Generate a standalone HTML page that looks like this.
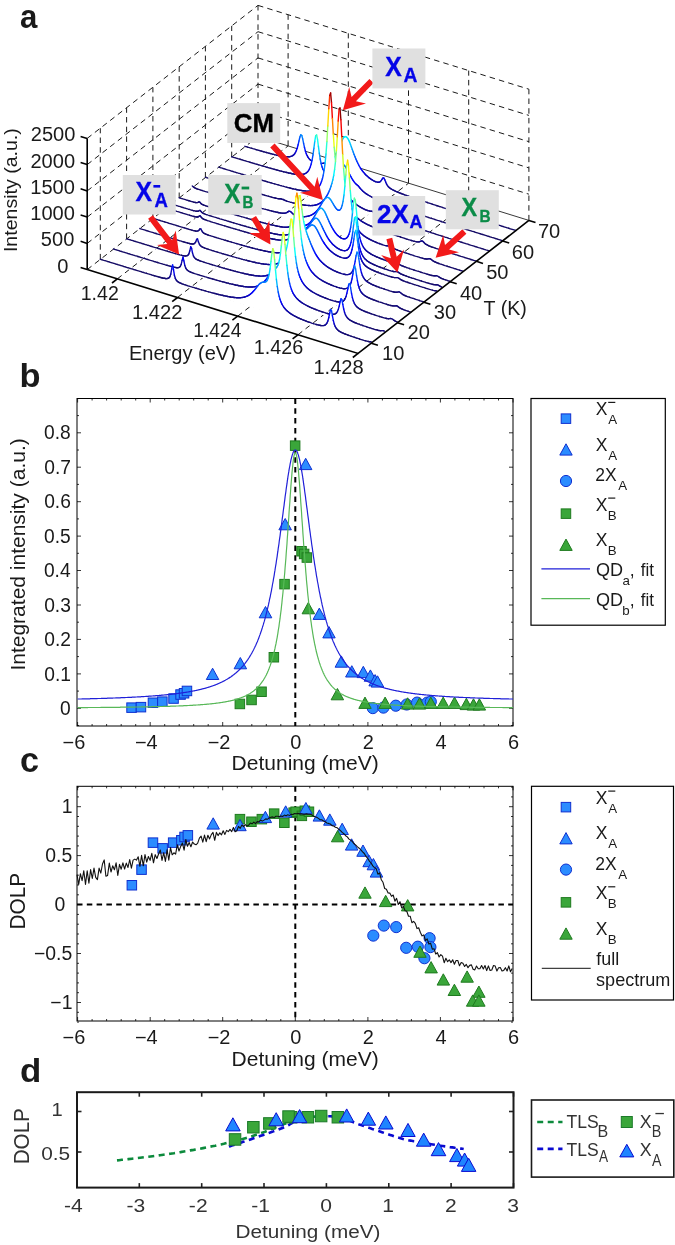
<!DOCTYPE html>
<html><head><meta charset="utf-8"><title>Figure</title>
<style>html,body{margin:0;padding:0;background:#fff;width:675px;height:1245px;overflow:hidden;font-family:"Liberation Sans",sans-serif;}svg{display:block;will-change:transform;}</style>
</head><body><svg width="675" height="1245" viewBox="0 0 675 1245" style="font-family:'Liberation Sans',sans-serif"><g stroke="#1a1a1a" stroke-width="1.0" stroke-dasharray="5.5,4.2" fill="none"><line x1="100.3" y1="259.4" x2="100.3" y2="128.2"/><line x1="126.6" y1="238.9" x2="126.6" y2="107.7"/><line x1="152.9" y1="218.5" x2="152.9" y2="87.3"/><line x1="179.2" y1="198" x2="179.2" y2="66.8"/><line x1="205.4" y1="177.5" x2="205.4" y2="46.3"/><line x1="231.7" y1="157.1" x2="231.7" y2="25.9"/><line x1="258" y1="136.6" x2="258" y2="5.4"/><line x1="87.2" y1="269.6" x2="258" y2="136.6"/><line x1="87.2" y1="243.4" x2="258" y2="110.4"/><line x1="87.2" y1="217.1" x2="258" y2="84.1"/><line x1="87.2" y1="190.9" x2="258" y2="57.9"/><line x1="87.2" y1="164.6" x2="258" y2="31.7"/><line x1="87.2" y1="138.4" x2="258" y2="5.4"/><line x1="288.1" y1="145.9" x2="288.1" y2="14.7"/><line x1="348.3" y1="164.5" x2="348.3" y2="33.3"/><line x1="408.5" y1="183.2" x2="408.5" y2="52"/><line x1="468.7" y1="201.8" x2="468.7" y2="70.6"/><line x1="528.9" y1="220.4" x2="528.9" y2="89.2"/><line x1="258" y1="110.4" x2="528.9" y2="194.2"/><line x1="258" y1="84.1" x2="528.9" y2="167.9"/><line x1="258" y1="57.9" x2="528.9" y2="141.7"/><line x1="258" y1="31.7" x2="528.9" y2="115.4"/><line x1="258" y1="5.4" x2="528.9" y2="89.2"/><line x1="117.3" y1="278.9" x2="288.1" y2="145.9"/><line x1="177.5" y1="297.5" x2="348.3" y2="164.5"/><line x1="237.7" y1="316.2" x2="408.5" y2="183.2"/><line x1="297.9" y1="334.8" x2="468.7" y2="201.8"/><line x1="100.3" y1="259.4" x2="371.2" y2="343.2"/><line x1="126.6" y1="238.9" x2="397.5" y2="322.7"/><line x1="152.9" y1="218.5" x2="423.8" y2="302.2"/><line x1="179.2" y1="198" x2="450.1" y2="281.8"/><line x1="205.4" y1="177.5" x2="476.3" y2="261.3"/><line x1="231.7" y1="157.1" x2="502.6" y2="240.9"/></g><line x1="258" y1="136.6" x2="528.9" y2="220.4" stroke="#222" stroke-width="0.9"/><g fill="none" stroke-width="1.4" stroke-linejoin="round" stroke-linecap="round"><polygon points="244.9,146.3 245.8,146.6 246.7,146.8 247.6,147.1 248.5,147.4 249.4,147.6 250.3,147.9 251.2,148.1 252.1,148.4 253,148.7 253.9,148.9 254.8,149.2 255.7,149.5 256.6,149.7 257.5,150 258.4,150.2 259.3,150.5 260.2,150.8 261.1,151 262,151.3 262.9,151.5 263.8,151.8 264.7,152 265.6,152.3 266.5,152.5 267.4,152.8 268.3,153 269.2,153.3 270.1,153.5 271,153.7 272,154 272.9,154.2 273.8,154.4 274.7,154.7 275.6,154.9 276.5,155.1 277.4,155.3 278.3,155.5 279.2,155.7 280.1,155.9 281,156.1 281.9,156.2 282.8,156.4 283.7,156.5 284.6,156.6 285.5,156.7 286.4,156.8 287.3,156.8 288.2,156.8 289.1,156.8 290,156.7 290.9,156.4 291.8,156.1 292.7,155.6 293.6,154.9 294.5,154 295.4,152.6 296.3,150.7 297.2,148.2 298.1,144.8 299,140.9 299.9,137 300.8,134.8 301.8,135.5 302.7,138.9 303.6,143.3 304.5,147.5 305.4,151 306.3,153.7 307.2,155.7 308.1,157.3 309,158.6 309.9,159.6 310.8,160.3 311.7,161 312.6,161.5 313.5,162 314.4,162.3 315.3,162.6 316.2,162.9 317.1,163.1 318,163.2 318.9,163.3 319.8,163.4 320.7,163.4 321.6,163.4 322.5,163.4 323.4,163.2 324.3,163.1 325.2,162.9 326.1,162.6 327,162.3 327.9,161.9 328.8,161.4 329.7,160.9 330.6,160.2 331.6,159.4 332.5,158.5 333.4,157.5 334.3,156.4 335.2,155.1 336.1,153.6 337,152 337.9,150.2 338.8,148.3 339.7,146.2 340.6,144 341.5,141.8 342.4,139.7 343.3,138 344.2,137 345.1,136.6 346,136.7 346.9,137.4 347.8,138.5 348.7,140.1 349.6,142.1 350.5,144.4 351.4,146.9 352.3,149.4 353.2,151.9 354.1,154.4 355,156.8 355.9,159 356.8,161.1 357.7,163 358.6,164.8 359.5,166.5 360.4,168 361.3,169.4 362.3,170.7 363.2,171.9 364.1,172.9 365,174 365.9,174.9 366.8,175.8 367.7,176.6 368.6,177.4 369.5,178.1 370.4,178.7 371.3,179.4 372.2,179.9 373.1,180.5 374,181 374.9,181.4 375.8,181.8 376.7,182 377.6,182.2 378.5,182.3 379.4,182.1 380.3,181.6 381.2,180.6 382.1,179.2 383,177.9 383.9,178.1 384.8,179.8 385.7,182.1 386.6,184.1 387.5,185.6 388.4,186.7 389.3,187.6 390.2,188.3 391.1,188.9 392.1,189.5 393,190 393.9,190.4 394.8,190.8 395.7,191.3 396.6,191.7 397.5,192 398.4,192.4 399.3,192.8 400.2,193.1 401.1,193.5 402,193.8 402.9,194.2 403.8,194.5 404.7,194.8 405.6,195.2 406.5,195.5 407.4,195.8 408.3,196.1 409.2,196.4 410.1,196.8 411,197.1 411.9,197.4 412.8,197.7 413.7,198 414.6,198.3 415.5,198.6 416.4,198.9 417.3,199.2 418.2,199.5 419.1,199.8 420,200.1 420.9,200.4 421.9,200.7 422.8,201 423.7,201.3 424.6,201.6 425.5,201.9 426.4,202.2 427.3,202.5 428.2,202.8 429.1,203.1 430,203.4 430.9,203.7 431.8,204 432.7,204.3 433.6,204.6 434.5,204.9 435.4,205.2 436.3,205.5 437.2,205.8 438.1,206 439,206.3 439.9,206.6 440.8,206.9 441.7,207.2 442.6,207.5 443.5,207.8 444.4,208.1 445.3,208.4 446.2,208.7 447.1,208.9 448,209.2 448.9,209.5 449.8,209.8 450.7,210.1 451.6,210.4 452.6,210.7 453.5,210.9 454.4,211.2 455.3,211.5 456.2,211.8 457.1,212.1 458,212.4 458.9,212.7 459.8,212.9 460.7,213.2 461.6,213.5 462.5,213.8 463.4,214.1 464.3,214.4 465.2,214.7 466.1,214.9 467,215.2 467.9,215.5 468.8,215.8 469.7,216.1 470.6,216.4 471.5,216.6 472.4,216.9 473.3,217.2 474.2,217.5 475.1,217.8 476,218.1 476.9,218.3 477.8,218.6 478.7,218.9 479.6,219.2 480.5,219.5 481.4,219.8 482.4,220 483.3,220.3 484.2,220.6 485.1,220.9 486,221.2 486.9,221.5 487.8,221.7 488.7,222 489.6,222.3 490.5,222.6 491.4,222.9 492.3,223.2 493.2,223.4 494.1,223.7 495,224 495.9,224.3 496.8,224.6 497.7,224.8 498.6,225.1 499.5,225.4 500.4,225.7 501.3,226 502.2,226.3 503.1,226.5 504,226.8 504.9,227.1 505.8,227.4 506.7,227.7 507.6,227.9 508.5,228.2 509.4,228.5 510.3,228.8 511.2,229.1 512.1,229.3 513.1,229.6 514,229.9 514.9,230.2 515.8,230.5 515.8,231.8 244.9,148" fill="#fff" stroke="none"/><polyline points="244.9,146.3 245.8,146.6 246.7,146.8 247.6,147.1" stroke="#160c6c"/><polyline points="247.6,147.1 248.5,147.4 249.4,147.6 250.3,147.9 251.2,148.1" stroke="#150c6c"/><polyline points="251.2,148.1 252.1,148.4 253,148.7 253.9,148.9 254.8,149.2 255.7,149.5 256.6,149.7" stroke="#150c6d"/><polyline points="256.6,149.7 257.5,150 258.4,150.2 259.3,150.5 260.2,150.8 261.1,151" stroke="#150c6e"/><polyline points="261.1,151 262,151.3 262.9,151.5 263.8,151.8" stroke="#150b6f"/><polyline points="263.8,151.8 264.7,152 265.6,152.3 266.5,152.5" stroke="#150b70"/><polyline points="266.5,152.5 267.4,152.8 268.3,153 269.2,153.3" stroke="#150b71"/><polyline points="269.2,153.3 270.1,153.5 271,153.7" stroke="#150b72"/><polyline points="271,153.7 272,154 272.9,154.2" stroke="#140b73"/><polyline points="272.9,154.2 273.8,154.4 274.7,154.7" stroke="#140b74"/><polyline points="274.7,154.7 275.6,154.9 276.5,155.1" stroke="#140b75"/><polyline points="276.5,155.1 277.4,155.3" stroke="#140b76"/><polyline points="277.4,155.3 278.3,155.5" stroke="#140b77"/><polyline points="278.3,155.5 279.2,155.7 280.1,155.9" stroke="#140b78"/><polyline points="280.1,155.9 281,156.1" stroke="#130b79"/><polyline points="281,156.1 281.9,156.2" stroke="#130a7b"/><polyline points="281.9,156.2 282.8,156.4" stroke="#130a7c"/><polyline points="282.8,156.4 283.7,156.5" stroke="#130a7d"/><polyline points="283.7,156.5 284.6,156.6" stroke="#130a7f"/><polyline points="284.6,156.6 285.5,156.7" stroke="#120a80"/><polyline points="285.5,156.7 286.4,156.8" stroke="#120a82"/><polyline points="286.4,156.8 287.3,156.8" stroke="#120a85"/><polyline points="287.3,156.8 288.2,156.8" stroke="#110987"/><polyline points="288.2,156.8 289.1,156.8" stroke="#11098a"/><polyline points="289.1,156.8 290,156.7" stroke="#10098e"/><polyline points="290,156.7 290.9,156.4" stroke="#100893"/><polyline points="290.9,156.4 291.8,156.1" stroke="#0f0898"/><polyline points="291.8,156.1 292.7,155.6" stroke="#0e079f"/><polyline points="292.7,155.6 293.6,154.9" stroke="#0d07a7"/><polyline points="293.6,154.9 294.5,154" stroke="#0b06b1"/><polyline points="294.5,154 295.4,152.6" stroke="#0905bf"/><polyline points="295.4,152.6 296.3,150.7" stroke="#0603d1"/><polyline points="296.3,150.7 297.2,148.2" stroke="#0301e8"/><polyline points="297.2,148.2 298.1,144.8" stroke="#0006ff"/><polyline points="298.1,144.8 299,140.9" stroke="#0027ff"/><polyline points="299,140.9 299.9,137" stroke="#004eff"/><polyline points="299.9,137 300.8,134.8" stroke="#0073ff"/><polyline points="300.8,134.8 301.8,135.5" stroke="#0089ff"/><polyline points="301.8,135.5 302.7,138.9" stroke="#0085ff"/><polyline points="302.7,138.9 303.6,143.3" stroke="#006aff"/><polyline points="303.6,143.3 304.5,147.5" stroke="#0044ff"/><polyline points="304.5,147.5 305.4,151" stroke="#0021ff"/><polyline points="305.4,151 306.3,153.7" stroke="#0004ff"/><polyline points="306.3,153.7 307.2,155.7" stroke="#0301ea"/><polyline points="307.2,155.7 308.1,157.3" stroke="#0603d6"/><polyline points="308.1,157.3 309,158.6" stroke="#0804c8"/><polyline points="309,158.6 309.9,159.6" stroke="#0905bd"/><polyline points="309.9,159.6 310.8,160.3" stroke="#0a06b6"/><polyline points="310.8,160.3 311.7,161" stroke="#0b06b0"/><polyline points="311.7,161 312.6,161.5" stroke="#0c06ac"/><polyline points="312.6,161.5 313.5,162" stroke="#0c07aa"/><polyline points="313.5,162 314.4,162.3" stroke="#0d07a8"/><polyline points="314.4,162.3 315.3,162.6 316.2,162.9 317.1,163.1" stroke="#0d07a7"/><polyline points="317.1,163.1 318,163.2" stroke="#0c07a8"/><polyline points="318,163.2 318.9,163.3" stroke="#0c07a9"/><polyline points="318.9,163.3 319.8,163.4" stroke="#0c06ab"/><polyline points="319.8,163.4 320.7,163.4" stroke="#0c06ad"/><polyline points="320.7,163.4 321.6,163.4" stroke="#0b06b0"/><polyline points="321.6,163.4 322.5,163.4" stroke="#0b06b3"/><polyline points="322.5,163.4 323.4,163.2" stroke="#0a05b7"/><polyline points="323.4,163.2 324.3,163.1" stroke="#0a05bb"/><polyline points="324.3,163.1 325.2,162.9" stroke="#0905c0"/><polyline points="325.2,162.9 326.1,162.6" stroke="#0804c5"/><polyline points="326.1,162.6 327,162.3" stroke="#0704cb"/><polyline points="327,162.3 327.9,161.9" stroke="#0603d2"/><polyline points="327.9,161.9 328.8,161.4" stroke="#0503d9"/><polyline points="328.8,161.4 329.7,160.9" stroke="#0402e1"/><polyline points="329.7,160.9 330.6,160.2" stroke="#0301ea"/><polyline points="330.6,160.2 331.6,159.4" stroke="#0100f5"/><polyline points="331.6,159.4 332.5,158.5" stroke="#0001ff"/><polyline points="332.5,158.5 333.4,157.5" stroke="#000bff"/><polyline points="333.4,157.5 334.3,156.4" stroke="#0017ff"/><polyline points="334.3,156.4 335.2,155.1" stroke="#0024ff"/><polyline points="335.2,155.1 336.1,153.6" stroke="#0032ff"/><polyline points="336.1,153.6 337,152" stroke="#0042ff"/><polyline points="337,152 337.9,150.2" stroke="#0053ff"/><polyline points="337.9,150.2 338.8,148.3" stroke="#0066ff"/><polyline points="338.8,148.3 339.7,146.2" stroke="#007aff"/><polyline points="339.7,146.2 340.6,144" stroke="#008fff"/><polyline points="340.6,144 341.5,141.8" stroke="#00a5ff"/><polyline points="341.5,141.8 342.4,139.7" stroke="#00bcff"/><polyline points="342.4,139.7 343.3,138" stroke="#00d1ff"/><polyline points="343.3,138 344.2,137" stroke="#00e3ff"/><polyline points="344.2,137 345.1,136.6" stroke="#00efff"/><polyline points="345.1,136.6 346,136.7" stroke="#00f5ff"/><polyline points="346,136.7 346.9,137.4" stroke="#00f6ff"/><polyline points="346.9,137.4 347.8,138.5" stroke="#00f3ff"/><polyline points="347.8,138.5 348.7,140.1" stroke="#00ebff"/><polyline points="348.7,140.1 349.6,142.1" stroke="#00dfff"/><polyline points="349.6,142.1 350.5,144.4" stroke="#00d0ff"/><polyline points="350.5,144.4 351.4,146.9" stroke="#00beff"/><polyline points="351.4,146.9 352.3,149.4" stroke="#00aaff"/><polyline points="352.3,149.4 353.2,151.9" stroke="#0095ff"/><polyline points="353.2,151.9 354.1,154.4" stroke="#0081ff"/><polyline points="354.1,154.4 355,156.8" stroke="#006dff"/><polyline points="355,156.8 355.9,159" stroke="#005aff"/><polyline points="355.9,159 356.8,161.1" stroke="#0049ff"/><polyline points="356.8,161.1 357.7,163" stroke="#0038ff"/><polyline points="357.7,163 358.6,164.8" stroke="#0029ff"/><polyline points="358.6,164.8 359.5,166.5" stroke="#001cff"/><polyline points="359.5,166.5 360.4,168" stroke="#000fff"/><polyline points="360.4,168 361.3,169.4" stroke="#0004ff"/><polyline points="361.3,169.4 362.3,170.7" stroke="#0000f8"/><polyline points="362.3,170.7 363.2,171.9" stroke="#0201ed"/><polyline points="363.2,171.9 364.1,172.9" stroke="#0402e3"/><polyline points="364.1,172.9 365,174" stroke="#0503da"/><polyline points="365,174 365.9,174.9" stroke="#0603d2"/><polyline points="365.9,174.9 366.8,175.8" stroke="#0704cb"/><polyline points="366.8,175.8 367.7,176.6" stroke="#0804c5"/><polyline points="367.7,176.6 368.6,177.4" stroke="#0905bf"/><polyline points="368.6,177.4 369.5,178.1" stroke="#0a05b9"/><polyline points="369.5,178.1 370.4,178.7" stroke="#0b06b5"/><polyline points="370.4,178.7 371.3,179.4" stroke="#0b06b1"/><polyline points="371.3,179.4 372.2,179.9" stroke="#0c06ad"/><polyline points="372.2,179.9 373.1,180.5" stroke="#0c07aa"/><polyline points="373.1,180.5 374,181" stroke="#0d07a7"/><polyline points="374,181 374.9,181.4" stroke="#0d07a5"/><polyline points="374.9,181.4 375.8,181.8" stroke="#0d07a3"/><polyline points="375.8,181.8 376.7,182 377.6,182.2" stroke="#0d07a2"/><polyline points="377.6,182.2 378.5,182.3" stroke="#0d07a3"/><polyline points="378.5,182.3 379.4,182.1" stroke="#0d07a6"/><polyline points="379.4,182.1 380.3,181.6" stroke="#0c06ab"/><polyline points="380.3,181.6 381.2,180.6" stroke="#0b06b3"/><polyline points="381.2,180.6 382.1,179.2" stroke="#0905c1"/><polyline points="382.1,179.2 383,177.9" stroke="#0603d3"/><polyline points="383,177.9 383.9,178.1" stroke="#0402e4"/><polyline points="383.9,178.1 384.8,179.8" stroke="#0302e6"/><polyline points="384.8,179.8 385.7,182.1" stroke="#0603d5"/><polyline points="385.7,182.1 386.6,184.1" stroke="#0905c0"/><polyline points="386.6,184.1 387.5,185.6" stroke="#0c06ad"/><polyline points="387.5,185.6 388.4,186.7" stroke="#0e07a0"/><polyline points="388.4,186.7 389.3,187.6" stroke="#0f0897"/><polyline points="389.3,187.6 390.2,188.3" stroke="#100991"/><polyline points="390.2,188.3 391.1,188.9" stroke="#11098c"/><polyline points="391.1,188.9 392.1,189.5" stroke="#110988"/><polyline points="392.1,189.5 393,190" stroke="#120a85"/><polyline points="393,190 393.9,190.4" stroke="#120a83"/><polyline points="393.9,190.4 394.8,190.8" stroke="#120a81"/><polyline points="394.8,190.8 395.7,191.3" stroke="#130a7f"/><polyline points="395.7,191.3 396.6,191.7" stroke="#130a7e"/><polyline points="396.6,191.7 397.5,192" stroke="#130a7c"/><polyline points="397.5,192 398.4,192.4" stroke="#130a7b"/><polyline points="398.4,192.4 399.3,192.8" stroke="#130b7a"/><polyline points="399.3,192.8 400.2,193.1" stroke="#130b79"/><polyline points="400.2,193.1 401.1,193.5" stroke="#140b79"/><polyline points="401.1,193.5 402,193.8" stroke="#140b78"/><polyline points="402,193.8 402.9,194.2" stroke="#140b77"/><polyline points="402.9,194.2 403.8,194.5 404.7,194.8" stroke="#140b76"/><polyline points="404.7,194.8 405.6,195.2 406.5,195.5" stroke="#140b75"/><polyline points="406.5,195.5 407.4,195.8 408.3,196.1" stroke="#140b74"/><polyline points="408.3,196.1 409.2,196.4 410.1,196.8" stroke="#140b73"/><polyline points="410.1,196.8 411,197.1 411.9,197.4 412.8,197.7" stroke="#150b72"/><polyline points="412.8,197.7 413.7,198 414.6,198.3 415.5,198.6" stroke="#150b71"/><polyline points="415.5,198.6 416.4,198.9 417.3,199.2 418.2,199.5 419.1,199.8" stroke="#150b70"/><polyline points="419.1,199.8 420,200.1 420.9,200.4 421.9,200.7 422.8,201" stroke="#150b6f"/><polyline points="422.8,201 423.7,201.3 424.6,201.6 425.5,201.9 426.4,202.2 427.3,202.5" stroke="#150c6e"/><polyline points="427.3,202.5 428.2,202.8 429.1,203.1 430,203.4 430.9,203.7 431.8,204 432.7,204.3" stroke="#150c6d"/><polyline points="432.7,204.3 433.6,204.6 434.5,204.9 435.4,205.2 436.3,205.5 437.2,205.8" stroke="#150c6c"/><polyline points="437.2,205.8 438.1,206 439,206.3 439.9,206.6" stroke="#160c6c"/><polyline points="439.9,206.6 440.8,206.9 441.7,207.2 442.6,207.5 443.5,207.8 444.4,208.1 445.3,208.4 446.2,208.7 447.1,208.9 448,209.2 448.9,209.5" stroke="#160c6b"/><polyline points="448.9,209.5 449.8,209.8 450.7,210.1 451.6,210.4 452.6,210.7 453.5,210.9 454.4,211.2 455.3,211.5 456.2,211.8 457.1,212.1 458,212.4 458.9,212.7 459.8,212.9 460.7,213.2" stroke="#160c6a"/><polyline points="460.7,213.2 461.6,213.5 462.5,213.8 463.4,214.1 464.3,214.4 465.2,214.7 466.1,214.9 467,215.2 467.9,215.5 468.8,215.8 469.7,216.1 470.6,216.4 471.5,216.6 472.4,216.9 473.3,217.2 474.2,217.5 475.1,217.8 476,218.1 476.9,218.3 477.8,218.6 478.7,218.9" stroke="#160c69"/><polyline points="478.7,218.9 479.6,219.2 480.5,219.5 481.4,219.8 482.4,220 483.3,220.3 484.2,220.6 485.1,220.9 486,221.2 486.9,221.5 487.8,221.7 488.7,222 489.6,222.3 490.5,222.6 491.4,222.9 492.3,223.2 493.2,223.4 494.1,223.7 495,224 495.9,224.3 496.8,224.6 497.7,224.8 498.6,225.1 499.5,225.4 500.4,225.7 501.3,226 502.2,226.3 503.1,226.5 504,226.8 504.9,227.1 505.8,227.4 506.7,227.7 507.6,227.9 508.5,228.2" stroke="#160c68"/><polyline points="508.5,228.2 509.4,228.5 510.3,228.8 511.2,229.1 512.1,229.3 513.1,229.6 514,229.9 514.9,230.2 515.8,230.5" stroke="#160c67"/><polygon points="231.7,156.8 232.6,157 233.5,157.3 234.4,157.6 235.3,157.8 236.2,158.1 237.1,158.4 238,158.7 238.9,158.9 239.9,159.2 240.8,159.5 241.7,159.8 242.6,160 243.5,160.3 244.4,160.6 245.3,160.8 246.2,161.1 247.1,161.4 248,161.6 248.9,161.9 249.8,162.2 250.7,162.5 251.6,162.7 252.5,163 253.4,163.3 254.3,163.5 255.2,163.8 256.1,164.1 257,164.3 257.9,164.6 258.8,164.9 259.7,165.1 260.6,165.4 261.5,165.7 262.4,165.9 263.3,166.2 264.2,166.4 265.1,166.7 266,167 266.9,167.2 267.8,167.5 268.7,167.7 269.6,168 270.6,168.3 271.5,168.5 272.4,168.8 273.3,169 274.2,169.3 275.1,169.5 276,169.8 276.9,170 277.8,170.2 278.7,170.5 279.6,170.7 280.5,171 281.4,171.2 282.3,171.4 283.2,171.7 284.1,171.9 285,172.1 285.9,172.3 286.8,172.5 287.7,172.7 288.6,173 289.5,173.1 290.4,173.3 291.3,173.5 292.2,173.7 293.1,173.9 294,174 294.9,174.2 295.8,174.3 296.7,174.4 297.6,174.5 298.5,174.5 299.4,174.6 300.4,174.6 301.3,174.5 302.2,174.4 303.1,174.3 304,174.1 304.9,173.7 305.8,173.3 306.7,172.6 307.6,171.8 308.5,170.6 309.4,169.1 310.3,166.9 311.2,164 312.1,160.1 313,154.8 313.9,148.2 314.8,141.1 315.7,135.7 316.6,134.9 317.5,139.1 318.4,146.1 319.3,153.1 320.2,159 321.1,163.5 322,166.8 322.9,169.2 323.8,170.9 324.7,172.2 325.6,173.1 326.5,173.7 327.4,174 328.3,174.1 329.2,174.1 330.2,173.9 331.1,173.6 332,173.1 332.9,172.4 333.8,171.7 334.7,170.8 335.6,169.9 336.5,168.8 337.4,167.8 338.3,166.7 339.2,165.8 340.1,165 341,164.4 341.9,164.2 342.8,164.3 343.7,164.8 344.6,165.7 345.5,166.8 346.4,168.3 347.3,169.9 348.2,171.6 349.1,173.3 350,175.1 350.9,176.7 351.8,178.3 352.7,179.8 353.6,181.1 354.5,182.4 355.4,183.4 356.3,184.3 357.2,185.1 358.1,185.8 359,186.8 359.9,188 360.9,189.1 361.8,190.1 362.7,191 363.6,191.8 364.5,192.5 365.4,193.2 366.3,193.8 367.2,194.4 368.1,195 369,195.5 369.9,196 370.8,196.5 371.7,197 372.6,197.4 373.5,197.8 374.4,198.3 375.3,198.7 376.2,199.1 377.1,199.5 378,199.9 378.9,200.2 379.8,200.6 380.7,201 381.6,201.3 382.5,201.7 383.4,202 384.3,202.3 385.2,202.6 386.1,202.9 387,203.2 387.9,203.5 388.8,203.8 389.7,204 390.7,204.2 391.6,204.4 392.5,204.5 393.4,204.5 394.3,204.4 395.2,204 396.1,203.4 397,202.4 397.9,201.3 398.8,200.9 399.7,201.9 400.6,203.6 401.5,205.3 402.4,206.5 403.3,207.5 404.2,208.2 405.1,208.8 406,209.4 406.9,209.8 407.8,210.2 408.7,210.6 409.6,211 410.5,211.3 411.4,211.7 412.3,212 413.2,212.3 414.1,212.7 415,213 415.9,213.3 416.8,213.6 417.7,213.9 418.6,214.2 419.5,214.5 420.5,214.8 421.4,215.1 422.3,215.4 423.2,215.7 424.1,216 425,216.3 425.9,216.6 426.8,216.9 427.7,217.2 428.6,217.5 429.5,217.8 430.4,218.1 431.3,218.3 432.2,218.6 433.1,218.9 434,219.2 434.9,219.5 435.8,219.8 436.7,220.1 437.6,220.4 438.5,220.6 439.4,220.9 440.3,221.2 441.2,221.5 442.1,221.8 443,222.1 443.9,222.4 444.8,222.7 445.7,222.9 446.6,223.2 447.5,223.5 448.4,223.8 449.3,224.1 450.2,224.4 451.2,224.6 452.1,224.9 453,225.2 453.9,225.5 454.8,225.8 455.7,226.1 456.6,226.4 457.5,226.6 458.4,226.9 459.3,227.2 460.2,227.5 461.1,227.8 462,228.1 462.9,228.3 463.8,228.6 464.7,228.9 465.6,229.2 466.5,229.5 467.4,229.8 468.3,230 469.2,230.3 470.1,230.6 471,230.9 471.9,231.2 472.8,231.4 473.7,231.7 474.6,232 475.5,232.3 476.4,232.6 477.3,232.9 478.2,233.1 479.1,233.4 480,233.7 481,234 481.9,234.3 482.8,234.5 483.7,234.8 484.6,235.1 485.5,235.4 486.4,235.7 487.3,236 488.2,236.2 489.1,236.5 490,236.8 490.9,237.1 491.8,237.4 492.7,237.6 493.6,237.9 494.5,238.2 495.4,238.5 496.3,238.8 497.2,239 498.1,239.3 499,239.6 499.9,239.9 500.8,240.2 501.7,240.5 502.6,240.7 502.6,242.1 231.7,158.3" fill="#fff" stroke="none"/><polyline points="231.7,156.8 232.6,157 233.5,157.3 234.4,157.6 235.3,157.8 236.2,158.1 237.1,158.4 238,158.7 238.9,158.9 239.9,159.2" stroke="#160c69"/><polyline points="239.9,159.2 240.8,159.5 241.7,159.8 242.6,160 243.5,160.3 244.4,160.6 245.3,160.8 246.2,161.1 247.1,161.4 248,161.6 248.9,161.9 249.8,162.2" stroke="#160c6a"/><polyline points="249.8,162.2 250.7,162.5 251.6,162.7 252.5,163 253.4,163.3 254.3,163.5 255.2,163.8 256.1,164.1 257,164.3" stroke="#160c6b"/><polyline points="257,164.3 257.9,164.6 258.8,164.9" stroke="#160c6c"/><polyline points="258.8,164.9 259.7,165.1 260.6,165.4 261.5,165.7 262.4,165.9" stroke="#150c6c"/><polyline points="262.4,165.9 263.3,166.2 264.2,166.4 265.1,166.7 266,167 266.9,167.2" stroke="#150c6d"/><polyline points="266.9,167.2 267.8,167.5 268.7,167.7 269.6,168 270.6,168.3" stroke="#150c6e"/><polyline points="270.6,168.3 271.5,168.5 272.4,168.8 273.3,169 274.2,169.3" stroke="#150b6f"/><polyline points="274.2,169.3 275.1,169.5 276,169.8 276.9,170" stroke="#150b70"/><polyline points="276.9,170 277.8,170.2 278.7,170.5 279.6,170.7" stroke="#150b71"/><polyline points="279.6,170.7 280.5,171 281.4,171.2" stroke="#150b72"/><polyline points="281.4,171.2 282.3,171.4 283.2,171.7" stroke="#140b73"/><polyline points="283.2,171.7 284.1,171.9" stroke="#140b74"/><polyline points="284.1,171.9 285,172.1 285.9,172.3" stroke="#140b75"/><polyline points="285.9,172.3 286.8,172.5" stroke="#140b76"/><polyline points="286.8,172.5 287.7,172.7 288.6,173" stroke="#140b77"/><polyline points="288.6,173 289.5,173.1" stroke="#140b78"/><polyline points="289.5,173.1 290.4,173.3" stroke="#140b79"/><polyline points="290.4,173.3 291.3,173.5" stroke="#130b7a"/><polyline points="291.3,173.5 292.2,173.7" stroke="#130a7b"/><polyline points="292.2,173.7 293.1,173.9" stroke="#130a7c"/><polyline points="293.1,173.9 294,174" stroke="#130a7d"/><polyline points="294,174 294.9,174.2" stroke="#130a7f"/><polyline points="294.9,174.2 295.8,174.3" stroke="#120a80"/><polyline points="295.8,174.3 296.7,174.4" stroke="#120a82"/><polyline points="296.7,174.4 297.6,174.5" stroke="#120a84"/><polyline points="297.6,174.5 298.5,174.5" stroke="#120a86"/><polyline points="298.5,174.5 299.4,174.6" stroke="#110988"/><polyline points="299.4,174.6 300.4,174.6" stroke="#11098b"/><polyline points="300.4,174.6 301.3,174.5" stroke="#10098e"/><polyline points="301.3,174.5 302.2,174.4" stroke="#100991"/><polyline points="302.2,174.4 303.1,174.3" stroke="#0f0895"/><polyline points="303.1,174.3 304,174.1" stroke="#0f089a"/><polyline points="304,174.1 304.9,173.7" stroke="#0e07a0"/><polyline points="304.9,173.7 305.8,173.3" stroke="#0d07a6"/><polyline points="305.8,173.3 306.7,172.6" stroke="#0c06ae"/><polyline points="306.7,172.6 307.6,171.8" stroke="#0a05b8"/><polyline points="307.6,171.8 308.5,170.6" stroke="#0804c4"/><polyline points="308.5,170.6 309.4,169.1" stroke="#0603d4"/><polyline points="309.4,169.1 310.3,166.9" stroke="#0301e8"/><polyline points="310.3,166.9 311.2,164" stroke="#0003ff"/><polyline points="311.2,164 312.1,160.1" stroke="#001fff"/><polyline points="312.1,160.1 313,154.8" stroke="#0046ff"/><polyline points="313,154.8 313.9,148.2" stroke="#0078ff"/><polyline points="313.9,148.2 314.8,141.1" stroke="#00b6ff"/><polyline points="314.8,141.1 315.7,135.7" stroke="#00f9ff"/><polyline points="315.7,135.7 316.6,134.9" stroke="#2dffd1"/><polyline points="316.6,134.9 317.5,139.1" stroke="#37ffc7"/><polyline points="317.5,139.1 318.4,146.1" stroke="#13ffeb"/><polyline points="318.4,146.1 319.3,153.1" stroke="#00d6ff"/><polyline points="319.3,153.1 320.2,159" stroke="#0098ff"/><polyline points="320.2,159 321.1,163.5" stroke="#0066ff"/><polyline points="321.1,163.5 322,166.8" stroke="#0040ff"/><polyline points="322,166.8 322.9,169.2" stroke="#0025ff"/><polyline points="322.9,169.2 323.8,170.9" stroke="#0012ff"/><polyline points="323.8,170.9 324.7,172.2" stroke="#0004ff"/><polyline points="324.7,172.2 325.6,173.1" stroke="#0000fa"/><polyline points="325.6,173.1 326.5,173.7" stroke="#0100f3"/><polyline points="326.5,173.7 327.4,174" stroke="#0201f0"/><polyline points="327.4,174 328.3,174.1" stroke="#0201ef"/><polyline points="328.3,174.1 329.2,174.1" stroke="#0201f1"/><polyline points="329.2,174.1 330.2,173.9" stroke="#0100f4"/><polyline points="330.2,173.9 331.1,173.6" stroke="#0000f9"/><polyline points="331.1,173.6 332,173.1" stroke="#0001ff"/><polyline points="332,173.1 332.9,172.4" stroke="#0008ff"/><polyline points="332.9,172.4 333.8,171.7" stroke="#0010ff"/><polyline points="333.8,171.7 334.7,170.8" stroke="#0019ff"/><polyline points="334.7,170.8 335.6,169.9" stroke="#0024ff"/><polyline points="335.6,169.9 336.5,168.8" stroke="#002fff"/><polyline points="336.5,168.8 337.4,167.8" stroke="#003bff"/><polyline points="337.4,167.8 338.3,166.7" stroke="#0047ff"/><polyline points="338.3,166.7 339.2,165.8" stroke="#0053ff"/><polyline points="339.2,165.8 340.1,165" stroke="#005eff"/><polyline points="340.1,165 341,164.4" stroke="#0068ff"/><polyline points="341,164.4 341.9,164.2" stroke="#006fff"/><polyline points="341.9,164.2 342.8,164.3" stroke="#0074ff"/><polyline points="342.8,164.3 343.7,164.8" stroke="#0075ff"/><polyline points="343.7,164.8 344.6,165.7" stroke="#0073ff"/><polyline points="344.6,165.7 345.5,166.8" stroke="#006eff"/><polyline points="345.5,166.8 346.4,168.3" stroke="#0066ff"/><polyline points="346.4,168.3 347.3,169.9" stroke="#005bff"/><polyline points="347.3,169.9 348.2,171.6" stroke="#004fff"/><polyline points="348.2,171.6 349.1,173.3" stroke="#0043ff"/><polyline points="349.1,173.3 350,175.1" stroke="#0035ff"/><polyline points="350,175.1 350.9,176.7" stroke="#0028ff"/><polyline points="350.9,176.7 351.8,178.3" stroke="#001cff"/><polyline points="351.8,178.3 352.7,179.8" stroke="#0010ff"/><polyline points="352.7,179.8 353.6,181.1" stroke="#0005ff"/><polyline points="353.6,181.1 354.5,182.4" stroke="#0000f9"/><polyline points="354.5,182.4 355.4,183.4" stroke="#0201ef"/><polyline points="355.4,183.4 356.3,184.3" stroke="#0301e7"/><polyline points="356.3,184.3 357.2,185.1" stroke="#0402e0"/><polyline points="357.2,185.1 358.1,185.8" stroke="#0502db"/><polyline points="358.1,185.8 359,186.8" stroke="#0603d6"/><polyline points="359,186.8 359.9,188" stroke="#0704ce"/><polyline points="359.9,188 360.9,189.1" stroke="#0804c4"/><polyline points="360.9,189.1 361.8,190.1" stroke="#0a05bb"/><polyline points="361.8,190.1 362.7,191" stroke="#0b06b3"/><polyline points="362.7,191 363.6,191.8" stroke="#0c06ad"/><polyline points="363.6,191.8 364.5,192.5" stroke="#0d07a7"/><polyline points="364.5,192.5 365.4,193.2" stroke="#0d07a2"/><polyline points="365.4,193.2 366.3,193.8" stroke="#0e089e"/><polyline points="366.3,193.8 367.2,194.4" stroke="#0f089a"/><polyline points="367.2,194.4 368.1,195" stroke="#0f0897"/><polyline points="368.1,195 369,195.5" stroke="#0f0894"/><polyline points="369,195.5 369.9,196" stroke="#100991"/><polyline points="369.9,196 370.8,196.5" stroke="#10098f"/><polyline points="370.8,196.5 371.7,197" stroke="#11098d"/><polyline points="371.7,197 372.6,197.4" stroke="#11098a"/><polyline points="372.6,197.4 373.5,197.8" stroke="#110989"/><polyline points="373.5,197.8 374.4,198.3" stroke="#110987"/><polyline points="374.4,198.3 375.3,198.7" stroke="#120a85"/><polyline points="375.3,198.7 376.2,199.1" stroke="#120a84"/><polyline points="376.2,199.1 377.1,199.5" stroke="#120a83"/><polyline points="377.1,199.5 378,199.9" stroke="#120a81"/><polyline points="378,199.9 378.9,200.2" stroke="#120a80"/><polyline points="378.9,200.2 379.8,200.6" stroke="#130a7f"/><polyline points="379.8,200.6 380.7,201" stroke="#130a7e"/><polyline points="380.7,201 381.6,201.3 382.5,201.7" stroke="#130a7d"/><polyline points="382.5,201.7 383.4,202" stroke="#130a7c"/><polyline points="383.4,202 384.3,202.3 385.2,202.6" stroke="#130a7b"/><polyline points="385.2,202.6 386.1,202.9 387,203.2 387.9,203.5 388.8,203.8 389.7,204" stroke="#130b7a"/><polyline points="389.7,204 390.7,204.2 391.6,204.4" stroke="#130a7b"/><polyline points="391.6,204.4 392.5,204.5" stroke="#130a7d"/><polyline points="392.5,204.5 393.4,204.5" stroke="#130a7e"/><polyline points="393.4,204.5 394.3,204.4" stroke="#120a81"/><polyline points="394.3,204.4 395.2,204" stroke="#120a86"/><polyline points="395.2,204 396.1,203.4" stroke="#11098c"/><polyline points="396.1,203.4 397,202.4" stroke="#0f0896"/><polyline points="397,202.4 397.9,201.3" stroke="#0d07a4"/><polyline points="397.9,201.3 398.8,200.9" stroke="#0b06b3"/><polyline points="398.8,200.9 399.7,201.9" stroke="#0a05ba"/><polyline points="399.7,201.9 400.6,203.6" stroke="#0b06b3"/><polyline points="400.6,203.6 401.5,205.3" stroke="#0d07a3"/><polyline points="401.5,205.3 402.4,206.5" stroke="#0f0894"/><polyline points="402.4,206.5 403.3,207.5" stroke="#11098a"/><polyline points="403.3,207.5 404.2,208.2" stroke="#120a82"/><polyline points="404.2,208.2 405.1,208.8" stroke="#130a7d"/><polyline points="405.1,208.8 406,209.4" stroke="#130b7a"/><polyline points="406,209.4 406.9,209.8" stroke="#140b77"/><polyline points="406.9,209.8 407.8,210.2" stroke="#140b75"/><polyline points="407.8,210.2 408.7,210.6" stroke="#140b74"/><polyline points="408.7,210.6 409.6,211" stroke="#140b73"/><polyline points="409.6,211 410.5,211.3" stroke="#150b72"/><polyline points="410.5,211.3 411.4,211.7" stroke="#150b71"/><polyline points="411.4,211.7 412.3,212" stroke="#150b70"/><polyline points="412.3,212 413.2,212.3 414.1,212.7 415,213" stroke="#150b6f"/><polyline points="415,213 415.9,213.3 416.8,213.6" stroke="#150c6e"/><polyline points="416.8,213.6 417.7,213.9 418.6,214.2 419.5,214.5 420.5,214.8" stroke="#150c6d"/><polyline points="420.5,214.8 421.4,215.1 422.3,215.4 423.2,215.7" stroke="#150c6c"/><polyline points="423.2,215.7 424.1,216 425,216.3" stroke="#160c6c"/><polyline points="425,216.3 425.9,216.6 426.8,216.9 427.7,217.2 428.6,217.5 429.5,217.8 430.4,218.1 431.3,218.3" stroke="#160c6b"/><polyline points="431.3,218.3 432.2,218.6 433.1,218.9 434,219.2 434.9,219.5 435.8,219.8 436.7,220.1 437.6,220.4 438.5,220.6 439.4,220.9 440.3,221.2 441.2,221.5" stroke="#160c6a"/><polyline points="441.2,221.5 442.1,221.8 443,222.1 443.9,222.4 444.8,222.7 445.7,222.9 446.6,223.2 447.5,223.5 448.4,223.8 449.3,224.1 450.2,224.4 451.2,224.6 452.1,224.9 453,225.2 453.9,225.5 454.8,225.8 455.7,226.1" stroke="#160c69"/><polyline points="455.7,226.1 456.6,226.4 457.5,226.6 458.4,226.9 459.3,227.2 460.2,227.5 461.1,227.8 462,228.1 462.9,228.3 463.8,228.6 464.7,228.9 465.6,229.2 466.5,229.5 467.4,229.8 468.3,230 469.2,230.3 470.1,230.6 471,230.9 471.9,231.2 472.8,231.4 473.7,231.7 474.6,232 475.5,232.3 476.4,232.6 477.3,232.9 478.2,233.1 479.1,233.4 480,233.7" stroke="#160c68"/><polyline points="480,233.7 481,234 481.9,234.3 482.8,234.5 483.7,234.8 484.6,235.1 485.5,235.4 486.4,235.7 487.3,236 488.2,236.2 489.1,236.5 490,236.8 490.9,237.1 491.8,237.4 492.7,237.6 493.6,237.9 494.5,238.2 495.4,238.5 496.3,238.8 497.2,239 498.1,239.3 499,239.6 499.9,239.9 500.8,240.2 501.7,240.5 502.6,240.7" stroke="#160c67"/><polygon points="218.6,167.1 219.5,167.4 220.4,167.7 221.3,167.9 222.2,168.2 223.1,168.5 224,168.8 224.9,169 225.8,169.3 226.7,169.6 227.6,169.9 228.5,170.1 229.4,170.4 230.3,170.7 231.2,171 232.1,171.2 233,171.5 233.9,171.8 234.8,172.1 235.7,172.3 236.6,172.6 237.5,172.9 238.5,173.2 239.4,173.4 240.3,173.7 241.2,174 242.1,174.2 243,174.5 243.9,174.8 244.8,175.1 245.7,175.3 246.6,175.6 247.5,175.9 248.4,176.2 249.3,176.4 250.2,176.7 251.1,177 252,177.2 252.9,177.5 253.8,177.8 254.7,178.1 255.6,178.3 256.5,178.6 257.4,178.9 258.3,179.1 259.2,179.4 260.1,179.7 261,179.9 261.9,180.2 262.8,180.5 263.7,180.7 264.6,181 265.5,181.3 266.4,181.5 267.3,181.8 268.2,182.1 269.2,182.3 270.1,182.6 271,182.8 271.9,183.1 272.8,183.4 273.7,183.6 274.6,183.9 275.5,184.1 276.4,184.4 277.3,184.6 278.2,184.9 279.1,185.1 280,185.4 280.9,185.6 281.8,185.9 282.7,186.1 283.6,186.4 284.5,186.6 285.4,186.9 286.3,187.1 287.2,187.3 288.1,187.6 289,187.8 289.9,188 290.8,188.3 291.7,188.5 292.6,188.7 293.5,188.9 294.4,189.1 295.3,189.3 296.2,189.5 297.1,189.7 298,189.9 299,190.1 299.9,190.2 300.8,190.4 301.7,190.5 302.6,190.7 303.5,190.8 304.4,190.9 305.3,191 306.2,191.1 307.1,191.1 308,191.2 308.9,191.2 309.8,191.1 310.7,191.1 311.6,190.9 312.5,190.8 313.4,190.5 314.3,190.2 315.2,189.8 316.1,189.3 317,188.7 317.9,187.9 318.8,186.8 319.7,185.5 320.6,183.8 321.5,181.6 322.4,178.8 323.3,175 324.2,169.9 325.1,163.1 326,153.9 326.9,141.6 327.8,126 328.8,108.8 329.7,95.5 330.6,92.9 331.5,102.6 332.4,118.5 333.3,134.3 334.2,147.1 335.1,156.8 336,163.9 336.9,169.1 337.8,173.2 338.7,176.4 339.6,179.1 340.5,181.5 341.4,183.7 342.3,185.7 343.2,187.6 344.1,189.4 345,191.1 345.9,192.6 346.8,194.1 347.7,195.5 348.6,196.8 349.5,198 350.4,199 351.3,200.1 352.2,201 353.1,201.9 354,202.7 354.9,203.4 355.8,204.1 356.7,204.8 357.6,205.4 358.6,206 359.5,206.6 360.4,207.1 361.3,207.7 362.2,208.1 363.1,208.6 364,209 364.9,209.5 365.8,209.9 366.7,210.2 367.6,210.5 368.5,210.8 369.4,211 370.3,211.1 371.2,211.2 372.1,211.3 373,211.7 373.9,212.4 374.8,213.1 375.7,213.7 376.6,214.2 377.5,214.6 378.4,215 379.3,215.4 380.2,215.8 381.1,216.2 382,216.5 382.9,216.8 383.8,217.2 384.7,217.5 385.6,217.8 386.5,218.1 387.4,218.5 388.3,218.8 389.3,219.1 390.2,219.4 391.1,219.7 392,220 392.9,220.3 393.8,220.6 394.7,220.9 395.6,221.2 396.5,221.5 397.4,221.8 398.3,222 399.2,222.3 400.1,222.6 401,222.9 401.9,223.1 402.8,223.4 403.7,223.6 404.6,223.8 405.5,224 406.4,224.1 407.3,224.2 408.2,224.2 409.1,224 410,223.7 410.9,223.1 411.8,222.4 412.7,222.2 413.6,222.9 414.5,224.2 415.4,225.4 416.3,226.4 417.2,227.1 418.1,227.7 419.1,228.2 420,228.6 420.9,229 421.8,229.4 422.7,229.7 423.6,230.1 424.5,230.4 425.4,230.7 426.3,231 427.2,231.3 428.1,231.6 429,231.9 429.9,232.2 430.8,232.5 431.7,232.8 432.6,233.1 433.5,233.4 434.4,233.7 435.3,234 436.2,234.3 437.1,234.6 438,234.9 438.9,235.2 439.8,235.4 440.7,235.7 441.6,236 442.5,236.3 443.4,236.6 444.3,236.9 445.2,237.2 446.1,237.4 447,237.7 447.9,238 448.8,238.3 449.8,238.6 450.7,238.9 451.6,239.1 452.5,239.4 453.4,239.7 454.3,240 455.2,240.3 456.1,240.6 457,240.8 457.9,241.1 458.8,241.4 459.7,241.7 460.6,242 461.5,242.3 462.4,242.5 463.3,242.8 464.2,243.1 465.1,243.4 466,243.7 466.9,243.9 467.8,244.2 468.7,244.5 469.6,244.8 470.5,245.1 471.4,245.4 472.3,245.6 473.2,245.9 474.1,246.2 475,246.5 475.9,246.8 476.8,247 477.7,247.3 478.6,247.6 479.6,247.9 480.5,248.2 481.4,248.5 482.3,248.7 483.2,249 484.1,249.3 485,249.6 485.9,249.9 486.8,250.1 487.7,250.4 488.6,250.7 489.5,251 489.5,252.3 218.6,168.5" fill="#fff" stroke="none"/><polyline points="218.6,167.1 219.5,167.4 220.4,167.7 221.3,167.9 222.2,168.2 223.1,168.5 224,168.8 224.9,169 225.8,169.3 226.7,169.6 227.6,169.9 228.5,170.1 229.4,170.4 230.3,170.7 231.2,171 232.1,171.2 233,171.5 233.9,171.8 234.8,172.1 235.7,172.3 236.6,172.6" stroke="#160c68"/><polyline points="236.6,172.6 237.5,172.9 238.5,173.2 239.4,173.4 240.3,173.7 241.2,174 242.1,174.2 243,174.5 243.9,174.8 244.8,175.1 245.7,175.3 246.6,175.6 247.5,175.9 248.4,176.2 249.3,176.4" stroke="#160c69"/><polyline points="249.3,176.4 250.2,176.7 251.1,177 252,177.2 252.9,177.5 253.8,177.8 254.7,178.1 255.6,178.3 256.5,178.6 257.4,178.9 258.3,179.1" stroke="#160c6a"/><polyline points="258.3,179.1 259.2,179.4 260.1,179.7 261,179.9 261.9,180.2 262.8,180.5 263.7,180.7 264.6,181 265.5,181.3" stroke="#160c6b"/><polyline points="265.5,181.3 266.4,181.5 267.3,181.8" stroke="#160c6c"/><polyline points="267.3,181.8 268.2,182.1 269.2,182.3 270.1,182.6 271,182.8" stroke="#150c6c"/><polyline points="271,182.8 271.9,183.1 272.8,183.4 273.7,183.6 274.6,183.9" stroke="#150c6d"/><polyline points="274.6,183.9 275.5,184.1 276.4,184.4 277.3,184.6 278.2,184.9" stroke="#150c6e"/><polyline points="278.2,184.9 279.1,185.1 280,185.4 280.9,185.6" stroke="#150b6f"/><polyline points="280.9,185.6 281.8,185.9 282.7,186.1 283.6,186.4" stroke="#150b70"/><polyline points="283.6,186.4 284.5,186.6 285.4,186.9 286.3,187.1" stroke="#150b71"/><polyline points="286.3,187.1 287.2,187.3 288.1,187.6" stroke="#150b72"/><polyline points="288.1,187.6 289,187.8 289.9,188" stroke="#140b73"/><polyline points="289.9,188 290.8,188.3" stroke="#140b74"/><polyline points="290.8,188.3 291.7,188.5 292.6,188.7" stroke="#140b75"/><polyline points="292.6,188.7 293.5,188.9" stroke="#140b76"/><polyline points="293.5,188.9 294.4,189.1 295.3,189.3" stroke="#140b77"/><polyline points="295.3,189.3 296.2,189.5" stroke="#140b78"/><polyline points="296.2,189.5 297.1,189.7" stroke="#130b79"/><polyline points="297.1,189.7 298,189.9" stroke="#130b7a"/><polyline points="298,189.9 299,190.1" stroke="#130a7b"/><polyline points="299,190.1 299.9,190.2" stroke="#130a7c"/><polyline points="299.9,190.2 300.8,190.4" stroke="#130a7e"/><polyline points="300.8,190.4 301.7,190.5" stroke="#130a7f"/><polyline points="301.7,190.5 302.6,190.7" stroke="#120a80"/><polyline points="302.6,190.7 303.5,190.8" stroke="#120a82"/><polyline points="303.5,190.8 304.4,190.9" stroke="#120a83"/><polyline points="304.4,190.9 305.3,191" stroke="#120a85"/><polyline points="305.3,191 306.2,191.1" stroke="#110987"/><polyline points="306.2,191.1 307.1,191.1" stroke="#11098a"/><polyline points="307.1,191.1 308,191.2" stroke="#11098c"/><polyline points="308,191.2 308.9,191.2" stroke="#10098f"/><polyline points="308.9,191.2 309.8,191.1" stroke="#100992"/><polyline points="309.8,191.1 310.7,191.1" stroke="#0f0895"/><polyline points="310.7,191.1 311.6,190.9" stroke="#0f0899"/><polyline points="311.6,190.9 312.5,190.8" stroke="#0e089d"/><polyline points="312.5,190.8 313.4,190.5" stroke="#0d07a2"/><polyline points="313.4,190.5 314.3,190.2" stroke="#0d07a8"/><polyline points="314.3,190.2 315.2,189.8" stroke="#0c06ae"/><polyline points="315.2,189.8 316.1,189.3" stroke="#0a06b5"/><polyline points="316.1,189.3 317,188.7" stroke="#0905be"/><polyline points="317,188.7 317.9,187.9" stroke="#0804c8"/><polyline points="317.9,187.9 318.8,186.8" stroke="#0603d4"/><polyline points="318.8,186.8 319.7,185.5" stroke="#0402e2"/><polyline points="319.7,185.5 320.6,183.8" stroke="#0100f4"/><polyline points="320.6,183.8 321.5,181.6" stroke="#0008ff"/><polyline points="321.5,181.6 322.4,178.8" stroke="#001fff"/><polyline points="322.4,178.8 323.3,175" stroke="#003bff"/><polyline points="323.3,175 324.2,169.9" stroke="#005fff"/><polyline points="324.2,169.9 325.1,163.1" stroke="#0090ff"/><polyline points="325.1,163.1 326,153.9" stroke="#00d0ff"/><polyline points="326,153.9 326.9,141.6" stroke="#27ffd7"/><polyline points="326.9,141.6 327.8,126" stroke="#99ff65"/><polyline points="327.8,126 328.8,108.8" stroke="#ffd500"/><polyline points="328.8,108.8 329.7,95.5" stroke="#ff3700"/><polyline points="329.7,95.5 330.6,92.9" stroke="#bb0000"/><polyline points="330.6,92.9 331.5,102.6" stroke="#a20000"/><polyline points="331.5,102.6 332.4,118.5" stroke="#f60000"/><polyline points="332.4,118.5 333.3,134.3" stroke="#ff8500"/><polyline points="333.3,134.3 334.2,147.1" stroke="#ecff12"/><polyline points="334.2,147.1 335.1,156.8" stroke="#7bff83"/><polyline points="335.1,156.8 336,163.9" stroke="#26ffd8"/><polyline points="336,163.9 336.9,169.1" stroke="#00e7ff"/><polyline points="336.9,169.1 337.8,173.2" stroke="#00baff"/><polyline points="337.8,173.2 338.7,176.4" stroke="#0098ff"/><polyline points="338.7,176.4 339.6,179.1" stroke="#007dff"/><polyline points="339.6,179.1 340.5,181.5" stroke="#0067ff"/><polyline points="340.5,181.5 341.4,183.7" stroke="#0054ff"/><polyline points="341.4,183.7 342.3,185.7" stroke="#0043ff"/><polyline points="342.3,185.7 343.2,187.6" stroke="#0034ff"/><polyline points="343.2,187.6 344.1,189.4" stroke="#0025ff"/><polyline points="344.1,189.4 345,191.1" stroke="#0017ff"/><polyline points="345,191.1 345.9,192.6" stroke="#000bff"/><polyline points="345.9,192.6 346.8,194.1" stroke="#0000fe"/><polyline points="346.8,194.1 347.7,195.5" stroke="#0201f1"/><polyline points="347.7,195.5 348.6,196.8" stroke="#0302e5"/><polyline points="348.6,196.8 349.5,198" stroke="#0503da"/><polyline points="349.5,198 350.4,199" stroke="#0603d0"/><polyline points="350.4,199 351.3,200.1" stroke="#0804c8"/><polyline points="351.3,200.1 352.2,201" stroke="#0905c0"/><polyline points="352.2,201 353.1,201.9" stroke="#0a05b8"/><polyline points="353.1,201.9 354,202.7" stroke="#0b06b2"/><polyline points="354,202.7 354.9,203.4" stroke="#0c06ac"/><polyline points="354.9,203.4 355.8,204.1" stroke="#0d07a7"/><polyline points="355.8,204.1 356.7,204.8" stroke="#0d07a2"/><polyline points="356.7,204.8 357.6,205.4" stroke="#0e089e"/><polyline points="357.6,205.4 358.6,206" stroke="#0f089a"/><polyline points="358.6,206 359.5,206.6" stroke="#0f0897"/><polyline points="359.5,206.6 360.4,207.1" stroke="#100894"/><polyline points="360.4,207.1 361.3,207.7" stroke="#100991"/><polyline points="361.3,207.7 362.2,208.1" stroke="#10098f"/><polyline points="362.2,208.1 363.1,208.6" stroke="#11098c"/><polyline points="363.1,208.6 364,209" stroke="#11098a"/><polyline points="364,209 364.9,209.5" stroke="#110989"/><polyline points="364.9,209.5 365.8,209.9" stroke="#110987"/><polyline points="365.8,209.9 366.7,210.2" stroke="#120a86"/><polyline points="366.7,210.2 367.6,210.5" stroke="#120a85"/><polyline points="367.6,210.5 368.5,210.8 369.4,211" stroke="#120a84"/><polyline points="369.4,211 370.3,211.1" stroke="#120a85"/><polyline points="370.3,211.1 371.2,211.2" stroke="#110987"/><polyline points="371.2,211.2 372.1,211.3" stroke="#11098a"/><polyline points="372.1,211.3 373,211.7" stroke="#11098b"/><polyline points="373,211.7 373.9,212.4" stroke="#11098a"/><polyline points="373.9,212.4 374.8,213.1" stroke="#120a86"/><polyline points="374.8,213.1 375.7,213.7" stroke="#120a81"/><polyline points="375.7,213.7 376.6,214.2" stroke="#130a7e"/><polyline points="376.6,214.2 377.5,214.6" stroke="#130a7b"/><polyline points="377.5,214.6 378.4,215" stroke="#130b79"/><polyline points="378.4,215 379.3,215.4" stroke="#140b78"/><polyline points="379.3,215.4 380.2,215.8" stroke="#140b77"/><polyline points="380.2,215.8 381.1,216.2" stroke="#140b76"/><polyline points="381.1,216.2 382,216.5" stroke="#140b75"/><polyline points="382,216.5 382.9,216.8 383.8,217.2" stroke="#140b74"/><polyline points="383.8,217.2 384.7,217.5" stroke="#140b73"/><polyline points="384.7,217.5 385.6,217.8 386.5,218.1 387.4,218.5" stroke="#150b72"/><polyline points="387.4,218.5 388.3,218.8 389.3,219.1" stroke="#150b71"/><polyline points="389.3,219.1 390.2,219.4 391.1,219.7 392,220 392.9,220.3" stroke="#150b70"/><polyline points="392.9,220.3 393.8,220.6 394.7,220.9 395.6,221.2 396.5,221.5 397.4,221.8 398.3,222 399.2,222.3 400.1,222.6 401,222.9 401.9,223.1 402.8,223.4" stroke="#150b6f"/><polyline points="402.8,223.4 403.7,223.6 404.6,223.8" stroke="#150b70"/><polyline points="404.6,223.8 405.5,224" stroke="#150b71"/><polyline points="405.5,224 406.4,224.1" stroke="#150b72"/><polyline points="406.4,224.1 407.3,224.2" stroke="#140b73"/><polyline points="407.3,224.2 408.2,224.2" stroke="#140b75"/><polyline points="408.2,224.2 409.1,224" stroke="#140b79"/><polyline points="409.1,224 410,223.7" stroke="#130a7d"/><polyline points="410,223.7 410.9,223.1" stroke="#120a84"/><polyline points="410.9,223.1 411.8,222.4" stroke="#10098e"/><polyline points="411.8,222.4 412.7,222.2" stroke="#0f0899"/><polyline points="412.7,222.2 413.6,222.9" stroke="#0e089e"/><polyline points="413.6,222.9 414.5,224.2" stroke="#0f0898"/><polyline points="414.5,224.2 415.4,225.4" stroke="#10098e"/><polyline points="415.4,225.4 416.3,226.4" stroke="#120a84"/><polyline points="416.3,226.4 417.2,227.1" stroke="#130a7c"/><polyline points="417.2,227.1 418.1,227.7" stroke="#140b77"/><polyline points="418.1,227.7 419.1,228.2" stroke="#140b74"/><polyline points="419.1,228.2 420,228.6" stroke="#150b72"/><polyline points="420,228.6 420.9,229" stroke="#150b70"/><polyline points="420.9,229 421.8,229.4" stroke="#150b6f"/><polyline points="421.8,229.4 422.7,229.7" stroke="#150c6e"/><polyline points="422.7,229.7 423.6,230.1" stroke="#150c6d"/><polyline points="423.6,230.1 424.5,230.4" stroke="#150c6c"/><polyline points="424.5,230.4 425.4,230.7" stroke="#160c6c"/><polyline points="425.4,230.7 426.3,231 427.2,231.3 428.1,231.6" stroke="#160c6b"/><polyline points="428.1,231.6 429,231.9 429.9,232.2 430.8,232.5 431.7,232.8 432.6,233.1 433.5,233.4" stroke="#160c6a"/><polyline points="433.5,233.4 434.4,233.7 435.3,234 436.2,234.3 437.1,234.6 438,234.9 438.9,235.2 439.8,235.4 440.7,235.7 441.6,236 442.5,236.3" stroke="#160c69"/><polyline points="442.5,236.3 443.4,236.6 444.3,236.9 445.2,237.2 446.1,237.4 447,237.7 447.9,238 448.8,238.3 449.8,238.6 450.7,238.9 451.6,239.1 452.5,239.4 453.4,239.7 454.3,240 455.2,240.3 456.1,240.6 457,240.8 457.9,241.1 458.8,241.4 459.7,241.7 460.6,242 461.5,242.3" stroke="#160c68"/><polyline points="461.5,242.3 462.4,242.5 463.3,242.8 464.2,243.1 465.1,243.4 466,243.7 466.9,243.9 467.8,244.2 468.7,244.5 469.6,244.8 470.5,245.1 471.4,245.4 472.3,245.6 473.2,245.9 474.1,246.2 475,246.5 475.9,246.8 476.8,247 477.7,247.3 478.6,247.6 479.6,247.9 480.5,248.2 481.4,248.5 482.3,248.7 483.2,249 484.1,249.3 485,249.6 485.9,249.9 486.8,250.1 487.7,250.4 488.6,250.7 489.5,251" stroke="#160c67"/><polygon points="205.4,177.3 206.3,177.6 207.3,177.9 208.2,178.2 209.1,178.4 210,178.7 210.9,179 211.8,179.3 212.7,179.6 213.6,179.8 214.5,180.1 215.4,180.4 216.3,180.7 217.2,180.9 218.1,181.2 219,181.5 219.9,181.8 220.8,182 221.7,182.3 222.6,182.6 223.5,182.9 224.4,183.1 225.3,183.4 226.2,183.7 227.1,184 228,184.2 228.9,184.5 229.8,184.8 230.7,185.1 231.6,185.3 232.5,185.6 233.4,185.9 234.3,186.2 235.2,186.4 236.1,186.7 237.1,187 238,187.3 238.9,187.5 239.8,187.8 240.7,188.1 241.6,188.3 242.5,188.6 243.4,188.9 244.3,189.2 245.2,189.4 246.1,189.7 247,190 247.9,190.2 248.8,190.5 249.7,190.8 250.6,191.1 251.5,191.3 252.4,191.6 253.3,191.9 254.2,192.1 255.1,192.4 256,192.7 256.9,192.9 257.8,193.2 258.7,193.5 259.6,193.7 260.5,194 261.4,194.3 262.3,194.5 263.2,194.8 264.1,195 265,195.3 265.9,195.6 266.9,195.8 267.8,196.1 268.7,196.3 269.6,196.6 270.5,196.8 271.4,197.1 272.3,197.3 273.2,197.6 274.1,197.8 275,198 275.9,198.2 276.8,198.4 277.7,198.6 278.6,198.7 279.5,198.8 280.4,198.8 281.3,199 282.2,199.2 283.1,199.5 284,199.9 284.9,200.4 285.8,200.7 286.7,201.1 287.6,201.4 288.5,201.6 289.4,201.9 290.3,202.2 291.2,202.4 292.1,202.6 293,202.9 293.9,203.1 294.8,203.3 295.7,203.5 296.6,203.7 297.6,203.9 298.5,204.1 299.4,204.3 300.3,204.4 301.2,204.6 302.1,204.8 303,204.9 303.9,205 304.8,205.2 305.7,205.3 306.6,205.4 307.5,205.4 308.4,205.5 309.3,205.5 310.2,205.6 311.1,205.6 312,205.5 312.9,205.5 313.8,205.4 314.7,205.2 315.6,205 316.5,204.8 317.4,204.5 318.3,204.1 319.2,203.7 320.1,203.2 321,202.6 321.9,201.9 322.8,201.1 323.7,200.2 324.6,199.1 325.5,197.8 326.4,196.4 327.4,194.9 328.3,193.1 329.2,191.1 330.1,188.9 331,186.3 331.9,183.4 332.8,179.8 333.7,175.3 334.6,169.4 335.5,161.5 336.4,150.7 337.3,136.7 338.2,121 339.1,109 340,108 340.9,119.7 341.8,137.4 342.7,154.6 343.6,168.6 344.5,179.3 345.4,187.3 346.3,193.3 347.2,198 348.1,201.7 349,204.7 349.9,207.1 350.8,209.2 351.7,211 352.6,212.5 353.5,213.8 354.4,215 355.3,216 356.2,217 357.2,217.8 358.1,218.6 359,219.3 359.9,220 360.8,220.7 361.7,221.3 362.6,221.9 363.5,222.4 364.4,222.9 365.3,223.4 366.2,223.9 367.1,224.3 368,224.8 368.9,225.2 369.8,225.6 370.7,226 371.6,226.4 372.5,226.8 373.4,227.1 374.3,227.5 375.2,227.8 376.1,228.1 377,228.4 377.9,228.6 378.8,228.8 379.7,228.8 380.6,228.8 381.5,228.9 382.4,229.3 383.3,230 384.2,230.6 385.1,231.2 386,231.7 386.9,232.1 387.9,232.5 388.8,232.9 389.7,233.2 390.6,233.6 391.5,233.9 392.4,234.3 393.3,234.6 394.2,234.9 395.1,235.2 396,235.5 396.9,235.8 397.8,236.1 398.7,236.4 399.6,236.7 400.5,237 401.4,237.3 402.3,237.6 403.2,237.9 404.1,238.2 405,238.5 405.9,238.8 406.8,239.1 407.7,239.4 408.6,239.7 409.5,239.9 410.4,240.2 411.3,240.5 412.2,240.7 413.1,241 414,241.2 414.9,241.4 415.8,241.6 416.7,241.8 417.7,241.9 418.6,241.9 419.5,241.7 420.4,241.4 421.3,241 422.2,241 423.1,241.6 424,242.5 424.9,243.4 425.8,244.2 426.7,244.7 427.6,245.2 428.5,245.7 429.4,246.1 430.3,246.4 431.2,246.8 432.1,247.1 433,247.4 433.9,247.7 434.8,248 435.7,248.3 436.6,248.6 437.5,248.9 438.4,249.2 439.3,249.5 440.2,249.8 441.1,250.1 442,250.4 442.9,250.7 443.8,251 444.7,251.2 445.6,251.5 446.5,251.8 447.5,252.1 448.4,252.4 449.3,252.7 450.2,253 451.1,253.2 452,253.5 452.9,253.8 453.8,254.1 454.7,254.4 455.6,254.7 456.5,254.9 457.4,255.2 458.3,255.5 459.2,255.8 460.1,256.1 461,256.4 461.9,256.6 462.8,256.9 463.7,257.2 464.6,257.5 465.5,257.8 466.4,258.1 467.3,258.3 468.2,258.6 469.1,258.9 470,259.2 470.9,259.5 471.8,259.8 472.7,260 473.6,260.3 474.5,260.6 475.4,260.9 476.3,261.2 476.3,262.5 205.4,178.7" fill="#fff" stroke="none"/><polyline points="205.4,177.3 206.3,177.6 207.3,177.9 208.2,178.2 209.1,178.4 210,178.7 210.9,179 211.8,179.3 212.7,179.6 213.6,179.8 214.5,180.1 215.4,180.4 216.3,180.7 217.2,180.9 218.1,181.2 219,181.5 219.9,181.8 220.8,182 221.7,182.3 222.6,182.6 223.5,182.9 224.4,183.1 225.3,183.4 226.2,183.7 227.1,184 228,184.2" stroke="#160c68"/><polyline points="228,184.2 228.9,184.5 229.8,184.8 230.7,185.1 231.6,185.3 232.5,185.6 233.4,185.9 234.3,186.2 235.2,186.4 236.1,186.7 237.1,187 238,187.3 238.9,187.5 239.8,187.8 240.7,188.1 241.6,188.3 242.5,188.6" stroke="#160c69"/><polyline points="242.5,188.6 243.4,188.9 244.3,189.2 245.2,189.4 246.1,189.7 247,190 247.9,190.2 248.8,190.5 249.7,190.8 250.6,191.1 251.5,191.3 252.4,191.6" stroke="#160c6a"/><polyline points="252.4,191.6 253.3,191.9 254.2,192.1 255.1,192.4 256,192.7 256.9,192.9 257.8,193.2 258.7,193.5 259.6,193.7" stroke="#160c6b"/><polyline points="259.6,193.7 260.5,194 261.4,194.3" stroke="#160c6c"/><polyline points="261.4,194.3 262.3,194.5 263.2,194.8 264.1,195 265,195.3" stroke="#150c6c"/><polyline points="265,195.3 265.9,195.6 266.9,195.8 267.8,196.1 268.7,196.3" stroke="#150c6d"/><polyline points="268.7,196.3 269.6,196.6 270.5,196.8 271.4,197.1" stroke="#150c6e"/><polyline points="271.4,197.1 272.3,197.3 273.2,197.6" stroke="#150b6f"/><polyline points="273.2,197.6 274.1,197.8 275,198" stroke="#150b70"/><polyline points="275,198 275.9,198.2" stroke="#150b71"/><polyline points="275.9,198.2 276.8,198.4 277.7,198.6" stroke="#150b72"/><polyline points="277.7,198.6 278.6,198.7" stroke="#140b74"/><polyline points="278.6,198.7 279.5,198.8" stroke="#140b75"/><polyline points="279.5,198.8 280.4,198.8" stroke="#140b77"/><polyline points="280.4,198.8 281.3,199" stroke="#130b7a"/><polyline points="281.3,199 282.2,199.2 283.1,199.5" stroke="#130a7c"/><polyline points="283.1,199.5 284,199.9" stroke="#130a7b"/><polyline points="284,199.9 284.9,200.4" stroke="#130b7a"/><polyline points="284.9,200.4 285.8,200.7" stroke="#140b79"/><polyline points="285.8,200.7 286.7,201.1" stroke="#140b78"/><polyline points="286.7,201.1 287.6,201.4 288.5,201.6 289.4,201.9 290.3,202.2 291.2,202.4" stroke="#140b77"/><polyline points="291.2,202.4 292.1,202.6 293,202.9" stroke="#140b78"/><polyline points="293,202.9 293.9,203.1" stroke="#140b79"/><polyline points="293.9,203.1 294.8,203.3" stroke="#130b79"/><polyline points="294.8,203.3 295.7,203.5" stroke="#130b7a"/><polyline points="295.7,203.5 296.6,203.7" stroke="#130a7b"/><polyline points="296.6,203.7 297.6,203.9 298.5,204.1" stroke="#130a7c"/><polyline points="298.5,204.1 299.4,204.3" stroke="#130a7d"/><polyline points="299.4,204.3 300.3,204.4" stroke="#130a7f"/><polyline points="300.3,204.4 301.2,204.6" stroke="#130a80"/><polyline points="301.2,204.6 302.1,204.8" stroke="#120a81"/><polyline points="302.1,204.8 303,204.9" stroke="#120a82"/><polyline points="303,204.9 303.9,205" stroke="#120a84"/><polyline points="303.9,205 304.8,205.2" stroke="#120a85"/><polyline points="304.8,205.2 305.7,205.3" stroke="#110987"/><polyline points="305.7,205.3 306.6,205.4" stroke="#110989"/><polyline points="306.6,205.4 307.5,205.4" stroke="#11098b"/><polyline points="307.5,205.4 308.4,205.5" stroke="#11098d"/><polyline points="308.4,205.5 309.3,205.5" stroke="#10098f"/><polyline points="309.3,205.5 310.2,205.6" stroke="#100992"/><polyline points="310.2,205.6 311.1,205.6" stroke="#0f0895"/><polyline points="311.1,205.6 312,205.5" stroke="#0f0898"/><polyline points="312,205.5 312.9,205.5" stroke="#0e089b"/><polyline points="312.9,205.5 313.8,205.4" stroke="#0e079f"/><polyline points="313.8,205.4 314.7,205.2" stroke="#0d07a3"/><polyline points="314.7,205.2 315.6,205" stroke="#0c07a8"/><polyline points="315.6,205 316.5,204.8" stroke="#0c06ad"/><polyline points="316.5,204.8 317.4,204.5" stroke="#0b06b2"/><polyline points="317.4,204.5 318.3,204.1" stroke="#0a05b9"/><polyline points="318.3,204.1 319.2,203.7" stroke="#0905c0"/><polyline points="319.2,203.7 320.1,203.2" stroke="#0804c7"/><polyline points="320.1,203.2 321,202.6" stroke="#0703d0"/><polyline points="321,202.6 321.9,201.9" stroke="#0503d9"/><polyline points="321.9,201.9 322.8,201.1" stroke="#0302e4"/><polyline points="322.8,201.1 323.7,200.2" stroke="#0201f0"/><polyline points="323.7,200.2 324.6,199.1" stroke="#0000fd"/><polyline points="324.6,199.1 325.5,197.8" stroke="#000bff"/><polyline points="325.5,197.8 326.4,196.4" stroke="#0018ff"/><polyline points="326.4,196.4 327.4,194.9" stroke="#0027ff"/><polyline points="327.4,194.9 328.3,193.1" stroke="#0038ff"/><polyline points="328.3,193.1 329.2,191.1" stroke="#004bff"/><polyline points="329.2,191.1 330.1,188.9" stroke="#005fff"/><polyline points="330.1,188.9 331,186.3" stroke="#0076ff"/><polyline points="331,186.3 331.9,183.4" stroke="#0090ff"/><polyline points="331.9,183.4 332.8,179.8" stroke="#00adff"/><polyline points="332.8,179.8 333.7,175.3" stroke="#00d0ff"/><polyline points="333.7,175.3 334.6,169.4" stroke="#00fbff"/><polyline points="334.6,169.4 335.5,161.5" stroke="#33ffcb"/><polyline points="335.5,161.5 336.4,150.7" stroke="#7eff80"/><polyline points="336.4,150.7 337.3,136.7" stroke="#e2ff1c"/><polyline points="337.3,136.7 338.2,121" stroke="#ff9a00"/><polyline points="338.2,121 339.1,109" stroke="#ff0a00"/><polyline points="339.1,109 340,108" stroke="#9a0000"/><polyline points="340,108 340.9,119.7" stroke="#8e0000"/><polyline points="340.9,119.7 341.8,137.4" stroke="#f50000"/><polyline points="341.8,137.4 342.7,154.6" stroke="#ff9400"/><polyline points="342.7,154.6 343.6,168.6" stroke="#d0ff2e"/><polyline points="343.6,168.6 344.5,179.3" stroke="#54ffaa"/><polyline points="344.5,179.3 345.4,187.3" stroke="#00f5ff"/><polyline points="345.4,187.3 346.3,193.3" stroke="#00afff"/><polyline points="346.3,193.3 347.2,198" stroke="#007bff"/><polyline points="347.2,198 348.1,201.7" stroke="#0053ff"/><polyline points="348.1,201.7 349,204.7" stroke="#0034ff"/><polyline points="349,204.7 349.9,207.1" stroke="#001cff"/><polyline points="349.9,207.1 350.8,209.2" stroke="#0008ff"/><polyline points="350.8,209.2 351.7,211" stroke="#0100f6"/><polyline points="351.7,211 352.6,212.5" stroke="#0302e6"/><polyline points="352.6,212.5 353.5,213.8" stroke="#0503d8"/><polyline points="353.5,213.8 354.4,215" stroke="#0704cd"/><polyline points="354.4,215 355.3,216" stroke="#0804c3"/><polyline points="355.3,216 356.2,217" stroke="#0a05bb"/><polyline points="356.2,217 357.2,217.8" stroke="#0b06b4"/><polyline points="357.2,217.8 358.1,218.6" stroke="#0c06ae"/><polyline points="358.1,218.6 359,219.3" stroke="#0c07a8"/><polyline points="359,219.3 359.9,220" stroke="#0d07a3"/><polyline points="359.9,220 360.8,220.7" stroke="#0e079f"/><polyline points="360.8,220.7 361.7,221.3" stroke="#0e089b"/><polyline points="361.7,221.3 362.6,221.9" stroke="#0f0897"/><polyline points="362.6,221.9 363.5,222.4" stroke="#0f0894"/><polyline points="363.5,222.4 364.4,222.9" stroke="#100991"/><polyline points="364.4,222.9 365.3,223.4" stroke="#10098f"/><polyline points="365.3,223.4 366.2,223.9" stroke="#11098c"/><polyline points="366.2,223.9 367.1,224.3" stroke="#11098a"/><polyline points="367.1,224.3 368,224.8" stroke="#110988"/><polyline points="368,224.8 368.9,225.2" stroke="#120a86"/><polyline points="368.9,225.2 369.8,225.6" stroke="#120a85"/><polyline points="369.8,225.6 370.7,226" stroke="#120a83"/><polyline points="370.7,226 371.6,226.4" stroke="#120a82"/><polyline points="371.6,226.4 372.5,226.8" stroke="#120a81"/><polyline points="372.5,226.8 373.4,227.1" stroke="#130a80"/><polyline points="373.4,227.1 374.3,227.5" stroke="#130a7f"/><polyline points="374.3,227.5 375.2,227.8 376.1,228.1" stroke="#130a7e"/><polyline points="376.1,228.1 377,228.4 377.9,228.6" stroke="#130a7d"/><polyline points="377.9,228.6 378.8,228.8" stroke="#130a7e"/><polyline points="378.8,228.8 379.7,228.8" stroke="#130a7f"/><polyline points="379.7,228.8 380.6,228.8" stroke="#120a82"/><polyline points="380.6,228.8 381.5,228.9" stroke="#120a85"/><polyline points="381.5,228.9 382.4,229.3" stroke="#110987"/><polyline points="382.4,229.3 383.3,230" stroke="#120a85"/><polyline points="383.3,230 384.2,230.6" stroke="#120a82"/><polyline points="384.2,230.6 385.1,231.2" stroke="#130a7e"/><polyline points="385.1,231.2 386,231.7" stroke="#130b7a"/><polyline points="386,231.7 386.9,232.1" stroke="#140b78"/><polyline points="386.9,232.1 387.9,232.5" stroke="#140b76"/><polyline points="387.9,232.5 388.8,232.9" stroke="#140b75"/><polyline points="388.8,232.9 389.7,233.2" stroke="#140b74"/><polyline points="389.7,233.2 390.6,233.6 391.5,233.9" stroke="#140b73"/><polyline points="391.5,233.9 392.4,234.3" stroke="#150b72"/><polyline points="392.4,234.3 393.3,234.6 394.2,234.9 395.1,235.2" stroke="#150b71"/><polyline points="395.1,235.2 396,235.5 396.9,235.8 397.8,236.1" stroke="#150b70"/><polyline points="397.8,236.1 398.7,236.4 399.6,236.7 400.5,237" stroke="#150b6f"/><polyline points="400.5,237 401.4,237.3 402.3,237.6 403.2,237.9 404.1,238.2 405,238.5 405.9,238.8 406.8,239.1" stroke="#150c6e"/><polyline points="406.8,239.1 407.7,239.4 408.6,239.7 409.5,239.9 410.4,240.2 411.3,240.5" stroke="#150c6d"/><polyline points="411.3,240.5 412.2,240.7 413.1,241 414,241.2" stroke="#150c6e"/><polyline points="414,241.2 414.9,241.4 415.8,241.6" stroke="#150b6f"/><polyline points="415.8,241.6 416.7,241.8" stroke="#150b70"/><polyline points="416.7,241.8 417.7,241.9" stroke="#150b72"/><polyline points="417.7,241.9 418.6,241.9" stroke="#140b74"/><polyline points="418.6,241.9 419.5,241.7" stroke="#140b77"/><polyline points="419.5,241.7 420.4,241.4" stroke="#130a7c"/><polyline points="420.4,241.4 421.3,241" stroke="#120a82"/><polyline points="421.3,241 422.2,241" stroke="#110989"/><polyline points="422.2,241 423.1,241.6" stroke="#11098c"/><polyline points="423.1,241.6 424,242.5" stroke="#110989"/><polyline points="424,242.5 424.9,243.4" stroke="#120a82"/><polyline points="424.9,243.4 425.8,244.2" stroke="#130a7b"/><polyline points="425.8,244.2 426.7,244.7" stroke="#140b76"/><polyline points="426.7,244.7 427.6,245.2" stroke="#140b73"/><polyline points="427.6,245.2 428.5,245.7" stroke="#150b70"/><polyline points="428.5,245.7 429.4,246.1" stroke="#150b6f"/><polyline points="429.4,246.1 430.3,246.4" stroke="#150c6e"/><polyline points="430.3,246.4 431.2,246.8" stroke="#150c6d"/><polyline points="431.2,246.8 432.1,247.1" stroke="#150c6c"/><polyline points="432.1,247.1 433,247.4" stroke="#160c6c"/><polyline points="433,247.4 433.9,247.7 434.8,248 435.7,248.3" stroke="#160c6b"/><polyline points="435.7,248.3 436.6,248.6 437.5,248.9 438.4,249.2 439.3,249.5 440.2,249.8" stroke="#160c6a"/><polyline points="440.2,249.8 441.1,250.1 442,250.4 442.9,250.7 443.8,251 444.7,251.2 445.6,251.5 446.5,251.8 447.5,252.1 448.4,252.4 449.3,252.7 450.2,253" stroke="#160c69"/><polyline points="450.2,253 451.1,253.2 452,253.5 452.9,253.8 453.8,254.1 454.7,254.4 455.6,254.7 456.5,254.9 457.4,255.2 458.3,255.5 459.2,255.8 460.1,256.1 461,256.4 461.9,256.6 462.8,256.9 463.7,257.2 464.6,257.5 465.5,257.8 466.4,258.1 467.3,258.3 468.2,258.6 469.1,258.9 470,259.2 470.9,259.5" stroke="#160c68"/><polyline points="470.9,259.5 471.8,259.8 472.7,260 473.6,260.3 474.5,260.6 475.4,260.9 476.3,261.2" stroke="#160c67"/><polygon points="192.3,186 193.2,186.7 194.1,187.4 195,188 195.9,188.4 196.8,188.8 197.7,189.1 198.6,189.4 199.5,189.7 200.4,190 201.3,190.3 202.2,190.5 203.1,190.8 204,191.1 204.9,191.4 205.9,191.7 206.8,191.9 207.7,192.2 208.6,192.5 209.5,192.8 210.4,193 211.3,193.3 212.2,193.6 213.1,193.9 214,194.1 214.9,194.4 215.8,194.7 216.7,195 217.6,195.2 218.5,195.5 219.4,195.8 220.3,196.1 221.2,196.3 222.1,196.6 223,196.9 223.9,197.2 224.8,197.4 225.7,197.7 226.6,198 227.5,198.3 228.4,198.5 229.3,198.8 230.2,199.1 231.1,199.3 232,199.6 232.9,199.9 233.8,200.2 234.7,200.4 235.7,200.7 236.6,201 237.5,201.2 238.4,201.5 239.3,201.8 240.2,202 241.1,202.3 242,202.6 242.9,202.9 243.8,203.1 244.7,203.4 245.6,203.7 246.5,203.9 247.4,204.2 248.3,204.5 249.2,204.7 250.1,205 251,205.2 251.9,205.5 252.8,205.8 253.7,206 254.6,206.3 255.5,206.6 256.4,206.8 257.3,207.1 258.2,207.3 259.1,207.6 260,207.8 260.9,208.1 261.8,208.4 262.7,208.6 263.6,208.9 264.5,209.1 265.5,209.4 266.4,209.6 267.3,209.8 268.2,210.1 269.1,210.3 270,210.6 270.9,210.8 271.8,211 272.7,211.3 273.6,211.5 274.5,211.7 275.4,211.9 276.3,212.1 277.2,212.3 278.1,212.5 279,212.7 279.9,212.9 280.8,213 281.7,213.1 282.6,213.2 283.5,213.2 284.4,213.2 285.3,213.1 286.2,212.8 287.1,212.4 288,211.9 288.9,211.4 289.8,211.3 290.7,211.7 291.6,212.6 292.5,213.5 293.4,214.2 294.3,214.8 295.2,215.3 296.2,215.6 297.1,215.9 298,216.2 298.9,216.3 299.8,216.5 300.7,216.6 301.6,216.7 302.5,216.7 303.4,216.7 304.3,216.7 305.2,216.6 306.1,216.5 307,216.4 307.9,216.2 308.8,216 309.7,215.7 310.6,215.4 311.5,215 312.4,214.5 313.3,213.9 314.2,213.3 315.1,212.5 316,211.7 316.9,210.7 317.8,209.6 318.7,208.4 319.6,207.1 320.5,205.7 321.4,204.2 322.3,202.7 323.2,201.3 324.1,200 325,198.8 326,198 326.9,197.5 327.8,197.4 328.7,197.7 329.6,198.5 330.5,199.5 331.4,200.9 332.3,202.4 333.2,203.9 334.1,205.5 335,206.9 335.9,208.2 336.8,209.2 337.7,209.9 338.6,210.3 339.5,210.2 340.4,209.5 341.3,208 342.2,205.3 343.1,201.2 344,194.9 344.9,186 345.8,175 346.7,164.5 347.6,160.3 348.5,166 349.4,178 350.3,190.6 351.2,201 352.1,208.9 353,214.8 353.9,219.1 354.8,222.4 355.8,225 356.7,227.1 357.6,228.8 358.5,230.2 359.4,231.5 360.3,232.5 361.2,233.5 362.1,234.3 363,235.1 363.9,235.8 364.8,236.4 365.7,237 366.6,237.6 367.5,238.1 368.4,238.6 369.3,239.1 370.2,239.6 371.1,240 372,240.5 372.9,240.9 373.8,241.3 374.7,241.7 375.6,242.1 376.5,242.5 377.4,242.8 378.3,243.2 379.2,243.5 380.1,243.9 381,244.2 381.9,244.5 382.8,244.8 383.7,245.1 384.6,245.4 385.6,245.6 386.5,245.7 387.4,245.8 388.3,245.8 389.2,245.9 390.1,246.1 391,246.7 391.9,247.3 392.8,247.9 393.7,248.4 394.6,248.9 395.5,249.3 396.4,249.6 397.3,250 398.2,250.3 399.1,250.7 400,251 400.9,251.3 401.8,251.6 402.7,251.9 403.6,252.2 404.5,252.5 405.4,252.8 406.3,253.1 407.2,253.4 408.1,253.7 409,254 409.9,254.3 410.8,254.6 411.7,254.9 412.6,255.2 413.5,255.5 414.4,255.8 415.3,256.1 416.3,256.4 417.2,256.6 418.1,256.9 419,257.2 419.9,257.5 420.8,257.7 421.7,258 422.6,258.2 423.5,258.5 424.4,258.7 425.3,258.8 426.2,259 427.1,259 428,258.9 428.9,258.7 429.8,258.7 430.7,259.1 431.6,259.8 432.5,260.5 433.4,261.1 434.3,261.6 435.2,262 436.1,262.4 437,262.8 437.9,263.1 438.8,263.5 439.7,263.8 440.6,264.1 441.5,264.4 442.4,264.7 443.3,265 444.2,265.3 445.1,265.6 446.1,265.9 447,266.2 447.9,266.5 448.8,266.7 449.7,267 450.6,267.3 451.5,267.6 452.4,267.9 453.3,268.2 454.2,268.5 455.1,268.7 456,269 456.9,269.3 457.8,269.6 458.7,269.9 459.6,270.2 460.5,270.5 461.4,270.7 462.3,271 463.2,271.3 463.2,272.8 192.3,189" fill="#fff" stroke="none"/><polyline points="192.3,186 193.2,186.7" stroke="#140b79"/><polyline points="193.2,186.7 194.1,187.4" stroke="#140b74"/><polyline points="194.1,187.4 195,188" stroke="#150b6f"/><polyline points="195,188 195.9,188.4" stroke="#150c6c"/><polyline points="195.9,188.4 196.8,188.8" stroke="#160c6b"/><polyline points="196.8,188.8 197.7,189.1" stroke="#160c6a"/><polyline points="197.7,189.1 198.6,189.4 199.5,189.7 200.4,190 201.3,190.3 202.2,190.5 203.1,190.8 204,191.1 204.9,191.4 205.9,191.7 206.8,191.9 207.7,192.2 208.6,192.5 209.5,192.8 210.4,193 211.3,193.3 212.2,193.6 213.1,193.9 214,194.1 214.9,194.4 215.8,194.7 216.7,195 217.6,195.2 218.5,195.5 219.4,195.8 220.3,196.1 221.2,196.3 222.1,196.6 223,196.9 223.9,197.2" stroke="#160c69"/><polyline points="223.9,197.2 224.8,197.4 225.7,197.7 226.6,198 227.5,198.3 228.4,198.5 229.3,198.8 230.2,199.1 231.1,199.3 232,199.6 232.9,199.9 233.8,200.2 234.7,200.4 235.7,200.7" stroke="#160c6a"/><polyline points="235.7,200.7 236.6,201 237.5,201.2 238.4,201.5 239.3,201.8 240.2,202 241.1,202.3 242,202.6 242.9,202.9 243.8,203.1" stroke="#160c6b"/><polyline points="243.8,203.1 244.7,203.4 245.6,203.7" stroke="#160c6c"/><polyline points="245.6,203.7 246.5,203.9 247.4,204.2 248.3,204.5 249.2,204.7 250.1,205" stroke="#150c6c"/><polyline points="250.1,205 251,205.2 251.9,205.5 252.8,205.8 253.7,206 254.6,206.3" stroke="#150c6d"/><polyline points="254.6,206.3 255.5,206.6 256.4,206.8 257.3,207.1 258.2,207.3 259.1,207.6" stroke="#150c6e"/><polyline points="259.1,207.6 260,207.8 260.9,208.1 261.8,208.4 262.7,208.6" stroke="#150b6f"/><polyline points="262.7,208.6 263.6,208.9 264.5,209.1 265.5,209.4" stroke="#150b70"/><polyline points="265.5,209.4 266.4,209.6 267.3,209.8 268.2,210.1" stroke="#150b71"/><polyline points="268.2,210.1 269.1,210.3 270,210.6" stroke="#150b72"/><polyline points="270,210.6 270.9,210.8 271.8,211" stroke="#140b73"/><polyline points="271.8,211 272.7,211.3 273.6,211.5" stroke="#140b74"/><polyline points="273.6,211.5 274.5,211.7 275.4,211.9" stroke="#140b75"/><polyline points="275.4,211.9 276.3,212.1" stroke="#140b76"/><polyline points="276.3,212.1 277.2,212.3" stroke="#140b77"/><polyline points="277.2,212.3 278.1,212.5" stroke="#140b78"/><polyline points="278.1,212.5 279,212.7" stroke="#140b79"/><polyline points="279,212.7 279.9,212.9" stroke="#130b7a"/><polyline points="279.9,212.9 280.8,213" stroke="#130a7b"/><polyline points="280.8,213 281.7,213.1" stroke="#130a7d"/><polyline points="281.7,213.1 282.6,213.2" stroke="#130a7e"/><polyline points="282.6,213.2 283.5,213.2" stroke="#120a80"/><polyline points="283.5,213.2 284.4,213.2" stroke="#120a83"/><polyline points="284.4,213.2 285.3,213.1" stroke="#120a86"/><polyline points="285.3,213.1 286.2,212.8" stroke="#11098b"/><polyline points="286.2,212.8 287.1,212.4" stroke="#100991"/><polyline points="287.1,212.4 288,211.9" stroke="#0f0898"/><polyline points="288,211.9 288.9,211.4" stroke="#0e07a1"/><polyline points="288.9,211.4 289.8,211.3" stroke="#0c07aa"/><polyline points="289.8,211.3 290.7,211.7" stroke="#0c06ae"/><polyline points="290.7,211.7 291.6,212.6" stroke="#0c06ac"/><polyline points="291.6,212.6 292.5,213.5" stroke="#0d07a6"/><polyline points="292.5,213.5 293.4,214.2" stroke="#0e079f"/><polyline points="293.4,214.2 294.3,214.8" stroke="#0f089a"/><polyline points="294.3,214.8 295.2,215.3" stroke="#0f0896"/><polyline points="295.2,215.3 296.2,215.6" stroke="#0f0894"/><polyline points="296.2,215.6 297.1,215.9 298,216.2" stroke="#100893"/><polyline points="298,216.2 298.9,216.3" stroke="#0f0894"/><polyline points="298.9,216.3 299.8,216.5" stroke="#0f0895"/><polyline points="299.8,216.5 300.7,216.6" stroke="#0f0897"/><polyline points="300.7,216.6 301.6,216.7" stroke="#0f0898"/><polyline points="301.6,216.7 302.5,216.7" stroke="#0e089b"/><polyline points="302.5,216.7 303.4,216.7" stroke="#0e089d"/><polyline points="303.4,216.7 304.3,216.7" stroke="#0e07a0"/><polyline points="304.3,216.7 305.2,216.6" stroke="#0d07a3"/><polyline points="305.2,216.6 306.1,216.5" stroke="#0d07a7"/><polyline points="306.1,216.5 307,216.4" stroke="#0c06ab"/><polyline points="307,216.4 307.9,216.2" stroke="#0b06b0"/><polyline points="307.9,216.2 308.8,216" stroke="#0b06b4"/><polyline points="308.8,216 309.7,215.7" stroke="#0a05ba"/><polyline points="309.7,215.7 310.6,215.4" stroke="#0905c0"/><polyline points="310.6,215.4 311.5,215" stroke="#0804c7"/><polyline points="311.5,215 312.4,214.5" stroke="#0704ce"/><polyline points="312.4,214.5 313.3,213.9" stroke="#0503d7"/><polyline points="313.3,213.9 314.2,213.3" stroke="#0402e0"/><polyline points="314.2,213.3 315.1,212.5" stroke="#0301ea"/><polyline points="315.1,212.5 316,211.7" stroke="#0100f5"/><polyline points="316,211.7 316.9,210.7" stroke="#0002ff"/><polyline points="316.9,210.7 317.8,209.6" stroke="#000dff"/><polyline points="317.8,209.6 318.7,208.4" stroke="#001aff"/><polyline points="318.7,208.4 319.6,207.1" stroke="#0027ff"/><polyline points="319.6,207.1 320.5,205.7" stroke="#0035ff"/><polyline points="320.5,205.7 321.4,204.2" stroke="#0044ff"/><polyline points="321.4,204.2 322.3,202.7" stroke="#0054ff"/><polyline points="322.3,202.7 323.2,201.3" stroke="#0064ff"/><polyline points="323.2,201.3 324.1,200" stroke="#0074ff"/><polyline points="324.1,200 325,198.8" stroke="#0082ff"/><polyline points="325,198.8 326,198" stroke="#008fff"/><polyline points="326,198 326.9,197.5" stroke="#0099ff"/><polyline points="326.9,197.5 327.8,197.4" stroke="#00a0ff"/><polyline points="327.8,197.4 328.7,197.7" stroke="#00a4ff"/><polyline points="328.7,197.7 329.6,198.5" stroke="#00a3ff"/><polyline points="329.6,198.5 330.5,199.5" stroke="#009fff"/><polyline points="330.5,199.5 331.4,200.9" stroke="#0098ff"/><polyline points="331.4,200.9 332.3,202.4" stroke="#008eff"/><polyline points="332.3,202.4 333.2,203.9" stroke="#0083ff"/><polyline points="333.2,203.9 334.1,205.5" stroke="#0078ff"/><polyline points="334.1,205.5 335,206.9" stroke="#006cff"/><polyline points="335,206.9 335.9,208.2" stroke="#0062ff"/><polyline points="335.9,208.2 336.8,209.2" stroke="#0059ff"/><polyline points="336.8,209.2 337.7,209.9" stroke="#0052ff"/><polyline points="337.7,209.9 338.6,210.3" stroke="#004eff"/><polyline points="338.6,210.3 339.5,210.2" stroke="#004dff"/><polyline points="339.5,210.2 340.4,209.5" stroke="#0051ff"/><polyline points="340.4,209.5 341.3,208" stroke="#005aff"/><polyline points="341.3,208 342.2,205.3" stroke="#006aff"/><polyline points="342.2,205.3 343.1,201.2" stroke="#0084ff"/><polyline points="343.1,201.2 344,194.9" stroke="#00adff"/><polyline points="344,194.9 344.9,186" stroke="#00e8ff"/><polyline points="344.9,186 345.8,175" stroke="#3bffc3"/><polyline points="345.8,175 346.7,164.5" stroke="#a2ff5c"/><polyline points="346.7,164.5 347.6,160.3" stroke="#fffa00"/><polyline points="347.6,160.3 348.5,166" stroke="#ffd200"/><polyline points="348.5,166 349.4,178" stroke="#fbff03"/><polyline points="349.4,178 350.3,190.6" stroke="#91ff6d"/><polyline points="350.3,190.6 351.2,201" stroke="#21ffdd"/><polyline points="351.2,201 352.1,208.9" stroke="#00c5ff"/><polyline points="352.1,208.9 353,214.8" stroke="#0080ff"/><polyline points="353,214.8 353.9,219.1" stroke="#004dff"/><polyline points="353.9,219.1 354.8,222.4" stroke="#0029ff"/><polyline points="354.8,222.4 355.8,225" stroke="#000dff"/><polyline points="355.8,225 356.7,227.1" stroke="#0100f6"/><polyline points="356.7,227.1 357.6,228.8" stroke="#0402e2"/><polyline points="357.6,228.8 358.5,230.2" stroke="#0603d3"/><polyline points="358.5,230.2 359.4,231.5" stroke="#0804c6"/><polyline points="359.4,231.5 360.3,232.5" stroke="#0905bc"/><polyline points="360.3,232.5 361.2,233.5" stroke="#0b06b3"/><polyline points="361.2,233.5 362.1,234.3" stroke="#0c06ac"/><polyline points="362.1,234.3 363,235.1" stroke="#0d07a6"/><polyline points="363,235.1 363.9,235.8" stroke="#0e07a1"/><polyline points="363.9,235.8 364.8,236.4" stroke="#0e089c"/><polyline points="364.8,236.4 365.7,237" stroke="#0f0898"/><polyline points="365.7,237 366.6,237.6" stroke="#0f0895"/><polyline points="366.6,237.6 367.5,238.1" stroke="#100992"/><polyline points="367.5,238.1 368.4,238.6" stroke="#10098f"/><polyline points="368.4,238.6 369.3,239.1" stroke="#11098d"/><polyline points="369.3,239.1 370.2,239.6" stroke="#11098a"/><polyline points="370.2,239.6 371.1,240" stroke="#110988"/><polyline points="371.1,240 372,240.5" stroke="#120a86"/><polyline points="372,240.5 372.9,240.9" stroke="#120a85"/><polyline points="372.9,240.9 373.8,241.3" stroke="#120a83"/><polyline points="373.8,241.3 374.7,241.7" stroke="#120a82"/><polyline points="374.7,241.7 375.6,242.1" stroke="#120a81"/><polyline points="375.6,242.1 376.5,242.5" stroke="#130a7f"/><polyline points="376.5,242.5 377.4,242.8" stroke="#130a7e"/><polyline points="377.4,242.8 378.3,243.2 379.2,243.5" stroke="#130a7d"/><polyline points="379.2,243.5 380.1,243.9" stroke="#130a7c"/><polyline points="380.1,243.9 381,244.2 381.9,244.5" stroke="#130a7b"/><polyline points="381.9,244.5 382.8,244.8 383.7,245.1 384.6,245.4 385.6,245.6" stroke="#130b7a"/><polyline points="385.6,245.6 386.5,245.7" stroke="#130a7b"/><polyline points="386.5,245.7 387.4,245.8" stroke="#130a7c"/><polyline points="387.4,245.8 388.3,245.8" stroke="#130a7e"/><polyline points="388.3,245.8 389.2,245.9" stroke="#120a81"/><polyline points="389.2,245.9 390.1,246.1 391,246.7" stroke="#120a84"/><polyline points="391,246.7 391.9,247.3" stroke="#120a81"/><polyline points="391.9,247.3 392.8,247.9" stroke="#130a7d"/><polyline points="392.8,247.9 393.7,248.4" stroke="#130b7a"/><polyline points="393.7,248.4 394.6,248.9" stroke="#140b77"/><polyline points="394.6,248.9 395.5,249.3" stroke="#140b75"/><polyline points="395.5,249.3 396.4,249.6" stroke="#140b74"/><polyline points="396.4,249.6 397.3,250" stroke="#140b73"/><polyline points="397.3,250 398.2,250.3 399.1,250.7" stroke="#150b72"/><polyline points="399.1,250.7 400,251 400.9,251.3" stroke="#150b71"/><polyline points="400.9,251.3 401.8,251.6 402.7,251.9" stroke="#150b70"/><polyline points="402.7,251.9 403.6,252.2 404.5,252.5 405.4,252.8 406.3,253.1" stroke="#150b6f"/><polyline points="406.3,253.1 407.2,253.4 408.1,253.7 409,254 409.9,254.3 410.8,254.6" stroke="#150c6e"/><polyline points="410.8,254.6 411.7,254.9 412.6,255.2 413.5,255.5 414.4,255.8 415.3,256.1 416.3,256.4 417.2,256.6 418.1,256.9 419,257.2 419.9,257.5 420.8,257.7 421.7,258 422.6,258.2" stroke="#150c6d"/><polyline points="422.6,258.2 423.5,258.5 424.4,258.7" stroke="#150c6e"/><polyline points="424.4,258.7 425.3,258.8" stroke="#150b6f"/><polyline points="425.3,258.8 426.2,259" stroke="#150b70"/><polyline points="426.2,259 427.1,259" stroke="#150b72"/><polyline points="427.1,259 428,258.9" stroke="#140b75"/><polyline points="428,258.9 428.9,258.7" stroke="#140b79"/><polyline points="428.9,258.7 429.8,258.7" stroke="#130a7d"/><polyline points="429.8,258.7 430.7,259.1" stroke="#120a81"/><polyline points="430.7,259.1 431.6,259.8" stroke="#120a80"/><polyline points="431.6,259.8 432.5,260.5" stroke="#130a7b"/><polyline points="432.5,260.5 433.4,261.1" stroke="#140b77"/><polyline points="433.4,261.1 434.3,261.6" stroke="#140b73"/><polyline points="434.3,261.6 435.2,262" stroke="#150b70"/><polyline points="435.2,262 436.1,262.4" stroke="#150b6f"/><polyline points="436.1,262.4 437,262.8" stroke="#150c6e"/><polyline points="437,262.8 437.9,263.1" stroke="#150c6d"/><polyline points="437.9,263.1 438.8,263.5" stroke="#150c6c"/><polyline points="438.8,263.5 439.7,263.8 440.6,264.1 441.5,264.4" stroke="#160c6b"/><polyline points="441.5,264.4 442.4,264.7 443.3,265 444.2,265.3 445.1,265.6 446.1,265.9 447,266.2" stroke="#160c6a"/><polyline points="447,266.2 447.9,266.5 448.8,266.7 449.7,267 450.6,267.3 451.5,267.6 452.4,267.9 453.3,268.2 454.2,268.5 455.1,268.7 456,269 456.9,269.3 457.8,269.6 458.7,269.9 459.6,270.2" stroke="#160c69"/><polyline points="459.6,270.2 460.5,270.5 461.4,270.7 462.3,271 463.2,271.3" stroke="#160c68"/><polygon points="179.2,197.8 180.1,198 181,198.3 181.9,198.6 182.8,198.9 183.7,199.1 184.6,199.4 185.5,199.7 186.4,200 187.3,200.2 188.2,200.5 189.1,200.8 190,201 190.9,201.3 191.8,201.6 192.7,201.8 193.6,202.1 194.5,202.3 195.4,202.5 196.3,202.6 197.2,202.6 198.1,202.3 199,201.8 199.9,202.3 200.8,203.4 201.7,204.1 202.6,204.6 203.6,205 204.5,205.3 205.4,205.7 206.3,206 207.2,206.3 208.1,206.5 209,206.8 209.9,207.1 210.8,207.4 211.7,207.7 212.6,207.9 213.5,208.2 214.4,208.5 215.3,208.8 216.2,209.1 217.1,209.3 218,209.6 218.9,209.9 219.8,210.1 220.7,210.4 221.6,210.7 222.5,211 223.4,211.2 224.3,211.5 225.2,211.8 226.1,212.1 227,212.3 227.9,212.6 228.8,212.9 229.7,213.1 230.6,213.4 231.5,213.7 232.4,213.9 233.3,214.2 234.3,214.5 235.2,214.7 236.1,215 237,215.3 237.9,215.6 238.8,215.8 239.7,216.1 240.6,216.4 241.5,216.6 242.4,216.9 243.3,217.1 244.2,217.4 245.1,217.7 246,217.9 246.9,218.2 247.8,218.5 248.7,218.7 249.6,219 250.5,219.2 251.4,219.5 252.3,219.8 253.2,220 254.1,220.3 255,220.5 255.9,220.8 256.8,221 257.7,221.3 258.6,221.5 259.5,221.8 260.4,222 261.3,222.3 262.2,222.5 263.1,222.7 264.1,223 265,223.2 265.9,223.5 266.8,223.7 267.7,223.9 268.6,224.2 269.5,224.4 270.4,224.6 271.3,224.8 272.2,225 273.1,225.2 274,225.4 274.9,225.6 275.8,225.8 276.7,226 277.6,226.2 278.5,226.4 279.4,226.5 280.3,226.7 281.2,226.8 282.1,227 283,227.1 283.9,227.1 284.8,227.2 285.7,227.2 286.6,227.2 287.5,227.2 288.4,227 289.3,226.8 290.2,226.4 291.1,225.9 292,225.2 292.9,224.1 293.9,222.5 294.8,220.6 295.7,218.5 296.6,217.2 297.5,217.4 298.4,219 299.3,221 300.2,222.8 301.1,224 302,224.8 302.9,225.3 303.8,225.5 304.7,225.5 305.6,225.3 306.5,225 307.4,224.6 308.3,224 309.2,223.2 310.1,222.4 311,221.4 311.9,220.2 312.8,219 313.7,217.6 314.6,216.1 315.5,214.6 316.4,213 317.3,211.6 318.2,210.3 319.1,209.2 320,208.5 320.9,208.2 321.8,208.4 322.7,209.1 323.6,210.2 324.6,211.7 325.5,213.4 326.4,215.4 327.3,217.4 328.2,219.5 329.1,221.6 330,223.5 330.9,225.4 331.8,227.1 332.7,228.7 333.6,230.2 334.5,231.5 335.4,232.8 336.3,233.9 337.2,234.9 338.1,235.8 339,236.5 339.9,237.2 340.8,237.8 341.7,238.3 342.6,238.6 343.5,238.8 344.4,238.9 345.3,238.7 346.2,238.3 347.1,237.5 348,236.3 348.9,234.4 349.8,231.5 350.7,227.2 351.6,221 352.5,212.8 353.4,203.9 354.4,198.2 355.3,200 356.2,208.2 357.1,218 358,226.5 358.9,232.8 359.8,237.5 360.7,240.9 361.6,243.5 362.5,245.5 363.4,247.1 364.3,248.4 365.2,249.5 366.1,250.4 367,251.3 367.9,252 368.8,252.6 369.7,253.2 370.6,253.8 371.5,254.3 372.4,254.8 373.3,255.3 374.2,255.7 375.1,256.2 376,256.6 376.9,257 377.8,257.3 378.7,257.7 379.6,258.1 380.5,258.5 381.4,258.8 382.3,259.2 383.2,259.5 384.2,259.8 385.1,260.2 386,260.5 386.9,260.8 387.8,261.1 388.7,261.4 389.6,261.7 390.5,261.9 391.4,262.2 392.3,262.4 393.2,262.6 394.1,262.7 395,262.7 395.9,262.6 396.8,262.8 397.7,263.3 398.6,263.9 399.5,264.5 400.4,265 401.3,265.5 402.2,265.9 403.1,266.2 404,266.6 404.9,266.9 405.8,267.2 406.7,267.6 407.6,267.9 408.5,268.2 409.4,268.5 410.3,268.8 411.2,269.1 412.1,269.4 413,269.7 413.9,270 414.9,270.3 415.8,270.6 416.7,270.9 417.6,271.1 418.5,271.4 419.4,271.7 420.3,272 421.2,272.3 422.1,272.6 423,272.9 423.9,273.1 424.8,273.4 425.7,273.7 426.6,274 427.5,274.3 428.4,274.5 429.3,274.8 430.2,275 431.1,275.3 432,275.5 432.9,275.6 433.8,275.7 434.7,275.8 435.6,275.7 436.5,275.7 437.4,276 438.3,276.5 439.2,277.1 440.1,277.7 441,278.2 441.9,278.6 442.8,278.9 443.7,279.3 444.7,279.6 445.6,279.9 446.5,280.2 447.4,280.5 448.3,280.8 449.2,281.1 450.1,281.4 450.1,283 179.2,199.2" fill="#fff" stroke="none"/><polyline points="179.2,197.8 180.1,198 181,198.3 181.9,198.6 182.8,198.9 183.7,199.1 184.6,199.4 185.5,199.7 186.4,200 187.3,200.2 188.2,200.5 189.1,200.8" stroke="#160c68"/><polyline points="189.1,200.8 190,201 190.9,201.3 191.8,201.6 192.7,201.8 193.6,202.1" stroke="#160c69"/><polyline points="193.6,202.1 194.5,202.3 195.4,202.5" stroke="#160c6a"/><polyline points="195.4,202.5 196.3,202.6" stroke="#160c6b"/><polyline points="196.3,202.6 197.2,202.6" stroke="#150c6d"/><polyline points="197.2,202.6 198.1,202.3" stroke="#150b70"/><polyline points="198.1,202.3 199,201.8" stroke="#140b76"/><polyline points="199,201.8 199.9,202.3" stroke="#130a7e"/><polyline points="199.9,202.3 200.8,203.4" stroke="#130a7c"/><polyline points="200.8,203.4 201.7,204.1" stroke="#140b74"/><polyline points="201.7,204.1 202.6,204.6" stroke="#150b6f"/><polyline points="202.6,204.6 203.6,205" stroke="#150c6d"/><polyline points="203.6,205 204.5,205.3 205.4,205.7" stroke="#160c6b"/><polyline points="205.4,205.7 206.3,206 207.2,206.3 208.1,206.5 209,206.8 209.9,207.1 210.8,207.4 211.7,207.7 212.6,207.9 213.5,208.2 214.4,208.5 215.3,208.8 216.2,209.1 217.1,209.3 218,209.6 218.9,209.9 219.8,210.1 220.7,210.4 221.6,210.7 222.5,211 223.4,211.2 224.3,211.5 225.2,211.8 226.1,212.1" stroke="#160c6a"/><polyline points="226.1,212.1 227,212.3 227.9,212.6 228.8,212.9 229.7,213.1 230.6,213.4 231.5,213.7 232.4,213.9 233.3,214.2 234.3,214.5 235.2,214.7" stroke="#160c6b"/><polyline points="235.2,214.7 236.1,215 237,215.3 237.9,215.6" stroke="#160c6c"/><polyline points="237.9,215.6 238.8,215.8 239.7,216.1 240.6,216.4 241.5,216.6" stroke="#150c6c"/><polyline points="241.5,216.6 242.4,216.9 243.3,217.1 244.2,217.4 245.1,217.7 246,217.9 246.9,218.2" stroke="#150c6d"/><polyline points="246.9,218.2 247.8,218.5 248.7,218.7 249.6,219 250.5,219.2 251.4,219.5" stroke="#150c6e"/><polyline points="251.4,219.5 252.3,219.8 253.2,220 254.1,220.3 255,220.5" stroke="#150b6f"/><polyline points="255,220.5 255.9,220.8 256.8,221 257.7,221.3" stroke="#150b70"/><polyline points="257.7,221.3 258.6,221.5 259.5,221.8 260.4,222" stroke="#150b71"/><polyline points="260.4,222 261.3,222.3 262.2,222.5 263.1,222.7" stroke="#150b72"/><polyline points="263.1,222.7 264.1,223 265,223.2" stroke="#140b73"/><polyline points="265,223.2 265.9,223.5 266.8,223.7" stroke="#140b74"/><polyline points="266.8,223.7 267.7,223.9 268.6,224.2" stroke="#140b75"/><polyline points="268.6,224.2 269.5,224.4 270.4,224.6" stroke="#140b76"/><polyline points="270.4,224.6 271.3,224.8" stroke="#140b77"/><polyline points="271.3,224.8 272.2,225 273.1,225.2" stroke="#140b78"/><polyline points="273.1,225.2 274,225.4" stroke="#140b79"/><polyline points="274,225.4 274.9,225.6" stroke="#130b7a"/><polyline points="274.9,225.6 275.8,225.8" stroke="#130a7b"/><polyline points="275.8,225.8 276.7,226" stroke="#130a7c"/><polyline points="276.7,226 277.6,226.2" stroke="#130a7d"/><polyline points="277.6,226.2 278.5,226.4" stroke="#130a7e"/><polyline points="278.5,226.4 279.4,226.5" stroke="#130a7f"/><polyline points="279.4,226.5 280.3,226.7" stroke="#120a80"/><polyline points="280.3,226.7 281.2,226.8" stroke="#120a82"/><polyline points="281.2,226.8 282.1,227" stroke="#120a83"/><polyline points="282.1,227 283,227.1" stroke="#120a85"/><polyline points="283,227.1 283.9,227.1" stroke="#110987"/><polyline points="283.9,227.1 284.8,227.2" stroke="#110989"/><polyline points="284.8,227.2 285.7,227.2" stroke="#11098b"/><polyline points="285.7,227.2 286.6,227.2" stroke="#10098e"/><polyline points="286.6,227.2 287.5,227.2" stroke="#100991"/><polyline points="287.5,227.2 288.4,227" stroke="#0f0895"/><polyline points="288.4,227 289.3,226.8" stroke="#0f0899"/><polyline points="289.3,226.8 290.2,226.4" stroke="#0e079f"/><polyline points="290.2,226.4 291.1,225.9" stroke="#0d07a5"/><polyline points="291.1,225.9 292,225.2" stroke="#0c06ae"/><polyline points="292,225.2 292.9,224.1" stroke="#0a05b9"/><polyline points="292.9,224.1 293.9,222.5" stroke="#0804c8"/><polyline points="293.9,222.5 294.8,220.6" stroke="#0502dc"/><polyline points="294.8,220.6 295.7,218.5" stroke="#0100f4"/><polyline points="295.7,218.5 296.6,217.2" stroke="#000cff"/><polyline points="296.6,217.2 297.5,217.4 298.4,219" stroke="#001bff"/><polyline points="298.4,219 299.3,221" stroke="#000fff"/><polyline points="299.3,221 300.2,222.8" stroke="#0000fe"/><polyline points="300.2,222.8 301.1,224" stroke="#0201ef"/><polyline points="301.1,224 302,224.8" stroke="#0302e4"/><polyline points="302,224.8 302.9,225.3" stroke="#0402df"/><polyline points="302.9,225.3 303.8,225.5" stroke="#0502dd"/><polyline points="303.8,225.5 304.7,225.5" stroke="#0402dd"/><polyline points="304.7,225.5 305.6,225.3" stroke="#0402e0"/><polyline points="305.6,225.3 306.5,225" stroke="#0302e5"/><polyline points="306.5,225 307.4,224.6" stroke="#0201ec"/><polyline points="307.4,224.6 308.3,224" stroke="#0100f4"/><polyline points="308.3,224 309.2,223.2" stroke="#0000fd"/><polyline points="309.2,223.2 310.1,222.4" stroke="#0007ff"/><polyline points="310.1,222.4 311,221.4" stroke="#0012ff"/><polyline points="311,221.4 311.9,220.2" stroke="#001dff"/><polyline points="311.9,220.2 312.8,219" stroke="#002aff"/><polyline points="312.8,219 313.7,217.6" stroke="#0038ff"/><polyline points="313.7,217.6 314.6,216.1" stroke="#0047ff"/><polyline points="314.6,216.1 315.5,214.6" stroke="#0057ff"/><polyline points="315.5,214.6 316.4,213" stroke="#0067ff"/><polyline points="316.4,213 317.3,211.6" stroke="#0078ff"/><polyline points="317.3,211.6 318.2,210.3" stroke="#0087ff"/><polyline points="318.2,210.3 319.1,209.2" stroke="#0096ff"/><polyline points="319.1,209.2 320,208.5" stroke="#00a2ff"/><polyline points="320,208.5 320.9,208.2" stroke="#00abff"/><polyline points="320.9,208.2 321.8,208.4" stroke="#00b0ff"/><polyline points="321.8,208.4 322.7,209.1" stroke="#00b1ff"/><polyline points="322.7,209.1 323.6,210.2" stroke="#00adff"/><polyline points="323.6,210.2 324.6,211.7" stroke="#00a6ff"/><polyline points="324.6,211.7 325.5,213.4" stroke="#009bff"/><polyline points="325.5,213.4 326.4,215.4" stroke="#008eff"/><polyline points="326.4,215.4 327.3,217.4" stroke="#007eff"/><polyline points="327.3,217.4 328.2,219.5" stroke="#006eff"/><polyline points="328.2,219.5 329.1,221.6" stroke="#005eff"/><polyline points="329.1,221.6 330,223.5" stroke="#004eff"/><polyline points="330,223.5 330.9,225.4" stroke="#003fff"/><polyline points="330.9,225.4 331.8,227.1" stroke="#0031ff"/><polyline points="331.8,227.1 332.7,228.7" stroke="#0024ff"/><polyline points="332.7,228.7 333.6,230.2" stroke="#0018ff"/><polyline points="333.6,230.2 334.5,231.5" stroke="#000dff"/><polyline points="334.5,231.5 335.4,232.8" stroke="#0003ff"/><polyline points="335.4,232.8 336.3,233.9" stroke="#0000f9"/><polyline points="336.3,233.9 337.2,234.9" stroke="#0201f0"/><polyline points="337.2,234.9 338.1,235.8" stroke="#0301e8"/><polyline points="338.1,235.8 339,236.5" stroke="#0402e1"/><polyline points="339,236.5 339.9,237.2" stroke="#0502dc"/><polyline points="339.9,237.2 340.8,237.8" stroke="#0503d7"/><polyline points="340.8,237.8 341.7,238.3" stroke="#0603d4"/><polyline points="341.7,238.3 342.6,238.6" stroke="#0603d2"/><polyline points="342.6,238.6 343.5,238.8" stroke="#0603d1"/><polyline points="343.5,238.8 344.4,238.9" stroke="#0603d2"/><polyline points="344.4,238.9 345.3,238.7" stroke="#0603d5"/><polyline points="345.3,238.7 346.2,238.3" stroke="#0503d9"/><polyline points="346.2,238.3 347.1,237.5" stroke="#0402e1"/><polyline points="347.1,237.5 348,236.3" stroke="#0201ec"/><polyline points="348,236.3 348.9,234.4" stroke="#0000fd"/><polyline points="348.9,234.4 349.8,231.5" stroke="#0012ff"/><polyline points="349.8,231.5 350.7,227.2" stroke="#002fff"/><polyline points="350.7,227.2 351.6,221" stroke="#0058ff"/><polyline points="351.6,221 352.5,212.8" stroke="#0092ff"/><polyline points="352.5,212.8 353.4,203.9" stroke="#00dfff"/><polyline points="353.4,203.9 354.4,198.2" stroke="#33ffcb"/><polyline points="354.4,198.2 355.3,200" stroke="#69ff95"/><polyline points="355.3,200 356.2,208.2" stroke="#5cffa2"/><polyline points="356.2,208.2 357.1,218" stroke="#14ffea"/><polyline points="357.1,218 358,226.5" stroke="#00bcff"/><polyline points="358,226.5 358.9,232.8" stroke="#0073ff"/><polyline points="358.9,232.8 359.8,237.5" stroke="#003bff"/><polyline points="359.8,237.5 360.7,240.9" stroke="#0014ff"/><polyline points="360.7,240.9 361.6,243.5" stroke="#0100f5"/><polyline points="361.6,243.5 362.5,245.5" stroke="#0502dc"/><polyline points="362.5,245.5 363.4,247.1" stroke="#0804c9"/><polyline points="363.4,247.1 364.3,248.4" stroke="#0a05bb"/><polyline points="364.3,248.4 365.2,249.5" stroke="#0b06b0"/><polyline points="365.2,249.5 366.1,250.4" stroke="#0d07a7"/><polyline points="366.1,250.4 367,251.3" stroke="#0e07a0"/><polyline points="367,251.3 367.9,252" stroke="#0f089a"/><polyline points="367.9,252 368.8,252.6" stroke="#0f0895"/><polyline points="368.8,252.6 369.7,253.2" stroke="#100991"/><polyline points="369.7,253.2 370.6,253.8" stroke="#10098d"/><polyline points="370.6,253.8 371.5,254.3" stroke="#11098a"/><polyline points="371.5,254.3 372.4,254.8" stroke="#110988"/><polyline points="372.4,254.8 373.3,255.3" stroke="#120a86"/><polyline points="373.3,255.3 374.2,255.7" stroke="#120a84"/><polyline points="374.2,255.7 375.1,256.2" stroke="#120a82"/><polyline points="375.1,256.2 376,256.6" stroke="#120a80"/><polyline points="376,256.6 376.9,257" stroke="#130a7f"/><polyline points="376.9,257 377.8,257.3" stroke="#130a7d"/><polyline points="377.8,257.3 378.7,257.7" stroke="#130a7c"/><polyline points="378.7,257.7 379.6,258.1" stroke="#130a7b"/><polyline points="379.6,258.1 380.5,258.5" stroke="#130b7a"/><polyline points="380.5,258.5 381.4,258.8" stroke="#130b79"/><polyline points="381.4,258.8 382.3,259.2" stroke="#140b79"/><polyline points="382.3,259.2 383.2,259.5" stroke="#140b78"/><polyline points="383.2,259.5 384.2,259.8 385.1,260.2" stroke="#140b77"/><polyline points="385.1,260.2 386,260.5 386.9,260.8" stroke="#140b76"/><polyline points="386.9,260.8 387.8,261.1 388.7,261.4 389.6,261.7 390.5,261.9 391.4,262.2 392.3,262.4" stroke="#140b75"/><polyline points="392.3,262.4 393.2,262.6" stroke="#140b76"/><polyline points="393.2,262.6 394.1,262.7" stroke="#140b77"/><polyline points="394.1,262.7 395,262.7" stroke="#140b79"/><polyline points="395,262.7 395.9,262.6" stroke="#130a7c"/><polyline points="395.9,262.6 396.8,262.8" stroke="#130a7f"/><polyline points="396.8,262.8 397.7,263.3" stroke="#120a81"/><polyline points="397.7,263.3 398.6,263.9" stroke="#130a7f"/><polyline points="398.6,263.9 399.5,264.5" stroke="#130a7b"/><polyline points="399.5,264.5 400.4,265" stroke="#140b77"/><polyline points="400.4,265 401.3,265.5" stroke="#140b75"/><polyline points="401.3,265.5 402.2,265.9" stroke="#140b73"/><polyline points="402.2,265.9 403.1,266.2" stroke="#150b72"/><polyline points="403.1,266.2 404,266.6" stroke="#150b71"/><polyline points="404,266.6 404.9,266.9" stroke="#150b70"/><polyline points="404.9,266.9 405.8,267.2 406.7,267.6" stroke="#150b6f"/><polyline points="406.7,267.6 407.6,267.9 408.5,268.2 409.4,268.5" stroke="#150c6e"/><polyline points="409.4,268.5 410.3,268.8 411.2,269.1 412.1,269.4 413,269.7 413.9,270" stroke="#150c6d"/><polyline points="413.9,270 414.9,270.3 415.8,270.6 416.7,270.9 417.6,271.1 418.5,271.4" stroke="#150c6c"/><polyline points="418.5,271.4 419.4,271.7 420.3,272 421.2,272.3" stroke="#160c6c"/><polyline points="421.2,272.3 422.1,272.6 423,272.9 423.9,273.1 424.8,273.4 425.7,273.7 426.6,274 427.5,274.3" stroke="#160c6b"/><polyline points="427.5,274.3 428.4,274.5 429.3,274.8" stroke="#160c6c"/><polyline points="429.3,274.8 430.2,275 431.1,275.3" stroke="#150c6c"/><polyline points="431.1,275.3 432,275.5" stroke="#150c6d"/><polyline points="432,275.5 432.9,275.6" stroke="#150c6e"/><polyline points="432.9,275.6 433.8,275.7" stroke="#150b6f"/><polyline points="433.8,275.7 434.7,275.8" stroke="#150b71"/><polyline points="434.7,275.8 435.6,275.7" stroke="#140b73"/><polyline points="435.6,275.7 436.5,275.7" stroke="#140b77"/><polyline points="436.5,275.7 437.4,276 438.3,276.5" stroke="#130b7a"/><polyline points="438.3,276.5 439.2,277.1" stroke="#140b78"/><polyline points="439.2,277.1 440.1,277.7" stroke="#140b74"/><polyline points="440.1,277.7 441,278.2" stroke="#150b71"/><polyline points="441,278.2 441.9,278.6" stroke="#150b6f"/><polyline points="441.9,278.6 442.8,278.9" stroke="#150c6d"/><polyline points="442.8,278.9 443.7,279.3" stroke="#150c6c"/><polyline points="443.7,279.3 444.7,279.6 445.6,279.9" stroke="#160c6b"/><polyline points="445.6,279.9 446.5,280.2 447.4,280.5 448.3,280.8 449.2,281.1" stroke="#160c6a"/><polyline points="449.2,281.1 450.1,281.4" stroke="#160c69"/><polygon points="171.3,203.9 172.2,204.2 173.1,204.5 174,204.8 174.9,205 175.8,205.3 176.7,205.6 177.6,205.9 178.5,206.2 179.4,206.4 180.3,206.7 181.2,207 182.1,207.3 183,207.5 183.9,207.8 184.8,208.1 185.7,208.3 186.6,208.6 187.5,208.9 188.4,209.2 189.3,209.4 190.2,209.7 191.2,210 192.1,210.2 193,210.5 193.9,210.7 194.8,210.9 195.7,211.1 196.6,211.3 197.5,211.3 198.4,211.1 199.3,210.5 200.2,210.5 201.1,211.6 202,212.5 202.9,213.1 203.8,213.6 204.7,213.9 205.6,214.3 206.5,214.6 207.4,214.9 208.3,215.2 209.2,215.5 210.1,215.8 211,216 211.9,216.3 212.8,216.6 213.7,216.9 214.6,217.1 215.5,217.4 216.4,217.7 217.3,218 218.2,218.2 219.1,218.5 220,218.8 221,219.1 221.9,219.3 222.8,219.6 223.7,219.9 224.6,220.2 225.5,220.4 226.4,220.7 227.3,221 228.2,221.2 229.1,221.5 230,221.8 230.9,222 231.8,222.3 232.7,222.6 233.6,222.8 234.5,223.1 235.4,223.4 236.3,223.6 237.2,223.9 238.1,224.2 239,224.4 239.9,224.7 240.8,225 241.7,225.2 242.6,225.5 243.5,225.8 244.4,226 245.3,226.3 246.2,226.5 247.1,226.8 248,227.1 248.9,227.3 249.8,227.6 250.8,227.8 251.7,228.1 252.6,228.3 253.5,228.6 254.4,228.8 255.3,229.1 256.2,229.3 257.1,229.6 258,229.8 258.9,230.1 259.8,230.3 260.7,230.6 261.6,230.8 262.5,231 263.4,231.3 264.3,231.5 265.2,231.7 266.1,232 267,232.2 267.9,232.4 268.8,232.6 269.7,232.8 270.6,233 271.5,233.2 272.4,233.4 273.3,233.6 274.2,233.8 275.1,234 276,234.1 276.9,234.3 277.8,234.5 278.7,234.6 279.6,234.7 280.5,234.8 281.5,234.9 282.4,235 283.3,235 284.2,235 285.1,235 286,234.9 286.9,234.8 287.8,234.6 288.7,234.3 289.6,233.9 290.5,233.3 291.4,232.5 292.3,231.4 293.2,229.8 294.1,227.6 295,224.7 295.9,221.4 296.8,218.7 297.7,218 298.6,219.7 299.5,222.5 300.4,225.1 301.3,227 302.2,228.2 303.1,228.8 304,229 304.9,228.9 305.8,228.5 306.7,227.8 307.6,227 308.5,226 309.4,224.9 310.3,223.7 311.3,222.4 312.2,221.2 313.1,220.1 314,219.1 314.9,218.5 315.8,218.3 316.7,218.4 317.6,219 318.5,220 319.4,221.3 320.3,222.9 321.2,224.7 322.1,226.6 323,228.6 323.9,230.5 324.8,232.3 325.7,234.1 326.6,235.8 327.5,237.3 328.4,238.8 329.3,240.1 330.2,241.3 331.1,242.4 332,243.5 332.9,244.4 333.8,245.3 334.7,246.1 335.6,246.8 336.5,247.5 337.4,248.1 338.3,248.7 339.2,249.1 340.1,249.6 341.1,250 342,250.3 342.9,250.5 343.8,250.6 344.7,250.7 345.6,250.6 346.5,250.3 347.4,249.8 348.3,248.9 349.2,247.5 350.1,245.5 351,242.4 351.9,237.9 352.8,231.7 353.7,224.1 354.6,217.7 355.5,216.9 356.4,222.6 357.3,230.9 358.2,238.5 359.1,244.3 360,248.6 360.9,251.7 361.8,254 362.7,255.8 363.6,257.2 364.5,258.4 365.4,259.3 366.3,260.1 367.2,260.9 368.1,261.5 369,262.1 369.9,262.7 370.8,263.2 371.8,263.6 372.7,264.1 373.6,264.5 374.5,264.9 375.4,265.3 376.3,265.7 377.2,266.1 378.1,266.4 379,266.8 379.9,267.1 380.8,267.5 381.7,267.8 382.6,268.1 383.5,268.5 384.4,268.8 385.3,269.1 386.2,269.4 387.1,269.7 388,270 388.9,270.3 389.8,270.6 390.7,270.8 391.6,271.1 392.5,271.3 393.4,271.5 394.3,271.6 395.2,271.6 396.1,271.6 397,271.6 397.9,272 398.8,272.6 399.7,273.2 400.6,273.8 401.6,274.2 402.5,274.6 403.4,275 404.3,275.4 405.2,275.7 406.1,276 407,276.3 407.9,276.7 408.8,277 409.7,277.3 410.6,277.6 411.5,277.9 412.4,278.2 413.3,278.4 414.2,278.7 415.1,279 416,279.3 416.9,279.6 417.8,279.9 418.7,280.2 419.6,280.5 420.5,280.8 421.4,281 422.3,281.3 423.2,281.6 424.1,281.9 425,282.2 425.9,282.5 426.8,282.7 427.7,283 428.6,283.3 429.5,283.5 430.4,283.8 431.4,284 432.3,284.3 433.2,284.5 434.1,284.6 435,284.7 435.9,284.8 436.8,284.8 437.7,284.9 438.6,285.3 439.5,285.9 440.4,286.4 441.3,286.9 442.2,287.3 442.2,289.1 171.3,205.3" fill="#fff" stroke="none"/><polyline points="171.3,203.9 172.2,204.2 173.1,204.5 174,204.8 174.9,205 175.8,205.3 176.7,205.6 177.6,205.9 178.5,206.2 179.4,206.4 180.3,206.7 181.2,207 182.1,207.3 183,207.5 183.9,207.8 184.8,208.1 185.7,208.3 186.6,208.6 187.5,208.9 188.4,209.2 189.3,209.4" stroke="#160c68"/><polyline points="189.3,209.4 190.2,209.7 191.2,210 192.1,210.2 193,210.5 193.9,210.7" stroke="#160c69"/><polyline points="193.9,210.7 194.8,210.9 195.7,211.1" stroke="#160c6a"/><polyline points="195.7,211.1 196.6,211.3" stroke="#160c6b"/><polyline points="196.6,211.3 197.5,211.3" stroke="#150c6d"/><polyline points="197.5,211.3 198.4,211.1" stroke="#150b70"/><polyline points="198.4,211.1 199.3,210.5" stroke="#140b75"/><polyline points="199.3,210.5 200.2,210.5" stroke="#130a7f"/><polyline points="200.2,210.5 201.1,211.6" stroke="#120a81"/><polyline points="201.1,211.6 202,212.5" stroke="#140b78"/><polyline points="202,212.5 202.9,213.1" stroke="#150b71"/><polyline points="202.9,213.1 203.8,213.6" stroke="#150c6e"/><polyline points="203.8,213.6 204.7,213.9" stroke="#150c6c"/><polyline points="204.7,213.9 205.6,214.3 206.5,214.6" stroke="#160c6b"/><polyline points="206.5,214.6 207.4,214.9 208.3,215.2 209.2,215.5 210.1,215.8 211,216 211.9,216.3 212.8,216.6 213.7,216.9 214.6,217.1 215.5,217.4 216.4,217.7 217.3,218 218.2,218.2 219.1,218.5 220,218.8 221,219.1 221.9,219.3 222.8,219.6 223.7,219.9 224.6,220.2 225.5,220.4" stroke="#160c6a"/><polyline points="225.5,220.4 226.4,220.7 227.3,221 228.2,221.2 229.1,221.5 230,221.8 230.9,222 231.8,222.3 232.7,222.6 233.6,222.8" stroke="#160c6b"/><polyline points="233.6,222.8 234.5,223.1 235.4,223.4 236.3,223.6" stroke="#160c6c"/><polyline points="236.3,223.6 237.2,223.9 238.1,224.2 239,224.4 239.9,224.7" stroke="#150c6c"/><polyline points="239.9,224.7 240.8,225 241.7,225.2 242.6,225.5 243.5,225.8 244.4,226 245.3,226.3" stroke="#150c6d"/><polyline points="245.3,226.3 246.2,226.5 247.1,226.8 248,227.1 248.9,227.3" stroke="#150c6e"/><polyline points="248.9,227.3 249.8,227.6 250.8,227.8 251.7,228.1 252.6,228.3" stroke="#150b6f"/><polyline points="252.6,228.3 253.5,228.6 254.4,228.8 255.3,229.1 256.2,229.3" stroke="#150b70"/><polyline points="256.2,229.3 257.1,229.6 258,229.8" stroke="#150b71"/><polyline points="258,229.8 258.9,230.1 259.8,230.3 260.7,230.6" stroke="#150b72"/><polyline points="260.7,230.6 261.6,230.8 262.5,231" stroke="#140b73"/><polyline points="262.5,231 263.4,231.3 264.3,231.5" stroke="#140b74"/><polyline points="264.3,231.5 265.2,231.7 266.1,232" stroke="#140b75"/><polyline points="266.1,232 267,232.2 267.9,232.4" stroke="#140b76"/><polyline points="267.9,232.4 268.8,232.6" stroke="#140b77"/><polyline points="268.8,232.6 269.7,232.8 270.6,233" stroke="#140b78"/><polyline points="270.6,233 271.5,233.2" stroke="#130b79"/><polyline points="271.5,233.2 272.4,233.4" stroke="#130b7a"/><polyline points="272.4,233.4 273.3,233.6" stroke="#130a7b"/><polyline points="273.3,233.6 274.2,233.8" stroke="#130a7c"/><polyline points="274.2,233.8 275.1,234" stroke="#130a7d"/><polyline points="275.1,234 276,234.1" stroke="#130a7e"/><polyline points="276,234.1 276.9,234.3" stroke="#130a7f"/><polyline points="276.9,234.3 277.8,234.5" stroke="#120a81"/><polyline points="277.8,234.5 278.7,234.6" stroke="#120a82"/><polyline points="278.7,234.6 279.6,234.7" stroke="#120a84"/><polyline points="279.6,234.7 280.5,234.8" stroke="#120a85"/><polyline points="280.5,234.8 281.5,234.9" stroke="#110987"/><polyline points="281.5,234.9 282.4,235" stroke="#110989"/><polyline points="282.4,235 283.3,235" stroke="#11098c"/><polyline points="283.3,235 284.2,235" stroke="#10098e"/><polyline points="284.2,235 285.1,235" stroke="#100991"/><polyline points="285.1,235 286,234.9" stroke="#0f0894"/><polyline points="286,234.9 286.9,234.8" stroke="#0f0898"/><polyline points="286.9,234.8 287.8,234.6" stroke="#0e089c"/><polyline points="287.8,234.6 288.7,234.3" stroke="#0d07a2"/><polyline points="288.7,234.3 289.6,233.9" stroke="#0d07a8"/><polyline points="289.6,233.9 290.5,233.3" stroke="#0b06af"/><polyline points="290.5,233.3 291.4,232.5" stroke="#0a05b9"/><polyline points="291.4,232.5 292.3,231.4" stroke="#0804c5"/><polyline points="292.3,231.4 293.2,229.8" stroke="#0603d4"/><polyline points="293.2,229.8 294.1,227.6" stroke="#0301e8"/><polyline points="294.1,227.6 295,224.7" stroke="#0004ff"/><polyline points="295,224.7 295.9,221.4" stroke="#0020ff"/><polyline points="295.9,221.4 296.8,218.7" stroke="#0041ff"/><polyline points="296.8,218.7 297.7,218" stroke="#005cff"/><polyline points="297.7,218 298.6,219.7" stroke="#0064ff"/><polyline points="298.6,219.7 299.5,222.5" stroke="#0057ff"/><polyline points="299.5,222.5 300.4,225.1" stroke="#0040ff"/><polyline points="300.4,225.1 301.3,227" stroke="#002cff"/><polyline points="301.3,227 302.2,228.2" stroke="#001dff"/><polyline points="302.2,228.2 303.1,228.8" stroke="#0015ff"/><polyline points="303.1,228.8 304,229" stroke="#0011ff"/><polyline points="304,229 304.9,228.9" stroke="#0012ff"/><polyline points="304.9,228.9 305.8,228.5" stroke="#0016ff"/><polyline points="305.8,228.5 306.7,227.8" stroke="#001cff"/><polyline points="306.7,227.8 307.6,227" stroke="#0024ff"/><polyline points="307.6,227 308.5,226" stroke="#002eff"/><polyline points="308.5,226 309.4,224.9" stroke="#003aff"/><polyline points="309.4,224.9 310.3,223.7" stroke="#0047ff"/><polyline points="310.3,223.7 311.3,222.4" stroke="#0054ff"/><polyline points="311.3,222.4 312.2,221.2" stroke="#0062ff"/><polyline points="312.2,221.2 313.1,220.1" stroke="#0070ff"/><polyline points="313.1,220.1 314,219.1" stroke="#007cff"/><polyline points="314,219.1 314.9,218.5" stroke="#0087ff"/><polyline points="314.9,218.5 315.8,218.3" stroke="#008fff"/><polyline points="315.8,218.3 316.7,218.4" stroke="#0094ff"/><polyline points="316.7,218.4 317.6,219" stroke="#0096ff"/><polyline points="317.6,219 318.5,220" stroke="#0093ff"/><polyline points="318.5,220 319.4,221.3" stroke="#008cff"/><polyline points="319.4,221.3 320.3,222.9" stroke="#0083ff"/><polyline points="320.3,222.9 321.2,224.7" stroke="#0077ff"/><polyline points="321.2,224.7 322.1,226.6" stroke="#0069ff"/><polyline points="322.1,226.6 323,228.6" stroke="#005aff"/><polyline points="323,228.6 323.9,230.5" stroke="#004bff"/><polyline points="323.9,230.5 324.8,232.3" stroke="#003dff"/><polyline points="324.8,232.3 325.7,234.1" stroke="#002eff"/><polyline points="325.7,234.1 326.6,235.8" stroke="#0021ff"/><polyline points="326.6,235.8 327.5,237.3" stroke="#0014ff"/><polyline points="327.5,237.3 328.4,238.8" stroke="#0009ff"/><polyline points="328.4,238.8 329.3,240.1" stroke="#0000fd"/><polyline points="329.3,240.1 330.2,241.3" stroke="#0101f2"/><polyline points="330.2,241.3 331.1,242.4" stroke="#0301e8"/><polyline points="331.1,242.4 332,243.5" stroke="#0402de"/><polyline points="332,243.5 332.9,244.4" stroke="#0603d6"/><polyline points="332.9,244.4 333.8,245.3" stroke="#0703cf"/><polyline points="333.8,245.3 334.7,246.1" stroke="#0804c9"/><polyline points="334.7,246.1 335.6,246.8" stroke="#0804c3"/><polyline points="335.6,246.8 336.5,247.5" stroke="#0905be"/><polyline points="336.5,247.5 337.4,248.1" stroke="#0a05ba"/><polyline points="337.4,248.1 338.3,248.7" stroke="#0a06b6"/><polyline points="338.3,248.7 339.2,249.1" stroke="#0b06b3"/><polyline points="339.2,249.1 340.1,249.6" stroke="#0b06b1"/><polyline points="340.1,249.6 341.1,250" stroke="#0b06af"/><polyline points="341.1,250 342,250.3 342.9,250.5 343.8,250.6" stroke="#0c06ae"/><polyline points="343.8,250.6 344.7,250.7" stroke="#0b06b0"/><polyline points="344.7,250.7 345.6,250.6" stroke="#0b06b2"/><polyline points="345.6,250.6 346.5,250.3" stroke="#0a05b7"/><polyline points="346.5,250.3 347.4,249.8" stroke="#0905bd"/><polyline points="347.4,249.8 348.3,248.9" stroke="#0804c5"/><polyline points="348.3,248.9 349.2,247.5" stroke="#0603d2"/><polyline points="349.2,247.5 350.1,245.5" stroke="#0402e4"/><polyline points="350.1,245.5 351,242.4" stroke="#0000fd"/><polyline points="351,242.4 351.9,237.9" stroke="#001cff"/><polyline points="351.9,237.9 352.8,231.7" stroke="#0048ff"/><polyline points="352.8,231.7 353.7,224.1" stroke="#0083ff"/><polyline points="353.7,224.1 354.6,217.7" stroke="#00caff"/><polyline points="354.6,217.7 355.5,216.9" stroke="#06fff8"/><polyline points="355.5,216.9 356.4,222.6" stroke="#10ffee"/><polyline points="356.4,222.6 357.3,230.9" stroke="#00dfff"/><polyline points="357.3,230.9 358.2,238.5" stroke="#0096ff"/><polyline points="358.2,238.5 359.1,244.3" stroke="#0054ff"/><polyline points="359.1,244.3 360,248.6" stroke="#0022ff"/><polyline points="360,248.6 360.9,251.7" stroke="#0000fd"/><polyline points="360.9,251.7 361.8,254" stroke="#0402de"/><polyline points="361.8,254 362.7,255.8" stroke="#0804c8"/><polyline points="362.7,255.8 363.6,257.2" stroke="#0a05b8"/><polyline points="363.6,257.2 364.5,258.4" stroke="#0c06ab"/><polyline points="364.5,258.4 365.4,259.3" stroke="#0d07a2"/><polyline points="365.4,259.3 366.3,260.1" stroke="#0f089a"/><polyline points="366.3,260.1 367.2,260.9" stroke="#0f0894"/><polyline points="367.2,260.9 368.1,261.5" stroke="#10098f"/><polyline points="368.1,261.5 369,262.1" stroke="#11098b"/><polyline points="369,262.1 369.9,262.7" stroke="#110988"/><polyline points="369.9,262.7 370.8,263.2" stroke="#120a85"/><polyline points="370.8,263.2 371.8,263.6" stroke="#120a83"/><polyline points="371.8,263.6 372.7,264.1" stroke="#120a81"/><polyline points="372.7,264.1 373.6,264.5" stroke="#130a7f"/><polyline points="373.6,264.5 374.5,264.9" stroke="#130a7d"/><polyline points="374.5,264.9 375.4,265.3" stroke="#130a7c"/><polyline points="375.4,265.3 376.3,265.7" stroke="#130a7b"/><polyline points="376.3,265.7 377.2,266.1" stroke="#130b79"/><polyline points="377.2,266.1 378.1,266.4 379,266.8" stroke="#140b78"/><polyline points="379,266.8 379.9,267.1" stroke="#140b77"/><polyline points="379.9,267.1 380.8,267.5" stroke="#140b76"/><polyline points="380.8,267.5 381.7,267.8 382.6,268.1" stroke="#140b75"/><polyline points="382.6,268.1 383.5,268.5 384.4,268.8" stroke="#140b74"/><polyline points="384.4,268.8 385.3,269.1 386.2,269.4" stroke="#140b73"/><polyline points="386.2,269.4 387.1,269.7 388,270 388.9,270.3 389.8,270.6 390.7,270.8 391.6,271.1 392.5,271.3" stroke="#150b72"/><polyline points="392.5,271.3 393.4,271.5" stroke="#140b73"/><polyline points="393.4,271.5 394.3,271.6" stroke="#140b74"/><polyline points="394.3,271.6 395.2,271.6" stroke="#140b76"/><polyline points="395.2,271.6 396.1,271.6" stroke="#140b79"/><polyline points="396.1,271.6 397,271.6" stroke="#130a7c"/><polyline points="397,271.6 397.9,272" stroke="#130a7f"/><polyline points="397.9,272 398.8,272.6" stroke="#130a7e"/><polyline points="398.8,272.6 399.7,273.2" stroke="#130b7a"/><polyline points="399.7,273.2 400.6,273.8" stroke="#140b77"/><polyline points="400.6,273.8 401.6,274.2" stroke="#140b74"/><polyline points="401.6,274.2 402.5,274.6" stroke="#150b72"/><polyline points="402.5,274.6 403.4,275" stroke="#150b70"/><polyline points="403.4,275 404.3,275.4" stroke="#150b6f"/><polyline points="404.3,275.4 405.2,275.7 406.1,276" stroke="#150c6e"/><polyline points="406.1,276 407,276.3 407.9,276.7 408.8,277" stroke="#150c6d"/><polyline points="408.8,277 409.7,277.3 410.6,277.6 411.5,277.9" stroke="#150c6c"/><polyline points="411.5,277.9 412.4,278.2 413.3,278.4" stroke="#160c6c"/><polyline points="413.3,278.4 414.2,278.7 415.1,279 416,279.3 416.9,279.6 417.8,279.9 418.7,280.2 419.6,280.5 420.5,280.8 421.4,281" stroke="#160c6b"/><polyline points="421.4,281 422.3,281.3 423.2,281.6 424.1,281.9 425,282.2 425.9,282.5 426.8,282.7 427.7,283 428.6,283.3" stroke="#160c6a"/><polyline points="428.6,283.3 429.5,283.5 430.4,283.8 431.4,284 432.3,284.3" stroke="#160c6b"/><polyline points="432.3,284.3 433.2,284.5" stroke="#150c6c"/><polyline points="433.2,284.5 434.1,284.6" stroke="#150c6d"/><polyline points="434.1,284.6 435,284.7" stroke="#150c6e"/><polyline points="435,284.7 435.9,284.8" stroke="#150b70"/><polyline points="435.9,284.8 436.8,284.8" stroke="#140b73"/><polyline points="436.8,284.8 437.7,284.9" stroke="#140b76"/><polyline points="437.7,284.9 438.6,285.3" stroke="#140b77"/><polyline points="438.6,285.3 439.5,285.9" stroke="#140b76"/><polyline points="439.5,285.9 440.4,286.4" stroke="#140b73"/><polyline points="440.4,286.4 441.3,286.9" stroke="#150b70"/><polyline points="441.3,286.9 442.2,287.3" stroke="#150c6e"/><polygon points="166,208.1 166.9,208.3 167.8,208.6 168.7,208.9 169.6,209.2 170.5,209.4 171.4,209.7 172.4,210 173.3,210.3 174.2,210.5 175.1,210.8 176,211.1 176.9,211.4 177.8,211.6 178.7,211.9 179.6,212.2 180.5,212.5 181.4,212.7 182.3,213 183.2,213.3 184.1,213.6 185,213.8 185.9,214.1 186.8,214.4 187.7,214.7 188.6,214.9 189.5,215.2 190.4,215.5 191.3,215.7 192.2,216 193.1,216.2 194,216.5 194.9,216.7 195.8,216.9 196.7,217 197.6,217 198.5,216.7 199.4,216 200.3,216 201.2,217.2 202.2,218.2 203.1,218.9 204,219.3 204.9,219.7 205.8,220 206.7,220.3 207.6,220.7 208.5,220.9 209.4,221.2 210.3,221.5 211.2,221.8 212.1,222.1 213,222.4 213.9,222.6 214.8,222.9 215.7,223.2 216.6,223.5 217.5,223.7 218.4,224 219.3,224.3 220.2,224.6 221.1,224.8 222,225.1 222.9,225.4 223.8,225.6 224.7,225.9 225.6,226.2 226.5,226.5 227.4,226.7 228.3,227 229.2,227.3 230.1,227.5 231,227.8 231.9,228.1 232.9,228.3 233.8,228.6 234.7,228.9 235.6,229.1 236.5,229.4 237.4,229.7 238.3,229.9 239.2,230.2 240.1,230.5 241,230.7 241.9,231 242.8,231.2 243.7,231.5 244.6,231.8 245.5,232 246.4,232.3 247.3,232.5 248.2,232.8 249.1,233.1 250,233.3 250.9,233.6 251.8,233.8 252.7,234.1 253.6,234.3 254.5,234.6 255.4,234.8 256.3,235.1 257.2,235.3 258.1,235.5 259,235.8 259.9,236 260.8,236.3 261.7,236.5 262.7,236.7 263.6,236.9 264.5,237.2 265.4,237.4 266.3,237.6 267.2,237.8 268.1,238 269,238.2 269.9,238.4 270.8,238.6 271.7,238.8 272.6,239 273.5,239.2 274.4,239.3 275.3,239.5 276.2,239.6 277.1,239.8 278,239.9 278.9,240 279.8,240.1 280.7,240.1 281.6,240.2 282.5,240.2 283.4,240.2 284.3,240.1 285.2,240 286.1,239.9 287,239.6 287.9,239.3 288.8,238.9 289.7,238.3 290.6,237.4 291.5,236.3 292.5,234.8 293.4,232.7 294.3,229.8 295.2,226 296.1,221.4 297,217 297.9,214.9 298.8,216.2 299.7,219.7 300.6,223.4 301.5,226.3 302.4,228.2 303.3,229.3 304.2,229.7 305.1,229.7 306,229.3 306.9,228.7 307.8,227.9 308.7,227.1 309.6,226.3 310.5,225.6 311.4,225.1 312.3,225 313.2,225.2 314.1,225.7 315,226.6 315.9,227.9 316.8,229.4 317.7,231.1 318.6,232.9 319.5,234.7 320.4,236.5 321.3,238.3 322.2,240 323.2,241.6 324.1,243 325,244.4 325.9,245.7 326.8,246.9 327.7,248 328.6,249 329.5,249.9 330.4,250.8 331.3,251.6 332.2,252.3 333.1,253 334,253.7 334.9,254.3 335.8,254.9 336.7,255.4 337.6,255.9 338.5,256.3 339.4,256.7 340.3,257.1 341.2,257.4 342.1,257.7 343,257.9 343.9,258.1 344.8,258.2 345.7,258.2 346.6,258 347.5,257.7 348.4,257.1 349.3,256.2 350.2,254.8 351.1,252.7 352,249.5 353,244.9 353.9,238.9 354.8,232.9 355.7,230.4 356.6,233.6 357.5,240.3 358.4,247 359.3,252.3 360.2,256.2 361.1,259 362,261.1 362.9,262.7 363.8,264 364.7,265 365.6,265.9 366.5,266.6 367.4,267.3 368.3,267.9 369.2,268.4 370.1,268.9 371,269.4 371.9,269.8 372.8,270.2 373.7,270.7 374.6,271 375.5,271.4 376.4,271.8 377.3,272.1 378.2,272.5 379.1,272.8 380,273.2 380.9,273.5 381.8,273.8 382.8,274.1 383.7,274.4 384.6,274.8 385.5,275.1 386.4,275.4 387.3,275.7 388.2,276 389.1,276.2 390,276.5 390.9,276.8 391.8,277 392.7,277.3 393.6,277.4 394.5,277.6 395.4,277.6 396.3,277.6 397.2,277.6 398.1,277.8 399,278.4 399.9,279 400.8,279.6 401.7,280.1 402.6,280.5 403.5,280.9 404.4,281.2 405.3,281.6 406.2,281.9 407.1,282.2 408,282.5 408.9,282.8 409.8,283.1 410.7,283.4 411.6,283.7 412.6,284 413.5,284.3 414.4,284.6 415.3,284.9 416.2,285.2 417.1,285.4 418,285.7 418.9,286 419.8,286.3 420.7,286.6 421.6,286.9 422.5,287.2 423.4,287.4 424.3,287.7 425.2,288 426.1,288.3 427,288.6 427.9,288.8 428.8,289.1 429.7,289.4 430.6,289.6 431.5,289.9 432.4,290.1 433.3,290.4 434.2,290.6 435.1,290.7 436,290.8 436.9,290.9 436.9,293.2 166,209.4" fill="#fff" stroke="none"/><polyline points="166,208.1 166.9,208.3 167.8,208.6 168.7,208.9 169.6,209.2 170.5,209.4 171.4,209.7 172.4,210" stroke="#160c67"/><polyline points="172.4,210 173.3,210.3 174.2,210.5 175.1,210.8 176,211.1 176.9,211.4 177.8,211.6 178.7,211.9 179.6,212.2 180.5,212.5 181.4,212.7 182.3,213 183.2,213.3 184.1,213.6 185,213.8 185.9,214.1 186.8,214.4 187.7,214.7 188.6,214.9 189.5,215.2" stroke="#160c68"/><polyline points="189.5,215.2 190.4,215.5 191.3,215.7 192.2,216 193.1,216.2 194,216.5" stroke="#160c69"/><polyline points="194,216.5 194.9,216.7" stroke="#160c6a"/><polyline points="194.9,216.7 195.8,216.9" stroke="#160c6b"/><polyline points="195.8,216.9 196.7,217" stroke="#160c6c"/><polyline points="196.7,217 197.6,217" stroke="#150c6d"/><polyline points="197.6,217 198.5,216.7" stroke="#150b70"/><polyline points="198.5,216.7 199.4,216" stroke="#140b77"/><polyline points="199.4,216 200.3,216" stroke="#120a81"/><polyline points="200.3,216 201.2,217.2" stroke="#120a84"/><polyline points="201.2,217.2 202.2,218.2" stroke="#130b7a"/><polyline points="202.2,218.2 203.1,218.9" stroke="#150b72"/><polyline points="203.1,218.9 204,219.3" stroke="#150c6e"/><polyline points="204,219.3 204.9,219.7" stroke="#150c6c"/><polyline points="204.9,219.7 205.8,220 206.7,220.3" stroke="#160c6b"/><polyline points="206.7,220.3 207.6,220.7 208.5,220.9 209.4,221.2 210.3,221.5 211.2,221.8 212.1,222.1 213,222.4 213.9,222.6 214.8,222.9 215.7,223.2 216.6,223.5 217.5,223.7 218.4,224 219.3,224.3 220.2,224.6 221.1,224.8 222,225.1 222.9,225.4 223.8,225.6 224.7,225.9" stroke="#160c6a"/><polyline points="224.7,225.9 225.6,226.2 226.5,226.5 227.4,226.7 228.3,227 229.2,227.3 230.1,227.5 231,227.8 231.9,228.1 232.9,228.3 233.8,228.6" stroke="#160c6b"/><polyline points="233.8,228.6 234.7,228.9 235.6,229.1" stroke="#160c6c"/><polyline points="235.6,229.1 236.5,229.4 237.4,229.7 238.3,229.9 239.2,230.2" stroke="#150c6c"/><polyline points="239.2,230.2 240.1,230.5 241,230.7 241.9,231 242.8,231.2 243.7,231.5 244.6,231.8" stroke="#150c6d"/><polyline points="244.6,231.8 245.5,232 246.4,232.3 247.3,232.5 248.2,232.8" stroke="#150c6e"/><polyline points="248.2,232.8 249.1,233.1 250,233.3 250.9,233.6 251.8,233.8" stroke="#150b6f"/><polyline points="251.8,233.8 252.7,234.1 253.6,234.3 254.5,234.6" stroke="#150b70"/><polyline points="254.5,234.6 255.4,234.8 256.3,235.1 257.2,235.3" stroke="#150b71"/><polyline points="257.2,235.3 258.1,235.5 259,235.8" stroke="#150b72"/><polyline points="259,235.8 259.9,236 260.8,236.3" stroke="#140b73"/><polyline points="260.8,236.3 261.7,236.5 262.7,236.7" stroke="#140b74"/><polyline points="262.7,236.7 263.6,236.9 264.5,237.2" stroke="#140b75"/><polyline points="264.5,237.2 265.4,237.4 266.3,237.6" stroke="#140b76"/><polyline points="266.3,237.6 267.2,237.8" stroke="#140b77"/><polyline points="267.2,237.8 268.1,238" stroke="#140b78"/><polyline points="268.1,238 269,238.2" stroke="#140b79"/><polyline points="269,238.2 269.9,238.4" stroke="#130b79"/><polyline points="269.9,238.4 270.8,238.6" stroke="#130b7a"/><polyline points="270.8,238.6 271.7,238.8" stroke="#130a7b"/><polyline points="271.7,238.8 272.6,239" stroke="#130a7c"/><polyline points="272.6,239 273.5,239.2" stroke="#130a7d"/><polyline points="273.5,239.2 274.4,239.3" stroke="#130a7e"/><polyline points="274.4,239.3 275.3,239.5" stroke="#130a80"/><polyline points="275.3,239.5 276.2,239.6" stroke="#120a81"/><polyline points="276.2,239.6 277.1,239.8" stroke="#120a82"/><polyline points="277.1,239.8 278,239.9" stroke="#120a84"/><polyline points="278,239.9 278.9,240" stroke="#120a86"/><polyline points="278.9,240 279.8,240.1" stroke="#110988"/><polyline points="279.8,240.1 280.7,240.1" stroke="#11098a"/><polyline points="280.7,240.1 281.6,240.2" stroke="#11098c"/><polyline points="281.6,240.2 282.5,240.2" stroke="#10098f"/><polyline points="282.5,240.2 283.4,240.2" stroke="#100991"/><polyline points="283.4,240.2 284.3,240.1" stroke="#0f0895"/><polyline points="284.3,240.1 285.2,240" stroke="#0f0898"/><polyline points="285.2,240 286.1,239.9" stroke="#0e089c"/><polyline points="286.1,239.9 287,239.6" stroke="#0d07a1"/><polyline points="287,239.6 287.9,239.3" stroke="#0d07a7"/><polyline points="287.9,239.3 288.8,238.9" stroke="#0c06ad"/><polyline points="288.8,238.9 289.7,238.3" stroke="#0a06b5"/><polyline points="289.7,238.3 290.6,237.4" stroke="#0905bf"/><polyline points="290.6,237.4 291.5,236.3" stroke="#0704cb"/><polyline points="291.5,236.3 292.5,234.8" stroke="#0503da"/><polyline points="292.5,234.8 293.4,232.7" stroke="#0201ed"/><polyline points="293.4,232.7 294.3,229.8" stroke="#0007ff"/><polyline points="294.3,229.8 295.2,226" stroke="#0023ff"/><polyline points="295.2,226 296.1,221.4" stroke="#0048ff"/><polyline points="296.1,221.4 297,217" stroke="#0074ff"/><polyline points="297,217 297.9,214.9" stroke="#009fff"/><polyline points="297.9,214.9 298.8,216.2" stroke="#00b4ff"/><polyline points="298.8,216.2 299.7,219.7" stroke="#00abff"/><polyline points="299.7,219.7 300.6,223.4" stroke="#008eff"/><polyline points="300.6,223.4 301.5,226.3" stroke="#006fff"/><polyline points="301.5,226.3 302.4,228.2" stroke="#0057ff"/><polyline points="302.4,228.2 303.3,229.3" stroke="#0048ff"/><polyline points="303.3,229.3 304.2,229.7" stroke="#0041ff"/><polyline points="304.2,229.7 305.1,229.7" stroke="#0040ff"/><polyline points="305.1,229.7 306,229.3" stroke="#0043ff"/><polyline points="306,229.3 306.9,228.7" stroke="#0049ff"/><polyline points="306.9,228.7 307.8,227.9" stroke="#0051ff"/><polyline points="307.8,227.9 308.7,227.1" stroke="#005aff"/><polyline points="308.7,227.1 309.6,226.3" stroke="#0064ff"/><polyline points="309.6,226.3 310.5,225.6" stroke="#006eff"/><polyline points="310.5,225.6 311.4,225.1" stroke="#0077ff"/><polyline points="311.4,225.1 312.3,225" stroke="#007eff"/><polyline points="312.3,225 313.2,225.2 314.1,225.7" stroke="#0082ff"/><polyline points="314.1,225.7 315,226.6" stroke="#0080ff"/><polyline points="315,226.6 315.9,227.9" stroke="#007aff"/><polyline points="315.9,227.9 316.8,229.4" stroke="#0071ff"/><polyline points="316.8,229.4 317.7,231.1" stroke="#0066ff"/><polyline points="317.7,231.1 318.6,232.9" stroke="#005aff"/><polyline points="318.6,232.9 319.5,234.7" stroke="#004cff"/><polyline points="319.5,234.7 320.4,236.5" stroke="#003eff"/><polyline points="320.4,236.5 321.3,238.3" stroke="#0030ff"/><polyline points="321.3,238.3 322.2,240" stroke="#0022ff"/><polyline points="322.2,240 323.2,241.6" stroke="#0016ff"/><polyline points="323.2,241.6 324.1,243" stroke="#000aff"/><polyline points="324.1,243 325,244.4" stroke="#0000fe"/><polyline points="325,244.4 325.9,245.7" stroke="#0101f2"/><polyline points="325.9,245.7 326.8,246.9" stroke="#0301e7"/><polyline points="326.8,246.9 327.7,248" stroke="#0402dd"/><polyline points="327.7,248 328.6,249" stroke="#0603d5"/><polyline points="328.6,249 329.5,249.9" stroke="#0704cd"/><polyline points="329.5,249.9 330.4,250.8" stroke="#0804c6"/><polyline points="330.4,250.8 331.3,251.6" stroke="#0905bf"/><polyline points="331.3,251.6 332.2,252.3" stroke="#0a05b9"/><polyline points="332.2,252.3 333.1,253" stroke="#0b06b4"/><polyline points="333.1,253 334,253.7" stroke="#0b06b0"/><polyline points="334,253.7 334.9,254.3" stroke="#0c06ac"/><polyline points="334.9,254.3 335.8,254.9" stroke="#0c07a8"/><polyline points="335.8,254.9 336.7,255.4" stroke="#0d07a5"/><polyline points="336.7,255.4 337.6,255.9" stroke="#0d07a3"/><polyline points="337.6,255.9 338.5,256.3" stroke="#0e07a0"/><polyline points="338.5,256.3 339.4,256.7" stroke="#0e079f"/><polyline points="339.4,256.7 340.3,257.1" stroke="#0e089d"/><polyline points="340.3,257.1 341.2,257.4 342.1,257.7 343,257.9 343.9,258.1" stroke="#0e089c"/><polyline points="343.9,258.1 344.8,258.2" stroke="#0e089e"/><polyline points="344.8,258.2 345.7,258.2" stroke="#0e07a0"/><polyline points="345.7,258.2 346.6,258" stroke="#0d07a3"/><polyline points="346.6,258 347.5,257.7" stroke="#0d07a7"/><polyline points="347.5,257.7 348.4,257.1" stroke="#0c06ae"/><polyline points="348.4,257.1 349.3,256.2" stroke="#0a05b7"/><polyline points="349.3,256.2 350.2,254.8" stroke="#0804c4"/><polyline points="350.2,254.8 351.1,252.7" stroke="#0603d6"/><polyline points="351.1,252.7 352,249.5" stroke="#0201f0"/><polyline points="352,249.5 353,244.9" stroke="#0013ff"/><polyline points="353,244.9 353.9,238.9" stroke="#003fff"/><polyline points="353.9,238.9 354.8,232.9" stroke="#0078ff"/><polyline points="354.8,232.9 355.7,230.4" stroke="#00b0ff"/><polyline points="355.7,230.4 356.6,233.6" stroke="#00caff"/><polyline points="356.6,233.6 357.5,240.3" stroke="#00afff"/><polyline points="357.5,240.3 358.4,247" stroke="#0075ff"/><polyline points="358.4,247 359.3,252.3" stroke="#003bff"/><polyline points="359.3,252.3 360.2,256.2" stroke="#000eff"/><polyline points="360.2,256.2 361.1,259" stroke="#0301e9"/><polyline points="361.1,259 362,261.1" stroke="#0704cd"/><polyline points="362,261.1 362.9,262.7" stroke="#0a05b9"/><polyline points="362.9,262.7 363.8,264" stroke="#0c06ab"/><polyline points="363.8,264 364.7,265" stroke="#0e07a0"/><polyline points="364.7,265 365.6,265.9" stroke="#0f0898"/><polyline points="365.6,265.9 366.5,266.6" stroke="#100992"/><polyline points="366.5,266.6 367.4,267.3" stroke="#11098c"/><polyline points="367.4,267.3 368.3,267.9" stroke="#110988"/><polyline points="368.3,267.9 369.2,268.4" stroke="#120a85"/><polyline points="369.2,268.4 370.1,268.9" stroke="#120a82"/><polyline points="370.1,268.9 371,269.4" stroke="#130a80"/><polyline points="371,269.4 371.9,269.8" stroke="#130a7e"/><polyline points="371.9,269.8 372.8,270.2" stroke="#130a7c"/><polyline points="372.8,270.2 373.7,270.7" stroke="#130a7b"/><polyline points="373.7,270.7 374.6,271" stroke="#130b79"/><polyline points="374.6,271 375.5,271.4" stroke="#140b78"/><polyline points="375.5,271.4 376.4,271.8" stroke="#140b77"/><polyline points="376.4,271.8 377.3,272.1" stroke="#140b76"/><polyline points="377.3,272.1 378.2,272.5" stroke="#140b75"/><polyline points="378.2,272.5 379.1,272.8 380,273.2" stroke="#140b74"/><polyline points="380,273.2 380.9,273.5 381.8,273.8" stroke="#140b73"/><polyline points="381.8,273.8 382.8,274.1 383.7,274.4" stroke="#150b72"/><polyline points="383.7,274.4 384.6,274.8 385.5,275.1 386.4,275.4" stroke="#150b71"/><polyline points="386.4,275.4 387.3,275.7 388.2,276 389.1,276.2 390,276.5 390.9,276.8 391.8,277" stroke="#150b70"/><polyline points="391.8,277 392.7,277.3 393.6,277.4" stroke="#150b71"/><polyline points="393.6,277.4 394.5,277.6" stroke="#150b72"/><polyline points="394.5,277.6 395.4,277.6" stroke="#140b74"/><polyline points="395.4,277.6 396.3,277.6" stroke="#140b76"/><polyline points="396.3,277.6 397.2,277.6" stroke="#130b7a"/><polyline points="397.2,277.6 398.1,277.8 399,278.4" stroke="#130a7d"/><polyline points="399,278.4 399.9,279" stroke="#130b7a"/><polyline points="399.9,279 400.8,279.6" stroke="#140b77"/><polyline points="400.8,279.6 401.7,280.1" stroke="#140b73"/><polyline points="401.7,280.1 402.6,280.5" stroke="#150b71"/><polyline points="402.6,280.5 403.5,280.9" stroke="#150b70"/><polyline points="403.5,280.9 404.4,281.2 405.3,281.6" stroke="#150c6e"/><polyline points="405.3,281.6 406.2,281.9 407.1,282.2" stroke="#150c6d"/><polyline points="407.1,282.2 408,282.5" stroke="#150c6c"/><polyline points="408,282.5 408.9,282.8 409.8,283.1" stroke="#160c6c"/><polyline points="409.8,283.1 410.7,283.4 411.6,283.7 412.6,284 413.5,284.3 414.4,284.6" stroke="#160c6b"/><polyline points="414.4,284.6 415.3,284.9 416.2,285.2 417.1,285.4 418,285.7 418.9,286 419.8,286.3 420.7,286.6 421.6,286.9 422.5,287.2 423.4,287.4 424.3,287.7 425.2,288 426.1,288.3 427,288.6 427.9,288.8 428.8,289.1 429.7,289.4 430.6,289.6 431.5,289.9 432.4,290.1" stroke="#160c6a"/><polyline points="432.4,290.1 433.3,290.4 434.2,290.6" stroke="#160c6b"/><polyline points="434.2,290.6 435.1,290.7" stroke="#150c6c"/><polyline points="435.1,290.7 436,290.8" stroke="#150c6e"/><polyline points="436,290.8 436.9,290.9" stroke="#150b70"/><polygon points="152.9,218.3 153.8,218.6 154.7,218.8 155.6,219.1 156.5,219.4 157.4,219.7 158.3,220 159.2,220.2 160.1,220.5 161,220.8 161.9,221.1 162.8,221.3 163.7,221.6 164.6,221.9 165.5,222.2 166.4,222.4 167.3,222.7 168.2,223 169.1,223.3 170,223.6 171,223.8 171.9,224.1 172.8,224.4 173.7,224.7 174.6,224.9 175.5,225.2 176.4,225.5 177.3,225.8 178.2,226 179.1,226.3 180,226.6 180.9,226.9 181.8,227.1 182.7,227.4 183.6,227.7 184.5,227.9 185.4,228.2 186.3,228.5 187.2,228.8 188.1,229 189,229.3 189.9,229.6 190.8,229.8 191.7,230.1 192.6,230.3 193.5,230.6 194.4,230.8 195.3,231 196.2,231.1 197.1,231.1 198,230.9 198.9,230.3 199.8,229 200.8,228.9 201.7,230.6 202.6,232.1 203.5,232.9 204.4,233.5 205.3,233.9 206.2,234.3 207.1,234.6 208,235 208.9,235.3 209.8,235.6 210.7,235.8 211.6,236.1 212.5,236.4 213.4,236.7 214.3,237 215.2,237.3 216.1,237.5 217,237.8 217.9,238.1 218.8,238.3 219.7,238.6 220.6,238.9 221.5,239.2 222.4,239.4 223.3,239.7 224.2,240 225.1,240.2 226,240.5 226.9,240.8 227.8,241 228.7,241.3 229.6,241.6 230.6,241.8 231.5,242.1 232.4,242.4 233.3,242.6 234.2,242.9 235.1,243.2 236,243.4 236.9,243.7 237.8,243.9 238.7,244.2 239.6,244.5 240.5,244.7 241.4,245 242.3,245.2 243.2,245.5 244.1,245.7 245,246 245.9,246.2 246.8,246.5 247.7,246.7 248.6,247 249.5,247.2 250.4,247.5 251.3,247.7 252.2,248 253.1,248.2 254,248.4 254.9,248.7 255.8,248.9 256.7,249.1 257.6,249.3 258.5,249.6 259.4,249.8 260.3,250 261.3,250.2 262.2,250.4 263.1,250.6 264,250.8 264.9,251 265.8,251.2 266.7,251.4 267.6,251.5 268.5,251.7 269.4,251.9 270.3,252 271.2,252.1 272.1,252.3 273,252.4 273.9,252.5 274.8,252.6 275.7,252.6 276.6,252.7 277.5,252.7 278.4,252.7 279.3,252.6 280.2,252.6 281.1,252.5 282,252.3 282.9,252.1 283.8,251.9 284.7,251.5 285.6,251.1 286.5,250.6 287.4,250 288.3,249.2 289.2,248.3 290.1,247.1 291.1,245.6 292,243.7 292.9,241.2 293.8,238 294.7,233.8 295.6,228.2 296.5,220.8 297.4,211.7 298.3,202.2 299.2,195.7 300.1,195.7 301,201.5 301.9,209.2 302.8,216.1 303.7,221.5 304.6,225.6 305.5,228.9 306.4,231.8 307.3,234.4 308.2,236.9 309.1,239.3 310,241.6 310.9,243.9 311.8,246.1 312.7,248.1 313.6,250.1 314.5,251.9 315.4,253.6 316.3,255.1 317.2,256.5 318.1,257.8 319,259.1 319.9,260.2 320.9,261.2 321.8,262.2 322.7,263 323.6,263.9 324.5,264.6 325.4,265.4 326.3,266 327.2,266.7 328.1,267.3 329,267.9 329.9,268.4 330.8,268.9 331.7,269.4 332.6,269.9 333.5,270.4 334.4,270.8 335.3,271.2 336.2,271.6 337.1,272 338,272.4 338.9,272.7 339.8,273 340.7,273.3 341.6,273.6 342.5,273.9 343.4,274.1 344.3,274.3 345.2,274.5 346.1,274.6 347,274.6 347.9,274.6 348.8,274.4 349.7,274.1 350.6,273.5 351.6,272.6 352.5,271.2 353.4,269 354.3,265.7 355.2,261.1 356.1,255.7 357,252.1 357.9,253.3 358.8,258.5 359.7,264.4 360.6,269.3 361.5,272.8 362.4,275.4 363.3,277.2 364.2,278.6 365.1,279.8 366,280.7 366.9,281.4 367.8,282.1 368.7,282.7 369.6,283.2 370.5,283.7 371.4,284.2 372.3,284.6 373.2,285 374.1,285.4 375,285.7 375.9,286.1 376.8,286.5 377.7,286.8 378.6,287.1 379.5,287.5 380.4,287.8 381.4,288.1 382.3,288.4 383.2,288.7 384.1,289 385,289.3 385.9,289.6 386.8,289.9 387.7,290.2 388.6,290.5 389.5,290.8 390.4,291.1 391.3,291.3 392.2,291.6 393.1,291.8 394,292 394.9,292.2 395.8,292.2 396.7,292.2 397.6,292.1 398.5,291.9 399.4,292 400.3,292.5 401.2,293.3 402.1,294 403,294.6 403.9,295.1 404.8,295.5 405.7,295.9 406.6,296.3 407.5,296.6 408.4,296.9 409.3,297.2 410.2,297.5 411.2,297.8 412.1,298.1 413,298.4 413.9,298.7 414.8,299 415.7,299.3 416.6,299.6 417.5,299.9 418.4,300.2 419.3,300.5 420.2,300.8 421.1,301.1 422,301.3 422.9,301.6 423.8,301.9 423.8,303.4 152.9,219.7" fill="#fff" stroke="none"/><polyline points="152.9,218.3 153.8,218.6 154.7,218.8 155.6,219.1 156.5,219.4 157.4,219.7 158.3,220 159.2,220.2 160.1,220.5 161,220.8 161.9,221.1 162.8,221.3 163.7,221.6 164.6,221.9" stroke="#160c67"/><polyline points="164.6,221.9 165.5,222.2 166.4,222.4 167.3,222.7 168.2,223 169.1,223.3 170,223.6 171,223.8 171.9,224.1 172.8,224.4 173.7,224.7 174.6,224.9 175.5,225.2 176.4,225.5 177.3,225.8 178.2,226 179.1,226.3 180,226.6 180.9,226.9 181.8,227.1 182.7,227.4 183.6,227.7 184.5,227.9" stroke="#160c68"/><polyline points="184.5,227.9 185.4,228.2 186.3,228.5 187.2,228.8 188.1,229 189,229.3 189.9,229.6 190.8,229.8 191.7,230.1" stroke="#160c69"/><polyline points="191.7,230.1 192.6,230.3 193.5,230.6" stroke="#160c6a"/><polyline points="193.5,230.6 194.4,230.8 195.3,231" stroke="#160c6b"/><polyline points="195.3,231 196.2,231.1" stroke="#150c6c"/><polyline points="196.2,231.1 197.1,231.1" stroke="#150c6e"/><polyline points="197.1,231.1 198,230.9" stroke="#150b71"/><polyline points="198,230.9 198.9,230.3" stroke="#140b76"/><polyline points="198.9,230.3 199.8,229" stroke="#130a80"/><polyline points="199.8,229 200.8,228.9" stroke="#100990"/><polyline points="200.8,228.9 201.7,230.6" stroke="#0f0895"/><polyline points="201.7,230.6 202.6,232.1" stroke="#120a85"/><polyline points="202.6,232.1 203.5,232.9" stroke="#140b78"/><polyline points="203.5,232.9 204.4,233.5" stroke="#150b72"/><polyline points="204.4,233.5 205.3,233.9" stroke="#150b6f"/><polyline points="205.3,233.9 206.2,234.3" stroke="#150c6d"/><polyline points="206.2,234.3 207.1,234.6" stroke="#150c6c"/><polyline points="207.1,234.6 208,235" stroke="#160c6c"/><polyline points="208,235 208.9,235.3 209.8,235.6 210.7,235.8 211.6,236.1 212.5,236.4 213.4,236.7 214.3,237 215.2,237.3 216.1,237.5 217,237.8 217.9,238.1 218.8,238.3 219.7,238.6 220.6,238.9 221.5,239.2 222.4,239.4 223.3,239.7 224.2,240 225.1,240.2" stroke="#160c6b"/><polyline points="225.1,240.2 226,240.5 226.9,240.8 227.8,241" stroke="#160c6c"/><polyline points="227.8,241 228.7,241.3 229.6,241.6 230.6,241.8 231.5,242.1" stroke="#150c6c"/><polyline points="231.5,242.1 232.4,242.4 233.3,242.6 234.2,242.9 235.1,243.2 236,243.4 236.9,243.7" stroke="#150c6d"/><polyline points="236.9,243.7 237.8,243.9 238.7,244.2 239.6,244.5 240.5,244.7 241.4,245" stroke="#150c6e"/><polyline points="241.4,245 242.3,245.2 243.2,245.5 244.1,245.7" stroke="#150b6f"/><polyline points="244.1,245.7 245,246 245.9,246.2 246.8,246.5 247.7,246.7" stroke="#150b70"/><polyline points="247.7,246.7 248.6,247 249.5,247.2" stroke="#150b71"/><polyline points="249.5,247.2 250.4,247.5 251.3,247.7 252.2,248" stroke="#150b72"/><polyline points="252.2,248 253.1,248.2 254,248.4" stroke="#140b73"/><polyline points="254,248.4 254.9,248.7 255.8,248.9" stroke="#140b74"/><polyline points="255.8,248.9 256.7,249.1 257.6,249.3" stroke="#140b75"/><polyline points="257.6,249.3 258.5,249.6" stroke="#140b76"/><polyline points="258.5,249.6 259.4,249.8 260.3,250" stroke="#140b77"/><polyline points="260.3,250 261.3,250.2" stroke="#140b78"/><polyline points="261.3,250.2 262.2,250.4" stroke="#140b79"/><polyline points="262.2,250.4 263.1,250.6" stroke="#130b79"/><polyline points="263.1,250.6 264,250.8" stroke="#130b7a"/><polyline points="264,250.8 264.9,251" stroke="#130a7b"/><polyline points="264.9,251 265.8,251.2" stroke="#130a7c"/><polyline points="265.8,251.2 266.7,251.4" stroke="#130a7d"/><polyline points="266.7,251.4 267.6,251.5" stroke="#130a7e"/><polyline points="267.6,251.5 268.5,251.7" stroke="#130a7f"/><polyline points="268.5,251.7 269.4,251.9" stroke="#120a81"/><polyline points="269.4,251.9 270.3,252" stroke="#120a82"/><polyline points="270.3,252 271.2,252.1" stroke="#120a83"/><polyline points="271.2,252.1 272.1,252.3" stroke="#120a85"/><polyline points="272.1,252.3 273,252.4" stroke="#110987"/><polyline points="273,252.4 273.9,252.5" stroke="#110989"/><polyline points="273.9,252.5 274.8,252.6" stroke="#11098b"/><polyline points="274.8,252.6 275.7,252.6" stroke="#11098d"/><polyline points="275.7,252.6 276.6,252.7" stroke="#10098f"/><polyline points="276.6,252.7 277.5,252.7" stroke="#100992"/><polyline points="277.5,252.7 278.4,252.7" stroke="#0f0894"/><polyline points="278.4,252.7 279.3,252.6" stroke="#0f0897"/><polyline points="279.3,252.6 280.2,252.6" stroke="#0e089b"/><polyline points="280.2,252.6 281.1,252.5" stroke="#0e079f"/><polyline points="281.1,252.5 282,252.3" stroke="#0d07a3"/><polyline points="282,252.3 282.9,252.1" stroke="#0d07a7"/><polyline points="282.9,252.1 283.8,251.9" stroke="#0c06ac"/><polyline points="283.8,251.9 284.7,251.5" stroke="#0b06b2"/><polyline points="284.7,251.5 285.6,251.1" stroke="#0a05b9"/><polyline points="285.6,251.1 286.5,250.6" stroke="#0905c0"/><polyline points="286.5,250.6 287.4,250" stroke="#0804c9"/><polyline points="287.4,250 288.3,249.2" stroke="#0603d3"/><polyline points="288.3,249.2 289.2,248.3" stroke="#0402de"/><polyline points="289.2,248.3 290.1,247.1" stroke="#0201ec"/><polyline points="290.1,247.1 291.1,245.6" stroke="#0000fc"/><polyline points="291.1,245.6 292,243.7" stroke="#000dff"/><polyline points="292,243.7 292.9,241.2" stroke="#0021ff"/><polyline points="292.9,241.2 293.8,238" stroke="#003aff"/><polyline points="293.8,238 294.7,233.8" stroke="#0059ff"/><polyline points="294.7,233.8 295.6,228.2" stroke="#0082ff"/><polyline points="295.6,228.2 296.5,220.8" stroke="#00b7ff"/><polyline points="296.5,220.8 297.4,211.7" stroke="#00fcff"/><polyline points="297.4,211.7 298.3,202.2" stroke="#52ffac"/><polyline points="298.3,202.2 299.2,195.7" stroke="#abff53"/><polyline points="299.2,195.7 300.1,195.7" stroke="#e8ff16"/><polyline points="300.1,195.7 301,201.5" stroke="#eaff14"/><polyline points="301,201.5 301.9,209.2" stroke="#b8ff46"/><polyline points="301.9,209.2 302.8,216.1" stroke="#75ff89"/><polyline points="302.8,216.1 303.7,221.5" stroke="#39ffc5"/><polyline points="303.7,221.5 304.6,225.6" stroke="#0bfff3"/><polyline points="304.6,225.6 305.5,228.9" stroke="#00e8ff"/><polyline points="305.5,228.9 306.4,231.8" stroke="#00ccff"/><polyline points="306.4,231.8 307.3,234.4" stroke="#00b5ff"/><polyline points="307.3,234.4 308.2,236.9" stroke="#00a0ff"/><polyline points="308.2,236.9 309.1,239.3" stroke="#008cff"/><polyline points="309.1,239.3 310,241.6" stroke="#0079ff"/><polyline points="310,241.6 310.9,243.9" stroke="#0066ff"/><polyline points="310.9,243.9 311.8,246.1" stroke="#0054ff"/><polyline points="311.8,246.1 312.7,248.1" stroke="#0043ff"/><polyline points="312.7,248.1 313.6,250.1" stroke="#0032ff"/><polyline points="313.6,250.1 314.5,251.9" stroke="#0023ff"/><polyline points="314.5,251.9 315.4,253.6" stroke="#0016ff"/><polyline points="315.4,253.6 316.3,255.1" stroke="#0009ff"/><polyline points="316.3,255.1 317.2,256.5" stroke="#0000fc"/><polyline points="317.2,256.5 318.1,257.8" stroke="#0201f0"/><polyline points="318.1,257.8 319,259.1" stroke="#0302e5"/><polyline points="319,259.1 319.9,260.2" stroke="#0502db"/><polyline points="319.9,260.2 320.9,261.2" stroke="#0603d2"/><polyline points="320.9,261.2 321.8,262.2" stroke="#0704c9"/><polyline points="321.8,262.2 322.7,263" stroke="#0905c2"/><polyline points="322.7,263 323.6,263.9" stroke="#0a05bb"/><polyline points="323.6,263.9 324.5,264.6" stroke="#0a06b6"/><polyline points="324.5,264.6 325.4,265.4" stroke="#0b06b0"/><polyline points="325.4,265.4 326.3,266" stroke="#0c06ab"/><polyline points="326.3,266 327.2,266.7" stroke="#0d07a7"/><polyline points="327.2,266.7 328.1,267.3" stroke="#0d07a3"/><polyline points="328.1,267.3 329,267.9" stroke="#0e07a0"/><polyline points="329,267.9 329.9,268.4" stroke="#0e089c"/><polyline points="329.9,268.4 330.8,268.9" stroke="#0f0899"/><polyline points="330.8,268.9 331.7,269.4" stroke="#0f0897"/><polyline points="331.7,269.4 332.6,269.9" stroke="#0f0894"/><polyline points="332.6,269.9 333.5,270.4" stroke="#100992"/><polyline points="333.5,270.4 334.4,270.8" stroke="#100990"/><polyline points="334.4,270.8 335.3,271.2" stroke="#10098f"/><polyline points="335.3,271.2 336.2,271.6" stroke="#10098d"/><polyline points="336.2,271.6 337.1,272" stroke="#11098c"/><polyline points="337.1,272 338,272.4" stroke="#11098b"/><polyline points="338,272.4 338.9,272.7" stroke="#11098a"/><polyline points="338.9,272.7 339.8,273 340.7,273.3" stroke="#110989"/><polyline points="340.7,273.3 341.6,273.6 342.5,273.9 343.4,274.1" stroke="#110988"/><polyline points="343.4,274.1 344.3,274.3" stroke="#110989"/><polyline points="344.3,274.3 345.2,274.5" stroke="#11098a"/><polyline points="345.2,274.5 346.1,274.6" stroke="#11098b"/><polyline points="346.1,274.6 347,274.6" stroke="#11098d"/><polyline points="347,274.6 347.9,274.6" stroke="#10098f"/><polyline points="347.9,274.6 348.8,274.4" stroke="#100893"/><polyline points="348.8,274.4 349.7,274.1" stroke="#0f0898"/><polyline points="349.7,274.1 350.6,273.5" stroke="#0e089e"/><polyline points="350.6,273.5 351.6,272.6" stroke="#0d07a7"/><polyline points="351.6,272.6 352.5,271.2" stroke="#0b06b4"/><polyline points="352.5,271.2 353.4,269" stroke="#0804c7"/><polyline points="353.4,269 354.3,265.7" stroke="#0402e2"/><polyline points="354.3,265.7 355.2,261.1" stroke="#0008ff"/><polyline points="355.2,261.1 356.1,255.7" stroke="#0034ff"/><polyline points="356.1,255.7 357,252.1" stroke="#0068ff"/><polyline points="357,252.1 357.9,253.3" stroke="#008bff"/><polyline points="357.9,253.3 358.8,258.5" stroke="#0082ff"/><polyline points="358.8,258.5 359.7,264.4" stroke="#0056ff"/><polyline points="359.7,264.4 360.6,269.3" stroke="#0022ff"/><polyline points="360.6,269.3 361.5,272.8" stroke="#0100f7"/><polyline points="361.5,272.8 362.4,275.4" stroke="#0603d4"/><polyline points="362.4,275.4 363.3,277.2" stroke="#0a05bb"/><polyline points="363.3,277.2 364.2,278.6" stroke="#0c07aa"/><polyline points="364.2,278.6 365.1,279.8" stroke="#0e089e"/><polyline points="365.1,279.8 366,280.7" stroke="#0f0895"/><polyline points="366,280.7 366.9,281.4" stroke="#10098e"/><polyline points="366.9,281.4 367.8,282.1" stroke="#110988"/><polyline points="367.8,282.1 368.7,282.7" stroke="#120a84"/><polyline points="368.7,282.7 369.6,283.2" stroke="#120a81"/><polyline points="369.6,283.2 370.5,283.7" stroke="#130a7e"/><polyline points="370.5,283.7 371.4,284.2" stroke="#130a7c"/><polyline points="371.4,284.2 372.3,284.6" stroke="#130b7a"/><polyline points="372.3,284.6 373.2,285" stroke="#140b78"/><polyline points="373.2,285 374.1,285.4" stroke="#140b77"/><polyline points="374.1,285.4 375,285.7" stroke="#140b76"/><polyline points="375,285.7 375.9,286.1" stroke="#140b75"/><polyline points="375.9,286.1 376.8,286.5" stroke="#140b74"/><polyline points="376.8,286.5 377.7,286.8 378.6,287.1" stroke="#140b73"/><polyline points="378.6,287.1 379.5,287.5" stroke="#150b72"/><polyline points="379.5,287.5 380.4,287.8 381.4,288.1" stroke="#150b71"/><polyline points="381.4,288.1 382.3,288.4 383.2,288.7 384.1,289" stroke="#150b70"/><polyline points="384.1,289 385,289.3 385.9,289.6 386.8,289.9 387.7,290.2 388.6,290.5 389.5,290.8 390.4,291.1 391.3,291.3 392.2,291.6 393.1,291.8" stroke="#150b6f"/><polyline points="393.1,291.8 394,292" stroke="#150b70"/><polyline points="394,292 394.9,292.2" stroke="#150b71"/><polyline points="394.9,292.2 395.8,292.2" stroke="#150b72"/><polyline points="395.8,292.2 396.7,292.2" stroke="#140b74"/><polyline points="396.7,292.2 397.6,292.1" stroke="#140b77"/><polyline points="397.6,292.1 398.5,291.9" stroke="#130a7c"/><polyline points="398.5,291.9 399.4,292" stroke="#120a81"/><polyline points="399.4,292 400.3,292.5" stroke="#120a83"/><polyline points="400.3,292.5 401.2,293.3" stroke="#120a80"/><polyline points="401.2,293.3 402.1,294" stroke="#130a7b"/><polyline points="402.1,294 403,294.6" stroke="#140b77"/><polyline points="403,294.6 403.9,295.1" stroke="#140b73"/><polyline points="403.9,295.1 404.8,295.5" stroke="#150b71"/><polyline points="404.8,295.5 405.7,295.9" stroke="#150b6f"/><polyline points="405.7,295.9 406.6,296.3" stroke="#150c6e"/><polyline points="406.6,296.3 407.5,296.6" stroke="#150c6d"/><polyline points="407.5,296.6 408.4,296.9 409.3,297.2" stroke="#150c6c"/><polyline points="409.3,297.2 410.2,297.5 411.2,297.8 412.1,298.1 413,298.4" stroke="#160c6b"/><polyline points="413,298.4 413.9,298.7 414.8,299 415.7,299.3 416.6,299.6 417.5,299.9 418.4,300.2 419.3,300.5" stroke="#160c6a"/><polyline points="419.3,300.5 420.2,300.8 421.1,301.1 422,301.3 422.9,301.6 423.8,301.9" stroke="#160c69"/><polygon points="139.8,228.5 140.7,228.8 141.6,229.1 142.5,229.4 143.4,229.6 144.3,229.9 145.2,230.2 146.1,230.5 147,230.8 147.9,231 148.8,231.3 149.7,231.6 150.6,231.9 151.5,232.1 152.4,232.4 153.3,232.7 154.2,233 155.1,233.2 156,233.5 156.9,233.8 157.8,234.1 158.7,234.4 159.6,234.6 160.5,234.9 161.4,235.2 162.3,235.5 163.2,235.7 164.1,236 165,236.3 165.9,236.6 166.8,236.8 167.7,237.1 168.7,237.4 169.6,237.7 170.5,237.9 171.4,238.2 172.3,238.5 173.2,238.8 174.1,239 175,239.3 175.9,239.6 176.8,239.9 177.7,240.1 178.6,240.4 179.5,240.7 180.4,240.9 181.3,241.2 182.2,241.5 183.1,241.7 184,242 184.9,242.3 185.8,242.5 186.7,242.8 187.6,243 188.5,243.2 189.4,243.5 190.3,243.7 191.2,243.8 192.1,244 193,244 193.9,243.8 194.8,243.2 195.7,241.9 196.6,239.4 197.5,238.9 198.4,241.8 199.4,244.2 200.3,245.5 201.2,246.3 202.1,246.9 203,247.3 203.9,247.7 204.8,248.1 205.7,248.4 206.6,248.7 207.5,249 208.4,249.3 209.3,249.6 210.2,249.9 211.1,250.2 212,250.5 212.9,250.7 213.8,251 214.7,251.3 215.6,251.6 216.5,251.8 217.4,252.1 218.3,252.4 219.2,252.7 220.1,252.9 221,253.2 221.9,253.5 222.8,253.7 223.7,254 224.6,254.3 225.5,254.5 226.4,254.8 227.3,255 228.2,255.3 229.2,255.6 230.1,255.8 231,256.1 231.9,256.3 232.8,256.6 233.7,256.9 234.6,257.1 235.5,257.4 236.4,257.6 237.3,257.9 238.2,258.1 239.1,258.4 240,258.6 240.9,258.9 241.8,259.1 242.7,259.4 243.6,259.6 244.5,259.8 245.4,260.1 246.3,260.3 247.2,260.5 248.1,260.8 249,261 249.9,261.2 250.8,261.4 251.7,261.7 252.6,261.9 253.5,262.1 254.4,262.3 255.3,262.5 256.2,262.7 257.1,262.9 258,263.1 259,263.2 259.9,263.4 260.8,263.6 261.7,263.7 262.6,263.9 263.5,264 264.4,264.1 265.3,264.2 266.2,264.3 267.1,264.4 268,264.5 268.9,264.5 269.8,264.6 270.7,264.6 271.6,264.5 272.5,264.5 273.4,264.4 274.3,264.3 275.2,264.1 276.1,263.9 277,263.7 277.9,263.3 278.8,262.9 279.7,262.5 280.6,261.9 281.5,261.2 282.4,260.4 283.3,259.5 284.2,258.4 285.1,257.1 286,255.6 286.9,253.9 287.8,251.8 288.7,249.3 289.7,246.4 290.6,242.8 291.5,238.4 292.4,232.9 293.3,225.8 294.2,216.7 295.1,206.3 296,196.9 296.9,193.3 297.8,198.3 298.7,209.1 299.6,220.8 300.5,230.9 301.4,238.9 302.3,245.2 303.2,250.2 304.1,254.2 305,257.6 305.9,260.4 306.8,262.8 307.7,264.9 308.6,266.7 309.5,268.3 310.4,269.8 311.3,271.1 312.2,272.3 313.1,273.3 314,274.3 314.9,275.2 315.8,276 316.7,276.8 317.6,277.5 318.5,278.2 319.5,278.9 320.4,279.5 321.3,280 322.2,280.6 323.1,281.1 324,281.6 324.9,282.1 325.8,282.5 326.7,283 327.6,283.4 328.5,283.8 329.4,284.2 330.3,284.6 331.2,285 332.1,285.4 333,285.7 333.9,286.1 334.8,286.4 335.7,286.7 336.6,287 337.5,287.3 338.4,287.6 339.3,287.8 340.2,288.1 341.1,288.3 342,288.4 342.9,288.6 343.8,288.7 344.7,288.7 345.6,288.6 346.5,288.4 347.4,288.1 348.3,287.5 349.2,286.5 350.2,285 351.1,282.5 352,278.9 352.9,273.8 353.8,268.4 354.7,266 355.6,269 356.5,275.1 357.4,280.7 358.3,285 359.2,288 360.1,290.2 361,291.8 361.9,293 362.8,294 363.7,294.8 364.6,295.5 365.5,296.1 366.4,296.6 367.3,297.1 368.2,297.6 369.1,298 370,298.4 370.9,298.8 371.8,299.2 372.7,299.5 373.6,299.9 374.5,300.2 375.4,300.5 376.3,300.9 377.2,301.2 378.1,301.5 379,301.8 380,302.1 380.9,302.4 381.8,302.7 382.7,303 383.6,303.3 384.5,303.6 385.4,303.9 386.3,304.2 387.2,304.5 388.1,304.8 389,305 389.9,305.3 390.8,305.5 391.7,305.7 392.6,305.8 393.5,305.9 394.4,305.9 395.3,305.9 396.2,305.8 397.1,306 398,306.6 398.9,307.3 399.8,307.9 400.7,308.4 401.6,308.8 402.5,309.2 403.4,309.6 404.3,309.9 405.2,310.3 406.1,310.6 407,310.9 407.9,311.2 408.8,311.5 409.8,311.8 410.7,312.1 410.7,313.7 139.8,229.9" fill="#fff" stroke="none"/><polyline points="139.8,228.5 140.7,228.8 141.6,229.1 142.5,229.4 143.4,229.6 144.3,229.9 145.2,230.2 146.1,230.5 147,230.8 147.9,231 148.8,231.3 149.7,231.6 150.6,231.9 151.5,232.1 152.4,232.4 153.3,232.7 154.2,233 155.1,233.2 156,233.5" stroke="#160c67"/><polyline points="156,233.5 156.9,233.8 157.8,234.1 158.7,234.4 159.6,234.6 160.5,234.9 161.4,235.2 162.3,235.5 163.2,235.7 164.1,236 165,236.3 165.9,236.6 166.8,236.8 167.7,237.1 168.7,237.4 169.6,237.7 170.5,237.9 171.4,238.2 172.3,238.5 173.2,238.8 174.1,239 175,239.3 175.9,239.6 176.8,239.9" stroke="#160c68"/><polyline points="176.8,239.9 177.7,240.1 178.6,240.4 179.5,240.7 180.4,240.9 181.3,241.2 182.2,241.5 183.1,241.7 184,242" stroke="#160c69"/><polyline points="184,242 184.9,242.3 185.8,242.5 186.7,242.8 187.6,243" stroke="#160c6a"/><polyline points="187.6,243 188.5,243.2 189.4,243.5" stroke="#160c6b"/><polyline points="189.4,243.5 190.3,243.7" stroke="#160c6c"/><polyline points="190.3,243.7 191.2,243.8" stroke="#150c6d"/><polyline points="191.2,243.8 192.1,244" stroke="#150c6e"/><polyline points="192.1,244 193,244" stroke="#150b6f"/><polyline points="193,244 193.9,243.8" stroke="#150b72"/><polyline points="193.9,243.8 194.8,243.2" stroke="#140b77"/><polyline points="194.8,243.2 195.7,241.9" stroke="#120a80"/><polyline points="195.7,241.9 196.6,239.4" stroke="#100992"/><polyline points="196.6,239.4 197.5,238.9" stroke="#0b06b0"/><polyline points="197.5,238.9 198.4,241.8" stroke="#0a05b9"/><polyline points="198.4,241.8 199.4,244.2" stroke="#0e089c"/><polyline points="199.4,244.2 200.3,245.5" stroke="#120a85"/><polyline points="200.3,245.5 201.2,246.3" stroke="#130b7a"/><polyline points="201.2,246.3 202.1,246.9" stroke="#140b74"/><polyline points="202.1,246.9 203,247.3" stroke="#150b71"/><polyline points="203,247.3 203.9,247.7" stroke="#150b6f"/><polyline points="203.9,247.7 204.8,248.1" stroke="#150c6e"/><polyline points="204.8,248.1 205.7,248.4 206.6,248.7" stroke="#150c6d"/><polyline points="206.6,248.7 207.5,249 208.4,249.3" stroke="#150c6c"/><polyline points="208.4,249.3 209.3,249.6 210.2,249.9 211.1,250.2 212,250.5 212.9,250.7 213.8,251 214.7,251.3 215.6,251.6 216.5,251.8 217.4,252.1" stroke="#160c6c"/><polyline points="217.4,252.1 218.3,252.4 219.2,252.7 220.1,252.9 221,253.2 221.9,253.5 222.8,253.7" stroke="#150c6c"/><polyline points="222.8,253.7 223.7,254 224.6,254.3 225.5,254.5 226.4,254.8 227.3,255 228.2,255.3" stroke="#150c6d"/><polyline points="228.2,255.3 229.2,255.6 230.1,255.8 231,256.1 231.9,256.3 232.8,256.6" stroke="#150c6e"/><polyline points="232.8,256.6 233.7,256.9 234.6,257.1 235.5,257.4 236.4,257.6" stroke="#150b6f"/><polyline points="236.4,257.6 237.3,257.9 238.2,258.1 239.1,258.4" stroke="#150b70"/><polyline points="239.1,258.4 240,258.6 240.9,258.9 241.8,259.1" stroke="#150b71"/><polyline points="241.8,259.1 242.7,259.4 243.6,259.6" stroke="#150b72"/><polyline points="243.6,259.6 244.5,259.8 245.4,260.1 246.3,260.3" stroke="#140b73"/><polyline points="246.3,260.3 247.2,260.5 248.1,260.8" stroke="#140b74"/><polyline points="248.1,260.8 249,261" stroke="#140b75"/><polyline points="249,261 249.9,261.2 250.8,261.4" stroke="#140b76"/><polyline points="250.8,261.4 251.7,261.7 252.6,261.9" stroke="#140b77"/><polyline points="252.6,261.9 253.5,262.1" stroke="#140b78"/><polyline points="253.5,262.1 254.4,262.3" stroke="#140b79"/><polyline points="254.4,262.3 255.3,262.5" stroke="#130b7a"/><polyline points="255.3,262.5 256.2,262.7" stroke="#130a7b"/><polyline points="256.2,262.7 257.1,262.9 258,263.1" stroke="#130a7c"/><polyline points="258,263.1 259,263.2" stroke="#130a7e"/><polyline points="259,263.2 259.9,263.4" stroke="#130a7f"/><polyline points="259.9,263.4 260.8,263.6" stroke="#130a80"/><polyline points="260.8,263.6 261.7,263.7" stroke="#120a81"/><polyline points="261.7,263.7 262.6,263.9" stroke="#120a82"/><polyline points="262.6,263.9 263.5,264" stroke="#120a84"/><polyline points="263.5,264 264.4,264.1" stroke="#120a85"/><polyline points="264.4,264.1 265.3,264.2" stroke="#110987"/><polyline points="265.3,264.2 266.2,264.3" stroke="#110989"/><polyline points="266.2,264.3 267.1,264.4" stroke="#11098b"/><polyline points="267.1,264.4 268,264.5" stroke="#11098d"/><polyline points="268,264.5 268.9,264.5" stroke="#10098f"/><polyline points="268.9,264.5 269.8,264.6" stroke="#100992"/><polyline points="269.8,264.6 270.7,264.6" stroke="#0f0895"/><polyline points="270.7,264.6 271.6,264.5" stroke="#0f0898"/><polyline points="271.6,264.5 272.5,264.5" stroke="#0e089b"/><polyline points="272.5,264.5 273.4,264.4" stroke="#0e089e"/><polyline points="273.4,264.4 274.3,264.3" stroke="#0d07a2"/><polyline points="274.3,264.3 275.2,264.1" stroke="#0d07a7"/><polyline points="275.2,264.1 276.1,263.9" stroke="#0c06ab"/><polyline points="276.1,263.9 277,263.7" stroke="#0b06b1"/><polyline points="277,263.7 277.9,263.3" stroke="#0a05b7"/><polyline points="277.9,263.3 278.8,262.9" stroke="#0905bd"/><polyline points="278.8,262.9 279.7,262.5" stroke="#0804c5"/><polyline points="279.7,262.5 280.6,261.9" stroke="#0704cd"/><polyline points="280.6,261.9 281.5,261.2" stroke="#0603d6"/><polyline points="281.5,261.2 282.4,260.4" stroke="#0402e0"/><polyline points="282.4,260.4 283.3,259.5" stroke="#0201ec"/><polyline points="283.3,259.5 284.2,258.4" stroke="#0000f9"/><polyline points="284.2,258.4 285.1,257.1" stroke="#0007ff"/><polyline points="285.1,257.1 286,255.6" stroke="#0015ff"/><polyline points="286,255.6 286.9,253.9" stroke="#0025ff"/><polyline points="286.9,253.9 287.8,251.8" stroke="#0038ff"/><polyline points="287.8,251.8 288.7,249.3" stroke="#004dff"/><polyline points="288.7,249.3 289.7,246.4" stroke="#0066ff"/><polyline points="289.7,246.4 290.6,242.8" stroke="#0083ff"/><polyline points="290.6,242.8 291.5,238.4" stroke="#00a6ff"/><polyline points="291.5,238.4 292.4,232.9" stroke="#00d0ff"/><polyline points="292.4,232.9 293.3,225.8" stroke="#06fff8"/><polyline points="293.3,225.8 294.2,216.7" stroke="#49ffb5"/><polyline points="294.2,216.7 295.1,206.3" stroke="#9dff61"/><polyline points="295.1,206.3 296,196.9" stroke="#feff00"/><polyline points="296,196.9 296.9,193.3" stroke="#ffa800"/><polyline points="296.9,193.3 297.8,198.3" stroke="#ff8400"/><polyline points="297.8,198.3 298.7,209.1" stroke="#ffb000"/><polyline points="298.7,209.1 299.6,220.8" stroke="#efff0f"/><polyline points="299.6,220.8 300.5,230.9" stroke="#87ff77"/><polyline points="300.5,230.9 301.4,238.9" stroke="#2fffcf"/><polyline points="301.4,238.9 302.3,245.2" stroke="#00e8ff"/><polyline points="302.3,245.2 303.2,250.2" stroke="#00b1ff"/><polyline points="303.2,250.2 304.1,254.2" stroke="#0087ff"/><polyline points="304.1,254.2 305,257.6" stroke="#0065ff"/><polyline points="305,257.6 305.9,260.4" stroke="#0049ff"/><polyline points="305.9,260.4 306.8,262.8" stroke="#0032ff"/><polyline points="306.8,262.8 307.7,264.9" stroke="#001fff"/><polyline points="307.7,264.9 308.6,266.7" stroke="#000eff"/><polyline points="308.6,266.7 309.5,268.3" stroke="#0000ff"/><polyline points="309.5,268.3 310.4,269.8" stroke="#0201f1"/><polyline points="310.4,269.8 311.3,271.1" stroke="#0302e4"/><polyline points="311.3,271.1 312.2,272.3" stroke="#0503d9"/><polyline points="312.2,272.3 313.1,273.3" stroke="#0703d0"/><polyline points="313.1,273.3 314,274.3" stroke="#0804c7"/><polyline points="314,274.3 314.9,275.2" stroke="#0905bf"/><polyline points="314.9,275.2 315.8,276" stroke="#0a05b9"/><polyline points="315.8,276 316.7,276.8" stroke="#0b06b3"/><polyline points="316.7,276.8 317.6,277.5" stroke="#0c06ad"/><polyline points="317.6,277.5 318.5,278.2" stroke="#0c07a8"/><polyline points="318.5,278.2 319.5,278.9" stroke="#0d07a4"/><polyline points="319.5,278.9 320.4,279.5" stroke="#0e07a0"/><polyline points="320.4,279.5 321.3,280" stroke="#0e089d"/><polyline points="321.3,280 322.2,280.6" stroke="#0f0899"/><polyline points="322.2,280.6 323.1,281.1" stroke="#0f0897"/><polyline points="323.1,281.1 324,281.6" stroke="#0f0894"/><polyline points="324,281.6 324.9,282.1" stroke="#100992"/><polyline points="324.9,282.1 325.8,282.5" stroke="#10098f"/><polyline points="325.8,282.5 326.7,283" stroke="#10098d"/><polyline points="326.7,283 327.6,283.4" stroke="#11098c"/><polyline points="327.6,283.4 328.5,283.8" stroke="#11098a"/><polyline points="328.5,283.8 329.4,284.2" stroke="#110989"/><polyline points="329.4,284.2 330.3,284.6" stroke="#110987"/><polyline points="330.3,284.6 331.2,285" stroke="#120a86"/><polyline points="331.2,285 332.1,285.4" stroke="#120a85"/><polyline points="332.1,285.4 333,285.7" stroke="#120a84"/><polyline points="333,285.7 333.9,286.1 334.8,286.4" stroke="#120a83"/><polyline points="334.8,286.4 335.7,286.7 336.6,287" stroke="#120a82"/><polyline points="336.6,287 337.5,287.3 338.4,287.6 339.3,287.8" stroke="#120a81"/><polyline points="339.3,287.8 340.2,288.1 341.1,288.3" stroke="#120a82"/><polyline points="341.1,288.3 342,288.4" stroke="#120a83"/><polyline points="342,288.4 342.9,288.6" stroke="#120a84"/><polyline points="342.9,288.6 343.8,288.7" stroke="#120a85"/><polyline points="343.8,288.7 344.7,288.7" stroke="#110988"/><polyline points="344.7,288.7 345.6,288.6" stroke="#11098a"/><polyline points="345.6,288.6 346.5,288.4" stroke="#10098e"/><polyline points="346.5,288.4 347.4,288.1" stroke="#100893"/><polyline points="347.4,288.1 348.3,287.5" stroke="#0f089a"/><polyline points="348.3,287.5 349.2,286.5" stroke="#0d07a4"/><polyline points="349.2,286.5 350.2,285" stroke="#0b06b1"/><polyline points="350.2,285 351.1,282.5" stroke="#0804c5"/><polyline points="351.1,282.5 352,278.9" stroke="#0402e2"/><polyline points="352,278.9 352.9,273.8" stroke="#000cff"/><polyline points="352.9,273.8 353.8,268.4" stroke="#003cff"/><polyline points="353.8,268.4 354.7,266" stroke="#006fff"/><polyline points="354.7,266 355.6,269" stroke="#0087ff"/><polyline points="355.6,269 356.5,275.1" stroke="#006fff"/><polyline points="356.5,275.1 357.4,280.7" stroke="#003bff"/><polyline points="357.4,280.7 358.3,285" stroke="#000aff"/><polyline points="358.3,285 359.2,288" stroke="#0402e0"/><polyline points="359.2,288 360.1,290.2" stroke="#0905c2"/><polyline points="360.1,290.2 361,291.8" stroke="#0c06ae"/><polyline points="361,291.8 361.9,293" stroke="#0e079f"/><polyline points="361.9,293 362.8,294" stroke="#0f0895"/><polyline points="362.8,294 363.7,294.8" stroke="#10098d"/><polyline points="363.7,294.8 364.6,295.5" stroke="#110988"/><polyline points="364.6,295.5 365.5,296.1" stroke="#120a83"/><polyline points="365.5,296.1 366.4,296.6" stroke="#130a80"/><polyline points="366.4,296.6 367.3,297.1" stroke="#130a7d"/><polyline points="367.3,297.1 368.2,297.6" stroke="#130a7b"/><polyline points="368.2,297.6 369.1,298" stroke="#140b79"/><polyline points="369.1,298 370,298.4" stroke="#140b77"/><polyline points="370,298.4 370.9,298.8" stroke="#140b76"/><polyline points="370.9,298.8 371.8,299.2" stroke="#140b75"/><polyline points="371.8,299.2 372.7,299.5" stroke="#140b74"/><polyline points="372.7,299.5 373.6,299.9" stroke="#140b73"/><polyline points="373.6,299.9 374.5,300.2" stroke="#150b72"/><polyline points="374.5,300.2 375.4,300.5 376.3,300.9" stroke="#150b71"/><polyline points="376.3,300.9 377.2,301.2 378.1,301.5" stroke="#150b70"/><polyline points="378.1,301.5 379,301.8 380,302.1 380.9,302.4" stroke="#150b6f"/><polyline points="380.9,302.4 381.8,302.7 382.7,303 383.6,303.3 384.5,303.6 385.4,303.9 386.3,304.2" stroke="#150c6e"/><polyline points="386.3,304.2 387.2,304.5 388.1,304.8" stroke="#150c6d"/><polyline points="388.1,304.8 389,305 389.9,305.3 390.8,305.5" stroke="#150c6e"/><polyline points="390.8,305.5 391.7,305.7 392.6,305.8" stroke="#150b6f"/><polyline points="392.6,305.8 393.5,305.9" stroke="#150b71"/><polyline points="393.5,305.9 394.4,305.9" stroke="#140b73"/><polyline points="394.4,305.9 395.3,305.9" stroke="#140b76"/><polyline points="395.3,305.9 396.2,305.8" stroke="#130b7a"/><polyline points="396.2,305.8 397.1,306" stroke="#130a7d"/><polyline points="397.1,306 398,306.6" stroke="#130a7e"/><polyline points="398,306.6 398.9,307.3" stroke="#130a7b"/><polyline points="398.9,307.3 399.8,307.9" stroke="#140b77"/><polyline points="399.8,307.9 400.7,308.4" stroke="#140b73"/><polyline points="400.7,308.4 401.6,308.8" stroke="#150b70"/><polyline points="401.6,308.8 402.5,309.2" stroke="#150b6f"/><polyline points="402.5,309.2 403.4,309.6" stroke="#150c6d"/><polyline points="403.4,309.6 404.3,309.9 405.2,310.3" stroke="#150c6c"/><polyline points="405.2,310.3 406.1,310.6 407,310.9 407.9,311.2" stroke="#160c6b"/><polyline points="407.9,311.2 408.8,311.5 409.8,311.8 410.7,312.1" stroke="#160c6a"/><polygon points="126.6,238.8 127.5,239.1 128.4,239.3 129.3,239.6 130.2,239.9 131.1,240.2 132,240.4 132.9,240.7 133.8,241 134.7,241.3 135.6,241.5 136.5,241.8 137.5,242.1 138.4,242.4 139.3,242.7 140.2,242.9 141.1,243.2 142,243.5 142.9,243.8 143.8,244 144.7,244.3 145.6,244.6 146.5,244.9 147.4,245.2 148.3,245.4 149.2,245.7 150.1,246 151,246.3 151.9,246.5 152.8,246.8 153.7,247.1 154.6,247.4 155.5,247.6 156.4,247.9 157.3,248.2 158.2,248.5 159.1,248.7 160,249 160.9,249.3 161.8,249.6 162.7,249.8 163.6,250.1 164.5,250.4 165.4,250.7 166.3,250.9 167.3,251.2 168.2,251.5 169.1,251.7 170,252 170.9,252.3 171.8,252.6 172.7,252.8 173.6,253.1 174.5,253.4 175.4,253.6 176.3,253.9 177.2,254.1 178.1,254.4 179,254.6 179.9,254.9 180.8,255.1 181.7,255.3 182.6,255.6 183.5,255.7 184.4,255.9 185.3,256 186.2,255.9 187.1,255.7 188,255.2 188.9,253.8 189.8,250.8 190.7,246.8 191.6,248.3 192.5,252.9 193.4,255.8 194.3,257.4 195.2,258.4 196.1,259.1 197,259.6 198,260 198.9,260.4 199.8,260.8 200.7,261.1 201.6,261.4 202.5,261.7 203.4,262 204.3,262.3 205.2,262.6 206.1,262.9 207,263.2 207.9,263.4 208.8,263.7 209.7,264 210.6,264.3 211.5,264.5 212.4,264.8 213.3,265.1 214.2,265.3 215.1,265.6 216,265.9 216.9,266.1 217.8,266.4 218.7,266.7 219.6,266.9 220.5,267.2 221.4,267.5 222.3,267.7 223.2,268 224.1,268.2 225,268.5 225.9,268.7 226.8,269 227.8,269.3 228.7,269.5 229.6,269.8 230.5,270 231.4,270.3 232.3,270.5 233.2,270.7 234.1,271 235,271.2 235.9,271.5 236.8,271.7 237.7,271.9 238.6,272.2 239.5,272.4 240.4,272.6 241.3,272.8 242.2,273.1 243.1,273.3 244,273.5 244.9,273.7 245.8,273.9 246.7,274.1 247.6,274.3 248.5,274.5 249.4,274.7 250.3,274.8 251.2,275 252.1,275.2 253,275.3 253.9,275.5 254.8,275.6 255.7,275.7 256.6,275.8 257.6,275.9 258.5,276 259.4,276 260.3,276.1 261.2,276.1 262.1,276.1 263,276 263.9,276 264.8,275.9 265.7,275.7 266.6,275.5 267.5,275.3 268.4,275 269.3,274.7 270.2,274.3 271.1,273.8 272,273.2 272.9,272.5 273.8,271.8 274.7,270.9 275.6,269.9 276.5,268.8 277.4,267.5 278.3,266.2 279.2,264.7 280.1,263.1 281,261.4 281.9,259.7 282.8,258 283.7,256.1 284.6,254.2 285.5,251.9 286.4,249.1 287.3,245.3 288.3,240 289.2,233.1 290.1,225.1 291,219.2 291.9,219.5 292.8,226.9 293.7,237.7 294.6,248 295.5,256.4 296.4,262.9 297.3,267.8 298.2,271.7 299.1,274.8 300,277.3 300.9,279.3 301.8,281.1 302.7,282.6 303.6,283.9 304.5,285.1 305.4,286.1 306.3,287.1 307.2,287.9 308.1,288.7 309,289.5 309.9,290.2 310.8,290.8 311.7,291.4 312.6,292 313.5,292.5 314.4,293 315.3,293.5 316.2,294 317.1,294.5 318.1,294.9 319,295.3 319.9,295.8 320.8,296.2 321.7,296.6 322.6,296.9 323.5,297.3 324.4,297.7 325.3,298 326.2,298.4 327.1,298.7 328,299 328.9,299.4 329.8,299.7 330.7,300 331.6,300.3 332.5,300.5 333.4,300.8 334.3,301.1 335.2,301.3 336.1,301.5 337,301.7 337.9,301.9 338.8,302 339.7,302 340.6,302 341.5,301.9 342.4,301.6 343.3,301.1 344.2,300.2 345.1,298.8 346,296.6 346.9,293.1 347.9,288.5 348.8,284.1 349.7,283.6 350.6,287.6 351.5,293.1 352.4,297.6 353.3,300.8 354.2,303.1 355.1,304.7 356,305.9 356.9,306.9 357.8,307.6 358.7,308.3 359.6,308.9 360.5,309.4 361.4,309.9 362.3,310.3 363.2,310.7 364.1,311.1 365,311.5 365.9,311.8 366.8,312.2 367.7,312.5 368.6,312.8 369.5,313.2 370.4,313.5 371.3,313.8 372.2,314.1 373.1,314.4 374,314.7 374.9,315 375.8,315.3 376.7,315.6 377.6,315.9 378.6,316.2 379.5,316.5 380.4,316.8 381.3,317 382.2,317.3 383.1,317.6 384,317.8 384.9,318.1 385.8,318.3 386.7,318.5 387.6,318.6 388.5,318.7 389.4,318.6 390.3,318.5 391.2,318.6 392.1,318.9 393,319.5 393.9,320.2 394.8,320.8 395.7,321.3 396.6,321.7 397.5,322.1 397.5,323.9 126.6,240.1" fill="#fff" stroke="none"/><polyline points="126.6,238.8 127.5,239.1 128.4,239.3 129.3,239.6 130.2,239.9 131.1,240.2 132,240.4 132.9,240.7 133.8,241 134.7,241.3 135.6,241.5 136.5,241.8 137.5,242.1 138.4,242.4 139.3,242.7 140.2,242.9 141.1,243.2 142,243.5 142.9,243.8 143.8,244 144.7,244.3 145.6,244.6 146.5,244.9 147.4,245.2 148.3,245.4" stroke="#160c67"/><polyline points="148.3,245.4 149.2,245.7 150.1,246 151,246.3 151.9,246.5 152.8,246.8 153.7,247.1 154.6,247.4 155.5,247.6 156.4,247.9 157.3,248.2 158.2,248.5 159.1,248.7 160,249 160.9,249.3 161.8,249.6 162.7,249.8 163.6,250.1 164.5,250.4 165.4,250.7 166.3,250.9 167.3,251.2" stroke="#160c68"/><polyline points="167.3,251.2 168.2,251.5 169.1,251.7 170,252 170.9,252.3 171.8,252.6 172.7,252.8 173.6,253.1 174.5,253.4 175.4,253.6" stroke="#160c69"/><polyline points="175.4,253.6 176.3,253.9 177.2,254.1 178.1,254.4 179,254.6" stroke="#160c6a"/><polyline points="179,254.6 179.9,254.9 180.8,255.1 181.7,255.3" stroke="#160c6b"/><polyline points="181.7,255.3 182.6,255.6" stroke="#150c6c"/><polyline points="182.6,255.6 183.5,255.7" stroke="#150c6d"/><polyline points="183.5,255.7 184.4,255.9" stroke="#150c6e"/><polyline points="184.4,255.9 185.3,256" stroke="#150b6f"/><polyline points="185.3,256 186.2,255.9" stroke="#150b71"/><polyline points="186.2,255.9 187.1,255.7" stroke="#140b75"/><polyline points="187.1,255.7 188,255.2" stroke="#130b7a"/><polyline points="188,255.2 188.9,253.8" stroke="#120a83"/><polyline points="188.9,253.8 189.8,250.8" stroke="#0f0895"/><polyline points="189.8,250.8 190.7,246.8" stroke="#0a05b9"/><polyline points="190.7,246.8 191.6,248.3" stroke="#0301e7"/><polyline points="191.6,248.3 192.5,252.9" stroke="#0503da"/><polyline points="192.5,252.9 193.4,255.8" stroke="#0c06ab"/><polyline points="193.4,255.8 194.3,257.4" stroke="#10098e"/><polyline points="194.3,257.4 195.2,258.4" stroke="#120a80"/><polyline points="195.2,258.4 196.1,259.1" stroke="#140b79"/><polyline points="196.1,259.1 197,259.6" stroke="#140b74"/><polyline points="197,259.6 198,260" stroke="#150b72"/><polyline points="198,260 198.9,260.4" stroke="#150b70"/><polyline points="198.9,260.4 199.8,260.8" stroke="#150b6f"/><polyline points="199.8,260.8 200.7,261.1" stroke="#150c6e"/><polyline points="200.7,261.1 201.6,261.4 202.5,261.7 203.4,262 204.3,262.3" stroke="#150c6d"/><polyline points="204.3,262.3 205.2,262.6 206.1,262.9 207,263.2 207.9,263.4 208.8,263.7 209.7,264 210.6,264.3 211.5,264.5 212.4,264.8" stroke="#150c6c"/><polyline points="212.4,264.8 213.3,265.1 214.2,265.3 215.1,265.6 216,265.9 216.9,266.1 217.8,266.4 218.7,266.7 219.6,266.9" stroke="#150c6d"/><polyline points="219.6,266.9 220.5,267.2 221.4,267.5 222.3,267.7 223.2,268 224.1,268.2" stroke="#150c6e"/><polyline points="224.1,268.2 225,268.5 225.9,268.7 226.8,269 227.8,269.3" stroke="#150b6f"/><polyline points="227.8,269.3 228.7,269.5 229.6,269.8 230.5,270" stroke="#150b70"/><polyline points="230.5,270 231.4,270.3 232.3,270.5 233.2,270.7" stroke="#150b71"/><polyline points="233.2,270.7 234.1,271 235,271.2" stroke="#150b72"/><polyline points="235,271.2 235.9,271.5 236.8,271.7 237.7,271.9" stroke="#140b73"/><polyline points="237.7,271.9 238.6,272.2 239.5,272.4" stroke="#140b74"/><polyline points="239.5,272.4 240.4,272.6" stroke="#140b75"/><polyline points="240.4,272.6 241.3,272.8 242.2,273.1" stroke="#140b76"/><polyline points="242.2,273.1 243.1,273.3" stroke="#140b77"/><polyline points="243.1,273.3 244,273.5 244.9,273.7" stroke="#140b78"/><polyline points="244.9,273.7 245.8,273.9" stroke="#140b79"/><polyline points="245.8,273.9 246.7,274.1" stroke="#130b7a"/><polyline points="246.7,274.1 247.6,274.3" stroke="#130a7b"/><polyline points="247.6,274.3 248.5,274.5" stroke="#130a7c"/><polyline points="248.5,274.5 249.4,274.7" stroke="#130a7d"/><polyline points="249.4,274.7 250.3,274.8" stroke="#130a7e"/><polyline points="250.3,274.8 251.2,275" stroke="#130a7f"/><polyline points="251.2,275 252.1,275.2" stroke="#120a80"/><polyline points="252.1,275.2 253,275.3" stroke="#120a81"/><polyline points="253,275.3 253.9,275.5" stroke="#120a83"/><polyline points="253.9,275.5 254.8,275.6" stroke="#120a84"/><polyline points="254.8,275.6 255.7,275.7" stroke="#120a86"/><polyline points="255.7,275.7 256.6,275.8" stroke="#110988"/><polyline points="256.6,275.8 257.6,275.9" stroke="#11098a"/><polyline points="257.6,275.9 258.5,276" stroke="#11098c"/><polyline points="258.5,276 259.4,276" stroke="#10098e"/><polyline points="259.4,276 260.3,276.1" stroke="#100990"/><polyline points="260.3,276.1 261.2,276.1" stroke="#100893"/><polyline points="261.2,276.1 262.1,276.1" stroke="#0f0896"/><polyline points="262.1,276.1 263,276" stroke="#0f0899"/><polyline points="263,276 263.9,276" stroke="#0e089c"/><polyline points="263.9,276 264.8,275.9" stroke="#0e07a0"/><polyline points="264.8,275.9 265.7,275.7" stroke="#0d07a4"/><polyline points="265.7,275.7 266.6,275.5" stroke="#0c07a9"/><polyline points="266.6,275.5 267.5,275.3" stroke="#0c06ae"/><polyline points="267.5,275.3 268.4,275" stroke="#0b06b3"/><polyline points="268.4,275 269.3,274.7" stroke="#0a05b9"/><polyline points="269.3,274.7 270.2,274.3" stroke="#0905c0"/><polyline points="270.2,274.3 271.1,273.8" stroke="#0804c8"/><polyline points="271.1,273.8 272,273.2" stroke="#0603d0"/><polyline points="272,273.2 272.9,272.5" stroke="#0503d9"/><polyline points="272.9,272.5 273.8,271.8" stroke="#0402e4"/><polyline points="273.8,271.8 274.7,270.9" stroke="#0201ef"/><polyline points="274.7,270.9 275.6,269.9" stroke="#0000fc"/><polyline points="275.6,269.9 276.5,268.8" stroke="#0009ff"/><polyline points="276.5,268.8 277.4,267.5" stroke="#0015ff"/><polyline points="277.4,267.5 278.3,266.2" stroke="#0023ff"/><polyline points="278.3,266.2 279.2,264.7" stroke="#0032ff"/><polyline points="279.2,264.7 280.1,263.1" stroke="#0042ff"/><polyline points="280.1,263.1 281,261.4" stroke="#0053ff"/><polyline points="281,261.4 281.9,259.7" stroke="#0064ff"/><polyline points="281.9,259.7 282.8,258" stroke="#0076ff"/><polyline points="282.8,258 283.7,256.1" stroke="#0089ff"/><polyline points="283.7,256.1 284.6,254.2" stroke="#009cff"/><polyline points="284.6,254.2 285.5,251.9" stroke="#00b0ff"/><polyline points="285.5,251.9 286.4,249.1" stroke="#00c7ff"/><polyline points="286.4,249.1 287.3,245.3" stroke="#00e3ff"/><polyline points="287.3,245.3 288.3,240" stroke="#09fff5"/><polyline points="288.3,240 289.2,233.1" stroke="#3bffc3"/><polyline points="289.2,233.1 290.1,225.1" stroke="#7cff82"/><polyline points="290.1,225.1 291,219.2" stroke="#c7ff37"/><polyline points="291,219.2 291.9,219.5 292.8,226.9" stroke="#fffe00"/><polyline points="292.8,226.9 293.7,237.7" stroke="#beff40"/><polyline points="293.7,237.7 294.6,248" stroke="#5fff9f"/><polyline points="294.6,248 295.5,256.4" stroke="#05fff9"/><polyline points="295.5,256.4 296.4,262.9" stroke="#00baff"/><polyline points="296.4,262.9 297.3,267.8" stroke="#0082ff"/><polyline points="297.3,267.8 298.2,271.7" stroke="#0058ff"/><polyline points="298.2,271.7 299.1,274.8" stroke="#0037ff"/><polyline points="299.1,274.8 300,277.3" stroke="#001eff"/><polyline points="300,277.3 300.9,279.3" stroke="#000aff"/><polyline points="300.9,279.3 301.8,281.1" stroke="#0100f8"/><polyline points="301.8,281.1 302.7,282.6" stroke="#0301e8"/><polyline points="302.7,282.6 303.6,283.9" stroke="#0503da"/><polyline points="303.6,283.9 304.5,285.1" stroke="#0703cf"/><polyline points="304.5,285.1 305.4,286.1" stroke="#0804c5"/><polyline points="305.4,286.1 306.3,287.1" stroke="#0905bd"/><polyline points="306.3,287.1 307.2,287.9" stroke="#0a06b6"/><polyline points="307.2,287.9 308.1,288.7" stroke="#0b06b0"/><polyline points="308.1,288.7 309,289.5" stroke="#0c07aa"/><polyline points="309,289.5 309.9,290.2" stroke="#0d07a5"/><polyline points="309.9,290.2 310.8,290.8" stroke="#0e07a1"/><polyline points="310.8,290.8 311.7,291.4" stroke="#0e089d"/><polyline points="311.7,291.4 312.6,292" stroke="#0f0899"/><polyline points="312.6,292 313.5,292.5" stroke="#0f0896"/><polyline points="313.5,292.5 314.4,293" stroke="#100893"/><polyline points="314.4,293 315.3,293.5" stroke="#100991"/><polyline points="315.3,293.5 316.2,294" stroke="#10098e"/><polyline points="316.2,294 317.1,294.5" stroke="#11098c"/><polyline points="317.1,294.5 318.1,294.9" stroke="#11098a"/><polyline points="318.1,294.9 319,295.3" stroke="#110988"/><polyline points="319,295.3 319.9,295.8" stroke="#110987"/><polyline points="319.9,295.8 320.8,296.2" stroke="#120a85"/><polyline points="320.8,296.2 321.7,296.6" stroke="#120a84"/><polyline points="321.7,296.6 322.6,296.9" stroke="#120a83"/><polyline points="322.6,296.9 323.5,297.3" stroke="#120a82"/><polyline points="323.5,297.3 324.4,297.7" stroke="#120a81"/><polyline points="324.4,297.7 325.3,298" stroke="#130a80"/><polyline points="325.3,298 326.2,298.4" stroke="#130a7f"/><polyline points="326.2,298.4 327.1,298.7" stroke="#130a7e"/><polyline points="327.1,298.7 328,299 328.9,299.4 329.8,299.7" stroke="#130a7d"/><polyline points="329.8,299.7 330.7,300 331.6,300.3 332.5,300.5 333.4,300.8 334.3,301.1 335.2,301.3" stroke="#130a7c"/><polyline points="335.2,301.3 336.1,301.5 337,301.7" stroke="#130a7d"/><polyline points="337,301.7 337.9,301.9" stroke="#130a7e"/><polyline points="337.9,301.9 338.8,302" stroke="#130a80"/><polyline points="338.8,302 339.7,302" stroke="#120a81"/><polyline points="339.7,302 340.6,302" stroke="#120a84"/><polyline points="340.6,302 341.5,301.9" stroke="#110987"/><polyline points="341.5,301.9 342.4,301.6" stroke="#11098b"/><polyline points="342.4,301.6 343.3,301.1" stroke="#100992"/><polyline points="343.3,301.1 344.2,300.2" stroke="#0f089a"/><polyline points="344.2,300.2 345.1,298.8" stroke="#0d07a7"/><polyline points="345.1,298.8 346,296.6" stroke="#0a05b9"/><polyline points="346,296.6 346.9,293.1" stroke="#0603d4"/><polyline points="346.9,293.1 347.9,288.5" stroke="#0000fd"/><polyline points="347.9,288.5 348.8,284.1" stroke="#002bff"/><polyline points="348.8,284.1 349.7,283.6" stroke="#0055ff"/><polyline points="349.7,283.6 350.6,287.6" stroke="#005cff"/><polyline points="350.6,287.6 351.5,293.1" stroke="#003aff"/><polyline points="351.5,293.1 352.4,297.6" stroke="#000bff"/><polyline points="352.4,297.6 353.3,300.8" stroke="#0402de"/><polyline points="353.3,300.8 354.2,303.1" stroke="#0905bf"/><polyline points="354.2,303.1 355.1,304.7" stroke="#0c07a9"/><polyline points="355.1,304.7 356,305.9" stroke="#0e089b"/><polyline points="356,305.9 356.9,306.9" stroke="#100990"/><polyline points="356.9,306.9 357.8,307.6" stroke="#110989"/><polyline points="357.8,307.6 358.7,308.3" stroke="#120a84"/><polyline points="358.7,308.3 359.6,308.9" stroke="#130a80"/><polyline points="359.6,308.9 360.5,309.4" stroke="#130a7c"/><polyline points="360.5,309.4 361.4,309.9" stroke="#130b7a"/><polyline points="361.4,309.9 362.3,310.3" stroke="#140b78"/><polyline points="362.3,310.3 363.2,310.7" stroke="#140b76"/><polyline points="363.2,310.7 364.1,311.1" stroke="#140b75"/><polyline points="364.1,311.1 365,311.5" stroke="#140b74"/><polyline points="365,311.5 365.9,311.8" stroke="#140b73"/><polyline points="365.9,311.8 366.8,312.2" stroke="#150b72"/><polyline points="366.8,312.2 367.7,312.5" stroke="#150b71"/><polyline points="367.7,312.5 368.6,312.8 369.5,313.2" stroke="#150b70"/><polyline points="369.5,313.2 370.4,313.5 371.3,313.8" stroke="#150b6f"/><polyline points="371.3,313.8 372.2,314.1 373.1,314.4 374,314.7" stroke="#150c6e"/><polyline points="374,314.7 374.9,315 375.8,315.3 376.7,315.6 377.6,315.9 378.6,316.2 379.5,316.5" stroke="#150c6d"/><polyline points="379.5,316.5 380.4,316.8 381.3,317 382.2,317.3" stroke="#150c6c"/><polyline points="382.2,317.3 383.1,317.6 384,317.8 384.9,318.1 385.8,318.3" stroke="#150c6d"/><polyline points="385.8,318.3 386.7,318.5" stroke="#150c6e"/><polyline points="386.7,318.5 387.6,318.6" stroke="#150b6f"/><polyline points="387.6,318.6 388.5,318.7" stroke="#150b71"/><polyline points="388.5,318.7 389.4,318.6" stroke="#140b73"/><polyline points="389.4,318.6 390.3,318.5" stroke="#140b76"/><polyline points="390.3,318.5 391.2,318.6" stroke="#130b7a"/><polyline points="391.2,318.6 392.1,318.9 393,319.5" stroke="#130a7d"/><polyline points="393,319.5 393.9,320.2" stroke="#140b79"/><polyline points="393.9,320.2 394.8,320.8" stroke="#140b75"/><polyline points="394.8,320.8 395.7,321.3" stroke="#150b71"/><polyline points="395.7,321.3 396.6,321.7" stroke="#150b6f"/><polyline points="396.6,321.7 397.5,322.1" stroke="#150c6e"/><polygon points="113.5,249 114.4,249.3 115.3,249.6 116.2,249.8 117.1,250.1 118,250.4 118.9,250.7 119.8,251 120.7,251.2 121.6,251.5 122.5,251.8 123.4,252.1 124.3,252.3 125.2,252.6 126.1,252.9 127,253.2 127.9,253.5 128.8,253.7 129.7,254 130.6,254.3 131.5,254.6 132.4,254.8 133.3,255.1 134.2,255.4 135.1,255.7 136.1,255.9 137,256.2 137.9,256.5 138.8,256.8 139.7,257 140.6,257.3 141.5,257.6 142.4,257.9 143.3,258.2 144.2,258.4 145.1,258.7 146,259 146.9,259.3 147.8,259.5 148.7,259.8 149.6,260.1 150.5,260.4 151.4,260.6 152.3,260.9 153.2,261.2 154.1,261.5 155,261.7 155.9,262 156.8,262.3 157.7,262.5 158.6,262.8 159.5,263.1 160.4,263.4 161.3,263.6 162.2,263.9 163.1,264.2 164,264.4 164.9,264.7 165.9,265 166.8,265.2 167.7,265.5 168.6,265.8 169.5,266 170.4,266.3 171.3,266.5 172.2,266.7 173.1,267 174,267.2 174.9,267.4 175.8,267.5 176.7,267.7 177.6,267.7 178.5,267.6 179.4,267.2 180.3,266.4 181.2,264.4 182.1,260.4 183,257.2 183.9,260.9 184.8,265.4 185.7,268 186.6,269.4 187.5,270.3 188.4,271 189.3,271.5 190.2,271.9 191.1,272.3 192,272.6 192.9,273 193.8,273.3 194.7,273.6 195.6,273.9 196.6,274.2 197.5,274.5 198.4,274.7 199.3,275 200.2,275.3 201.1,275.6 202,275.8 202.9,276.1 203.8,276.4 204.7,276.7 205.6,276.9 206.5,277.2 207.4,277.5 208.3,277.7 209.2,278 210.1,278.3 211,278.5 211.9,278.8 212.8,279 213.7,279.3 214.6,279.5 215.5,279.8 216.4,280.1 217.3,280.3 218.2,280.6 219.1,280.8 220,281.1 220.9,281.3 221.8,281.6 222.7,281.8 223.6,282 224.5,282.3 225.4,282.5 226.4,282.8 227.3,283 228.2,283.2 229.1,283.5 230,283.7 230.9,283.9 231.8,284.1 232.7,284.3 233.6,284.5 234.5,284.7 235.4,285 236.3,285.1 237.2,285.3 238.1,285.5 239,285.7 239.9,285.9 240.8,286 241.7,286.2 242.6,286.3 243.5,286.5 244.4,286.6 245.3,286.7 246.2,286.8 247.1,286.9 248,287 248.9,287 249.8,287 250.7,287 251.6,287 252.5,287 253.4,286.9 254.3,286.8 255.2,286.6 256.2,286.4 257.1,286.2 258,285.8 258.9,285.5 259.8,285 260.7,284.5 261.6,283.9 262.5,283.2 263.4,282.4 264.3,281.5 265.2,280.5 266.1,279.4 267,278.2 267.9,277 268.8,275.7 269.7,274.4 270.6,273.2 271.5,272 272.4,271 273.3,270.1 274.2,269.4 275.1,268.7 276,268 276.9,267 277.8,265.4 278.7,262.9 279.6,259 280.5,253.2 281.4,245.4 282.3,237.2 283.2,232.4 284.1,235.1 285,244.3 285.9,255.3 286.9,265.2 287.8,272.9 288.7,278.8 289.6,283.2 290.5,286.6 291.4,289.3 292.3,291.5 293.2,293.4 294.1,294.9 295,296.2 295.9,297.4 296.8,298.4 297.7,299.3 298.6,300.2 299.5,300.9 300.4,301.6 301.3,302.3 302.2,302.9 303.1,303.5 304,304 304.9,304.5 305.8,305 306.7,305.5 307.6,306 308.5,306.4 309.4,306.8 310.3,307.3 311.2,307.7 312.1,308.1 313,308.4 313.9,308.8 314.8,309.2 315.7,309.5 316.7,309.9 317.6,310.2 318.5,310.6 319.4,310.9 320.3,311.2 321.2,311.5 322.1,311.8 323,312.1 323.9,312.4 324.8,312.7 325.7,313 326.6,313.3 327.5,313.5 328.4,313.7 329.3,313.9 330.2,314.1 331.1,314.2 332,314.3 332.9,314.4 333.8,314.3 334.7,314.1 335.6,313.6 336.5,312.9 337.4,311.6 338.3,309.4 339.2,306.1 340.1,301.8 341,298.7 341.9,299.8 342.8,304.3 343.7,309 344.6,312.5 345.5,314.9 346.5,316.6 347.4,317.8 348.3,318.8 349.2,319.5 350.1,320.2 351,320.7 351.9,321.2 352.8,321.7 353.7,322.1 354.6,322.5 355.5,322.9 356.4,323.2 357.3,323.6 358.2,323.9 359.1,324.2 360,324.6 360.9,324.9 361.8,325.2 362.7,325.5 363.6,325.8 364.5,326.1 365.4,326.4 366.3,326.7 367.2,327 368.1,327.3 369,327.6 369.9,327.9 370.8,328.2 371.7,328.5 372.6,328.7 373.5,329 374.4,329.3 375.3,329.6 376.2,329.8 377.2,330 378.1,330.3 379,330.5 379.9,330.6 380.8,330.7 381.7,330.6 382.6,330.6 383.5,330.7 384.4,331.2 384.4,334.1 113.5,250.3" fill="#fff" stroke="none"/><polyline points="113.5,249 114.4,249.3 115.3,249.6 116.2,249.8 117.1,250.1 118,250.4 118.9,250.7 119.8,251 120.7,251.2 121.6,251.5 122.5,251.8 123.4,252.1 124.3,252.3 125.2,252.6 126.1,252.9 127,253.2 127.9,253.5 128.8,253.7 129.7,254 130.6,254.3 131.5,254.6 132.4,254.8 133.3,255.1 134.2,255.4 135.1,255.7 136.1,255.9 137,256.2 137.9,256.5" stroke="#160c67"/><polyline points="137.9,256.5 138.8,256.8 139.7,257 140.6,257.3 141.5,257.6 142.4,257.9 143.3,258.2 144.2,258.4 145.1,258.7 146,259 146.9,259.3 147.8,259.5 148.7,259.8 149.6,260.1 150.5,260.4 151.4,260.6 152.3,260.9 153.2,261.2 154.1,261.5 155,261.7 155.9,262 156.8,262.3 157.7,262.5" stroke="#160c68"/><polyline points="157.7,262.5 158.6,262.8 159.5,263.1 160.4,263.4 161.3,263.6 162.2,263.9 163.1,264.2 164,264.4 164.9,264.7 165.9,265 166.8,265.2" stroke="#160c69"/><polyline points="166.8,265.2 167.7,265.5 168.6,265.8 169.5,266 170.4,266.3" stroke="#160c6a"/><polyline points="170.4,266.3 171.3,266.5 172.2,266.7 173.1,267" stroke="#160c6b"/><polyline points="173.1,267 174,267.2" stroke="#150c6c"/><polyline points="174,267.2 174.9,267.4" stroke="#150c6d"/><polyline points="174.9,267.4 175.8,267.5" stroke="#150c6e"/><polyline points="175.8,267.5 176.7,267.7" stroke="#150b6f"/><polyline points="176.7,267.7 177.6,267.7" stroke="#150b71"/><polyline points="177.6,267.7 178.5,267.6" stroke="#140b73"/><polyline points="178.5,267.6 179.4,267.2" stroke="#140b77"/><polyline points="179.4,267.2 180.3,266.4" stroke="#130a7e"/><polyline points="180.3,266.4 181.2,264.4" stroke="#11098b"/><polyline points="181.2,264.4 182.1,260.4" stroke="#0d07a4"/><polyline points="182.1,260.4 183,257.2" stroke="#0603d2"/><polyline points="183,257.2 183.9,260.9" stroke="#0000f8"/><polyline points="183.9,260.9 184.8,265.4" stroke="#0603d2"/><polyline points="184.8,265.4 185.7,268" stroke="#0d07a4"/><polyline points="185.7,268 186.6,269.4" stroke="#11098b"/><polyline points="186.6,269.4 187.5,270.3" stroke="#130a7f"/><polyline points="187.5,270.3 188.4,271" stroke="#140b78"/><polyline points="188.4,271 189.3,271.5" stroke="#140b74"/><polyline points="189.3,271.5 190.2,271.9" stroke="#150b72"/><polyline points="190.2,271.9 191.1,272.3" stroke="#150b70"/><polyline points="191.1,272.3 192,272.6" stroke="#150b6f"/><polyline points="192,272.6 192.9,273 193.8,273.3" stroke="#150c6e"/><polyline points="193.8,273.3 194.7,273.6 195.6,273.9 196.6,274.2 197.5,274.5 198.4,274.7 199.3,275 200.2,275.3 201.1,275.6 202,275.8 202.9,276.1 203.8,276.4 204.7,276.7 205.6,276.9 206.5,277.2 207.4,277.5 208.3,277.7" stroke="#150c6d"/><polyline points="208.3,277.7 209.2,278 210.1,278.3 211,278.5 211.9,278.8 212.8,279" stroke="#150c6e"/><polyline points="212.8,279 213.7,279.3 214.6,279.5 215.5,279.8 216.4,280.1" stroke="#150b6f"/><polyline points="216.4,280.1 217.3,280.3 218.2,280.6 219.1,280.8 220,281.1" stroke="#150b70"/><polyline points="220,281.1 220.9,281.3 221.8,281.6 222.7,281.8" stroke="#150b71"/><polyline points="222.7,281.8 223.6,282 224.5,282.3" stroke="#150b72"/><polyline points="224.5,282.3 225.4,282.5 226.4,282.8" stroke="#140b73"/><polyline points="226.4,282.8 227.3,283 228.2,283.2" stroke="#140b74"/><polyline points="228.2,283.2 229.1,283.5 230,283.7" stroke="#140b75"/><polyline points="230,283.7 230.9,283.9 231.8,284.1" stroke="#140b76"/><polyline points="231.8,284.1 232.7,284.3" stroke="#140b77"/><polyline points="232.7,284.3 233.6,284.5 234.5,284.7" stroke="#140b78"/><polyline points="234.5,284.7 235.4,285" stroke="#130b79"/><polyline points="235.4,285 236.3,285.1" stroke="#130b7a"/><polyline points="236.3,285.1 237.2,285.3" stroke="#130a7b"/><polyline points="237.2,285.3 238.1,285.5" stroke="#130a7c"/><polyline points="238.1,285.5 239,285.7" stroke="#130a7d"/><polyline points="239,285.7 239.9,285.9" stroke="#130a7e"/><polyline points="239.9,285.9 240.8,286" stroke="#130a7f"/><polyline points="240.8,286 241.7,286.2" stroke="#120a80"/><polyline points="241.7,286.2 242.6,286.3" stroke="#120a82"/><polyline points="242.6,286.3 243.5,286.5" stroke="#120a83"/><polyline points="243.5,286.5 244.4,286.6" stroke="#120a85"/><polyline points="244.4,286.6 245.3,286.7" stroke="#110987"/><polyline points="245.3,286.7 246.2,286.8" stroke="#110988"/><polyline points="246.2,286.8 247.1,286.9" stroke="#11098a"/><polyline points="247.1,286.9 248,287" stroke="#11098c"/><polyline points="248,287 248.9,287" stroke="#10098f"/><polyline points="248.9,287 249.8,287" stroke="#100991"/><polyline points="249.8,287 250.7,287" stroke="#0f0894"/><polyline points="250.7,287 251.6,287" stroke="#0f0897"/><polyline points="251.6,287 252.5,287" stroke="#0f089a"/><polyline points="252.5,287 253.4,286.9" stroke="#0e089e"/><polyline points="253.4,286.9 254.3,286.8" stroke="#0d07a2"/><polyline points="254.3,286.8 255.2,286.6" stroke="#0d07a6"/><polyline points="255.2,286.6 256.2,286.4" stroke="#0c06ab"/><polyline points="256.2,286.4 257.1,286.2" stroke="#0b06b0"/><polyline points="257.1,286.2 258,285.8" stroke="#0a06b6"/><polyline points="258,285.8 258.9,285.5" stroke="#0905bc"/><polyline points="258.9,285.5 259.8,285" stroke="#0804c3"/><polyline points="259.8,285 260.7,284.5" stroke="#0704cb"/><polyline points="260.7,284.5 261.6,283.9" stroke="#0603d4"/><polyline points="261.6,283.9 262.5,283.2" stroke="#0402dd"/><polyline points="262.5,283.2 263.4,282.4" stroke="#0301e8"/><polyline points="263.4,282.4 264.3,281.5" stroke="#0100f4"/><polyline points="264.3,281.5 265.2,280.5" stroke="#0001ff"/><polyline points="265.2,280.5 266.1,279.4" stroke="#000dff"/><polyline points="266.1,279.4 267,278.2" stroke="#0019ff"/><polyline points="267,278.2 267.9,277" stroke="#0026ff"/><polyline points="267.9,277 268.8,275.7" stroke="#0034ff"/><polyline points="268.8,275.7 269.7,274.4" stroke="#0042ff"/><polyline points="269.7,274.4 270.6,273.2" stroke="#0050ff"/><polyline points="270.6,273.2 271.5,272" stroke="#005eff"/><polyline points="271.5,272 272.4,271" stroke="#006bff"/><polyline points="272.4,271 273.3,270.1" stroke="#0077ff"/><polyline points="273.3,270.1 274.2,269.4" stroke="#0081ff"/><polyline points="274.2,269.4 275.1,268.7" stroke="#008aff"/><polyline points="275.1,268.7 276,268" stroke="#0093ff"/><polyline points="276,268 276.9,267" stroke="#009cff"/><polyline points="276.9,267 277.8,265.4" stroke="#00a8ff"/><polyline points="277.8,265.4 278.7,262.9" stroke="#00b8ff"/><polyline points="278.7,262.9 279.6,259" stroke="#00d1ff"/><polyline points="279.6,259 280.5,253.2" stroke="#00f7ff"/><polyline points="280.5,253.2 281.4,245.4" stroke="#2fffcf"/><polyline points="281.4,245.4 282.3,237.2" stroke="#78ff86"/><polyline points="282.3,237.2 283.2,232.4" stroke="#c5ff39"/><polyline points="283.2,232.4 284.1,235.1" stroke="#f3ff0b"/><polyline points="284.1,235.1 285,244.3" stroke="#ddff21"/><polyline points="285,244.3 285.9,255.3" stroke="#8dff71"/><polyline points="285.9,255.3 286.9,265.2" stroke="#2bffd3"/><polyline points="286.9,265.2 287.8,272.9" stroke="#00d4ff"/><polyline points="287.8,272.9 288.7,278.8" stroke="#0091ff"/><polyline points="288.7,278.8 289.6,283.2" stroke="#005eff"/><polyline points="289.6,283.2 290.5,286.6" stroke="#0039ff"/><polyline points="290.5,286.6 291.4,289.3" stroke="#001cff"/><polyline points="291.4,289.3 292.3,291.5" stroke="#0006ff"/><polyline points="292.3,291.5 293.2,293.4" stroke="#0101f1"/><polyline points="293.2,293.4 294.1,294.9" stroke="#0402e1"/><polyline points="294.1,294.9 295,296.2" stroke="#0603d3"/><polyline points="295,296.2 295.9,297.4" stroke="#0804c8"/><polyline points="295.9,297.4 296.8,298.4" stroke="#0905be"/><polyline points="296.8,298.4 297.7,299.3" stroke="#0a06b6"/><polyline points="297.7,299.3 298.6,300.2" stroke="#0b06af"/><polyline points="298.6,300.2 299.5,300.9" stroke="#0c07a9"/><polyline points="299.5,300.9 300.4,301.6" stroke="#0d07a4"/><polyline points="300.4,301.6 301.3,302.3" stroke="#0e079f"/><polyline points="301.3,302.3 302.2,302.9" stroke="#0e089b"/><polyline points="302.2,302.9 303.1,303.5" stroke="#0f0898"/><polyline points="303.1,303.5 304,304" stroke="#0f0894"/><polyline points="304,304 304.9,304.5" stroke="#100992"/><polyline points="304.9,304.5 305.8,305" stroke="#10098f"/><polyline points="305.8,305 306.7,305.5" stroke="#11098d"/><polyline points="306.7,305.5 307.6,306" stroke="#11098a"/><polyline points="307.6,306 308.5,306.4" stroke="#110988"/><polyline points="308.5,306.4 309.4,306.8" stroke="#110987"/><polyline points="309.4,306.8 310.3,307.3" stroke="#120a85"/><polyline points="310.3,307.3 311.2,307.7" stroke="#120a84"/><polyline points="311.2,307.7 312.1,308.1" stroke="#120a82"/><polyline points="312.1,308.1 313,308.4" stroke="#120a81"/><polyline points="313,308.4 313.9,308.8" stroke="#120a80"/><polyline points="313.9,308.8 314.8,309.2" stroke="#130a7f"/><polyline points="314.8,309.2 315.7,309.5" stroke="#130a7e"/><polyline points="315.7,309.5 316.7,309.9" stroke="#130a7d"/><polyline points="316.7,309.9 317.6,310.2 318.5,310.6" stroke="#130a7c"/><polyline points="318.5,310.6 319.4,310.9" stroke="#130a7b"/><polyline points="319.4,310.9 320.3,311.2 321.2,311.5 322.1,311.8" stroke="#130b7a"/><polyline points="322.1,311.8 323,312.1" stroke="#130b79"/><polyline points="323,312.1 323.9,312.4 324.8,312.7 325.7,313 326.6,313.3 327.5,313.5" stroke="#140b79"/><polyline points="327.5,313.5 328.4,313.7" stroke="#130b79"/><polyline points="328.4,313.7 329.3,313.9" stroke="#130b7a"/><polyline points="329.3,313.9 330.2,314.1" stroke="#130a7b"/><polyline points="330.2,314.1 331.1,314.2" stroke="#130a7c"/><polyline points="331.1,314.2 332,314.3" stroke="#130a7d"/><polyline points="332,314.3 332.9,314.4" stroke="#130a80"/><polyline points="332.9,314.4 333.8,314.3" stroke="#120a82"/><polyline points="333.8,314.3 334.7,314.1" stroke="#120a86"/><polyline points="334.7,314.1 335.6,313.6" stroke="#11098c"/><polyline points="335.6,313.6 336.5,312.9" stroke="#100893"/><polyline points="336.5,312.9 337.4,311.6" stroke="#0e079f"/><polyline points="337.4,311.6 338.3,309.4" stroke="#0b06b0"/><polyline points="338.3,309.4 339.2,306.1" stroke="#0704ca"/><polyline points="339.2,306.1 340.1,301.8" stroke="#0201f1"/><polyline points="340.1,301.8 341,298.7" stroke="#001dff"/><polyline points="341,298.7 341.9,299.8" stroke="#003dff"/><polyline points="341.9,299.8 342.8,304.3" stroke="#0035ff"/><polyline points="342.8,304.3 343.7,309" stroke="#000fff"/><polyline points="343.7,309 344.6,312.5" stroke="#0402e1"/><polyline points="344.6,312.5 345.5,314.9" stroke="#0905be"/><polyline points="345.5,314.9 346.5,316.6" stroke="#0d07a7"/><polyline points="346.5,316.6 347.4,317.8" stroke="#0f0898"/><polyline points="347.4,317.8 348.3,318.8" stroke="#10098e"/><polyline points="348.3,318.8 349.2,319.5" stroke="#120a86"/><polyline points="349.2,319.5 350.1,320.2" stroke="#120a81"/><polyline points="350.1,320.2 351,320.7" stroke="#130a7d"/><polyline points="351,320.7 351.9,321.2" stroke="#130b7a"/><polyline points="351.9,321.2 352.8,321.7" stroke="#140b78"/><polyline points="352.8,321.7 353.7,322.1" stroke="#140b76"/><polyline points="353.7,322.1 354.6,322.5" stroke="#140b74"/><polyline points="354.6,322.5 355.5,322.9" stroke="#140b73"/><polyline points="355.5,322.9 356.4,323.2" stroke="#150b72"/><polyline points="356.4,323.2 357.3,323.6" stroke="#150b71"/><polyline points="357.3,323.6 358.2,323.9 359.1,324.2" stroke="#150b70"/><polyline points="359.1,324.2 360,324.6 360.9,324.9" stroke="#150b6f"/><polyline points="360.9,324.9 361.8,325.2 362.7,325.5" stroke="#150c6e"/><polyline points="362.7,325.5 363.6,325.8 364.5,326.1 365.4,326.4 366.3,326.7" stroke="#150c6d"/><polyline points="366.3,326.7 367.2,327 368.1,327.3 369,327.6 369.9,327.9" stroke="#150c6c"/><polyline points="369.9,327.9 370.8,328.2 371.7,328.5 372.6,328.7 373.5,329 374.4,329.3 375.3,329.6" stroke="#160c6c"/><polyline points="375.3,329.6 376.2,329.8 377.2,330" stroke="#150c6c"/><polyline points="377.2,330 378.1,330.3 379,330.5" stroke="#150c6d"/><polyline points="379,330.5 379.9,330.6" stroke="#150c6e"/><polyline points="379.9,330.6 380.8,330.7" stroke="#150b70"/><polyline points="380.8,330.7 381.7,330.6" stroke="#150b72"/><polyline points="381.7,330.6 382.6,330.6" stroke="#140b75"/><polyline points="382.6,330.6 383.5,330.7" stroke="#140b79"/><polyline points="383.5,330.7 384.4,331.2" stroke="#130b7a"/><polygon points="100.3,259.2 101.2,259.5 102.1,259.8 103,260.1 104,260.4 104.9,260.6 105.8,260.9 106.7,261.2 107.6,261.5 108.5,261.7 109.4,262 110.3,262.3 111.2,262.6 112.1,262.9 113,263.1 113.9,263.4 114.8,263.7 115.7,264 116.6,264.2 117.5,264.5 118.4,264.8 119.3,265.1 120.2,265.3 121.1,265.6 122,265.9 122.9,266.2 123.8,266.5 124.7,266.7 125.6,267 126.5,267.3 127.4,267.6 128.3,267.8 129.2,268.1 130.1,268.4 131,268.7 131.9,268.9 132.8,269.2 133.7,269.5 134.7,269.8 135.6,270 136.5,270.3 137.4,270.6 138.3,270.9 139.2,271.1 140.1,271.4 141,271.7 141.9,272 142.8,272.2 143.7,272.5 144.6,272.8 145.5,273.1 146.4,273.3 147.3,273.6 148.2,273.9 149.1,274.1 150,274.4 150.9,274.7 151.8,275 152.7,275.2 153.6,275.5 154.5,275.8 155.4,276 156.3,276.3 157.2,276.5 158.1,276.8 159,277 159.9,277.3 160.8,277.5 161.7,277.8 162.6,278 163.5,278.2 164.5,278.3 165.4,278.5 166.3,278.6 167.2,278.5 168.1,278.3 169,277.8 169.9,276.7 170.8,274.1 171.7,269 172.6,264.9 173.5,269.5 174.4,275.2 175.3,278.3 176.2,280 177.1,281.1 178,281.8 178.9,282.4 179.8,282.8 180.7,283.2 181.6,283.6 182.5,284 183.4,284.3 184.3,284.6 185.2,284.9 186.1,285.2 187,285.5 187.9,285.8 188.8,286.1 189.7,286.3 190.6,286.6 191.5,286.9 192.4,287.2 193.3,287.4 194.3,287.7 195.2,288 196.1,288.2 197,288.5 197.9,288.8 198.8,289 199.7,289.3 200.6,289.6 201.5,289.8 202.4,290.1 203.3,290.3 204.2,290.6 205.1,290.8 206,291.1 206.9,291.4 207.8,291.6 208.7,291.9 209.6,292.1 210.5,292.3 211.4,292.6 212.3,292.8 213.2,293.1 214.1,293.3 215,293.5 215.9,293.8 216.8,294 217.7,294.2 218.6,294.5 219.5,294.7 220.4,294.9 221.3,295.1 222.2,295.3 223.1,295.5 224,295.7 225,295.9 225.9,296.1 226.8,296.3 227.7,296.5 228.6,296.6 229.5,296.8 230.4,297 231.3,297.1 232.2,297.2 233.1,297.3 234,297.5 234.9,297.5 235.8,297.6 236.7,297.7 237.6,297.7 238.5,297.7 239.4,297.7 240.3,297.7 241.2,297.6 242.1,297.5 243,297.4 243.9,297.2 244.8,297 245.7,296.7 246.6,296.3 247.5,295.9 248.4,295.5 249.3,294.9 250.2,294.3 251.1,293.5 252,292.7 252.9,291.8 253.8,290.7 254.8,289.7 255.7,288.5 256.6,287.3 257.5,286.2 258.4,285.1 259.3,284.1 260.2,283.4 261.1,282.8 262,282.4 262.9,282.2 263.8,282.2 264.7,282.1 265.6,281.9 266.5,281.3 267.4,280.1 268.3,277.8 269.2,274.2 270.1,268.6 271,261.2 271.9,253.2 272.8,248.6 273.7,251.1 274.6,259.6 275.5,270 276.4,279.3 277.3,286.5 278.2,292 279.1,296.1 280,299.3 280.9,301.8 281.8,303.9 282.7,305.5 283.6,307 284.6,308.2 285.5,309.3 286.4,310.2 287.3,311.1 288.2,311.8 289.1,312.5 290,313.2 290.9,313.8 291.8,314.4 292.7,314.9 293.6,315.5 294.5,316 295.4,316.4 296.3,316.9 297.2,317.3 298.1,317.8 299,318.2 299.9,318.6 300.8,319 301.7,319.3 302.6,319.7 303.5,320.1 304.4,320.4 305.3,320.8 306.2,321.1 307.1,321.5 308,321.8 308.9,322.1 309.8,322.4 310.7,322.7 311.6,323.1 312.5,323.4 313.4,323.6 314.3,323.9 315.3,324.2 316.2,324.5 317.1,324.7 318,324.9 318.9,325.1 319.8,325.3 320.7,325.5 321.6,325.6 322.5,325.6 323.4,325.6 324.3,325.4 325.2,325 326.1,324.2 327,323 327.9,320.9 328.8,317.5 329.7,313 330.6,309.4 331.5,310.6 332.4,315.6 333.3,320.4 334.2,323.9 335.1,326.3 336,327.9 336.9,329.1 337.8,330 338.7,330.8 339.6,331.4 340.5,331.9 341.4,332.4 342.3,332.8 343.2,333.2 344.1,333.6 345.1,334 346,334.4 346.9,334.7 347.8,335 348.7,335.4 349.6,335.7 350.5,336 351.4,336.3 352.3,336.6 353.2,336.9 354.1,337.2 355,337.5 355.9,337.8 356.8,338.1 357.7,338.4 358.6,338.7 359.5,339 360.4,339.3 361.3,339.6 362.2,339.8 363.1,340.1 364,340.4 364.9,340.6 365.8,340.9 366.7,341.1 367.6,341.4 368.5,341.5 369.4,341.7 370.3,341.8 371.2,341.7 371.2,344.4 100.3,260.6" fill="#fff" stroke="none"/><polyline points="100.3,259.2 101.2,259.5 102.1,259.8 103,260.1 104,260.4 104.9,260.6 105.8,260.9 106.7,261.2 107.6,261.5 108.5,261.7 109.4,262 110.3,262.3 111.2,262.6 112.1,262.9 113,263.1 113.9,263.4 114.8,263.7 115.7,264 116.6,264.2 117.5,264.5 118.4,264.8 119.3,265.1 120.2,265.3 121.1,265.6 122,265.9 122.9,266.2 123.8,266.5 124.7,266.7 125.6,267 126.5,267.3 127.4,267.6" stroke="#160c67"/><polyline points="127.4,267.6 128.3,267.8 129.2,268.1 130.1,268.4 131,268.7 131.9,268.9 132.8,269.2 133.7,269.5 134.7,269.8 135.6,270 136.5,270.3 137.4,270.6 138.3,270.9 139.2,271.1 140.1,271.4 141,271.7 141.9,272 142.8,272.2 143.7,272.5 144.6,272.8 145.5,273.1 146.4,273.3" stroke="#160c68"/><polyline points="146.4,273.3 147.3,273.6 148.2,273.9 149.1,274.1 150,274.4 150.9,274.7 151.8,275 152.7,275.2 153.6,275.5 154.5,275.8" stroke="#160c69"/><polyline points="154.5,275.8 155.4,276 156.3,276.3 157.2,276.5 158.1,276.8 159,277" stroke="#160c6a"/><polyline points="159,277 159.9,277.3 160.8,277.5" stroke="#160c6b"/><polyline points="160.8,277.5 161.7,277.8" stroke="#160c6c"/><polyline points="161.7,277.8 162.6,278" stroke="#150c6c"/><polyline points="162.6,278 163.5,278.2" stroke="#150c6d"/><polyline points="163.5,278.2 164.5,278.3" stroke="#150c6e"/><polyline points="164.5,278.3 165.4,278.5" stroke="#150b6f"/><polyline points="165.4,278.5 166.3,278.6" stroke="#150b70"/><polyline points="166.3,278.6 167.2,278.5" stroke="#140b73"/><polyline points="167.2,278.5 168.1,278.3" stroke="#140b76"/><polyline points="168.1,278.3 169,277.8" stroke="#130a7b"/><polyline points="169,277.8 169.9,276.7" stroke="#120a84"/><polyline points="169.9,276.7 170.8,274.1" stroke="#100893"/><polyline points="170.8,274.1 171.7,269" stroke="#0b06b2"/><polyline points="171.7,269 172.6,264.9" stroke="#0201ed"/><polyline points="172.6,264.9 173.5,269.5" stroke="#0018ff"/><polyline points="173.5,269.5 174.4,275.2" stroke="#0201ed"/><polyline points="174.4,275.2 175.3,278.3" stroke="#0b06b3"/><polyline points="175.3,278.3 176.2,280" stroke="#0f0894"/><polyline points="176.2,280 177.1,281.1" stroke="#120a84"/><polyline points="177.1,281.1 178,281.8" stroke="#130a7c"/><polyline points="178,281.8 178.9,282.4" stroke="#140b77"/><polyline points="178.9,282.4 179.8,282.8" stroke="#140b74"/><polyline points="179.8,282.8 180.7,283.2" stroke="#150b72"/><polyline points="180.7,283.2 181.6,283.6" stroke="#150b70"/><polyline points="181.6,283.6 182.5,284 183.4,284.3" stroke="#150b6f"/><polyline points="183.4,284.3 184.3,284.6 185.2,284.9" stroke="#150c6e"/><polyline points="185.2,284.9 186.1,285.2 187,285.5 187.9,285.8 188.8,286.1 189.7,286.3 190.6,286.6 191.5,286.9 192.4,287.2 193.3,287.4 194.3,287.7 195.2,288 196.1,288.2" stroke="#150c6d"/><polyline points="196.1,288.2 197,288.5 197.9,288.8 198.8,289 199.7,289.3 200.6,289.6 201.5,289.8" stroke="#150c6e"/><polyline points="201.5,289.8 202.4,290.1 203.3,290.3 204.2,290.6 205.1,290.8" stroke="#150b6f"/><polyline points="205.1,290.8 206,291.1 206.9,291.4 207.8,291.6 208.7,291.9" stroke="#150b70"/><polyline points="208.7,291.9 209.6,292.1 210.5,292.3 211.4,292.6" stroke="#150b71"/><polyline points="211.4,292.6 212.3,292.8 213.2,293.1" stroke="#150b72"/><polyline points="213.2,293.1 214.1,293.3 215,293.5" stroke="#140b73"/><polyline points="215,293.5 215.9,293.8 216.8,294" stroke="#140b74"/><polyline points="216.8,294 217.7,294.2 218.6,294.5" stroke="#140b75"/><polyline points="218.6,294.5 219.5,294.7 220.4,294.9" stroke="#140b76"/><polyline points="220.4,294.9 221.3,295.1" stroke="#140b77"/><polyline points="221.3,295.1 222.2,295.3" stroke="#140b78"/><polyline points="222.2,295.3 223.1,295.5" stroke="#140b79"/><polyline points="223.1,295.5 224,295.7" stroke="#130b79"/><polyline points="224,295.7 225,295.9" stroke="#130b7a"/><polyline points="225,295.9 225.9,296.1" stroke="#130a7b"/><polyline points="225.9,296.1 226.8,296.3" stroke="#130a7c"/><polyline points="226.8,296.3 227.7,296.5" stroke="#130a7d"/><polyline points="227.7,296.5 228.6,296.6" stroke="#130a7e"/><polyline points="228.6,296.6 229.5,296.8" stroke="#130a7f"/><polyline points="229.5,296.8 230.4,297" stroke="#120a81"/><polyline points="230.4,297 231.3,297.1" stroke="#120a82"/><polyline points="231.3,297.1 232.2,297.2" stroke="#120a84"/><polyline points="232.2,297.2 233.1,297.3" stroke="#120a85"/><polyline points="233.1,297.3 234,297.5" stroke="#110987"/><polyline points="234,297.5 234.9,297.5" stroke="#110989"/><polyline points="234.9,297.5 235.8,297.6" stroke="#11098b"/><polyline points="235.8,297.6 236.7,297.7" stroke="#11098d"/><polyline points="236.7,297.7 237.6,297.7" stroke="#10098f"/><polyline points="237.6,297.7 238.5,297.7" stroke="#100992"/><polyline points="238.5,297.7 239.4,297.7" stroke="#0f0895"/><polyline points="239.4,297.7 240.3,297.7" stroke="#0f0898"/><polyline points="240.3,297.7 241.2,297.6" stroke="#0e089c"/><polyline points="241.2,297.6 242.1,297.5" stroke="#0e079f"/><polyline points="242.1,297.5 243,297.4" stroke="#0d07a3"/><polyline points="243,297.4 243.9,297.2" stroke="#0c07a8"/><polyline points="243.9,297.2 244.8,297" stroke="#0c06ad"/><polyline points="244.8,297 245.7,296.7" stroke="#0b06b2"/><polyline points="245.7,296.7 246.6,296.3" stroke="#0a05b9"/><polyline points="246.6,296.3 247.5,295.9" stroke="#0905bf"/><polyline points="247.5,295.9 248.4,295.5" stroke="#0804c7"/><polyline points="248.4,295.5 249.3,294.9" stroke="#0703cf"/><polyline points="249.3,294.9 250.2,294.3" stroke="#0503d8"/><polyline points="250.2,294.3 251.1,293.5" stroke="#0402e2"/><polyline points="251.1,293.5 252,292.7" stroke="#0201ed"/><polyline points="252,292.7 252.9,291.8" stroke="#0000f9"/><polyline points="252.9,291.8 253.8,290.7" stroke="#0006ff"/><polyline points="253.8,290.7 254.8,289.7" stroke="#0012ff"/><polyline points="254.8,289.7 255.7,288.5" stroke="#001eff"/><polyline points="255.7,288.5 256.6,287.3" stroke="#002bff"/><polyline points="256.6,287.3 257.5,286.2" stroke="#0038ff"/><polyline points="257.5,286.2 258.4,285.1" stroke="#0045ff"/><polyline points="258.4,285.1 259.3,284.1" stroke="#0051ff"/><polyline points="259.3,284.1 260.2,283.4" stroke="#005cff"/><polyline points="260.2,283.4 261.1,282.8" stroke="#0066ff"/><polyline points="261.1,282.8 262,282.4" stroke="#006eff"/><polyline points="262,282.4 262.9,282.2" stroke="#0074ff"/><polyline points="262.9,282.2 263.8,282.2" stroke="#0078ff"/><polyline points="263.8,282.2 264.7,282.1" stroke="#007bff"/><polyline points="264.7,282.1 265.6,281.9" stroke="#007eff"/><polyline points="265.6,281.9 266.5,281.3" stroke="#0083ff"/><polyline points="266.5,281.3 267.4,280.1" stroke="#008aff"/><polyline points="267.4,280.1 268.3,277.8" stroke="#0098ff"/><polyline points="268.3,277.8 269.2,274.2" stroke="#00afff"/><polyline points="269.2,274.2 270.1,268.6" stroke="#00d2ff"/><polyline points="270.1,268.6 271,261.2" stroke="#08fff6"/><polyline points="271,261.2 271.9,253.2" stroke="#4effb0"/><polyline points="271.9,253.2 272.8,248.6" stroke="#98ff66"/><polyline points="272.8,248.6 273.7,251.1" stroke="#c4ff3a"/><polyline points="273.7,251.1 274.6,259.6" stroke="#b1ff4d"/><polyline points="274.6,259.6 275.5,270" stroke="#66ff98"/><polyline points="275.5,270 276.4,279.3" stroke="#0bfff3"/><polyline points="276.4,279.3 277.3,286.5" stroke="#00b9ff"/><polyline points="277.3,286.5 278.2,292" stroke="#007aff"/><polyline points="278.2,292 279.1,296.1" stroke="#004bff"/><polyline points="279.1,296.1 280,299.3" stroke="#0028ff"/><polyline points="280,299.3 280.9,301.8" stroke="#000eff"/><polyline points="280.9,301.8 281.8,303.9" stroke="#0100f7"/><polyline points="281.8,303.9 282.7,305.5" stroke="#0302e4"/><polyline points="282.7,305.5 283.6,307" stroke="#0603d5"/><polyline points="283.6,307 284.6,308.2" stroke="#0804c8"/><polyline points="284.6,308.2 285.5,309.3" stroke="#0905be"/><polyline points="285.5,309.3 286.4,310.2" stroke="#0a06b6"/><polyline points="286.4,310.2 287.3,311.1" stroke="#0c06ae"/><polyline points="287.3,311.1 288.2,311.8" stroke="#0c07a8"/><polyline points="288.2,311.8 289.1,312.5" stroke="#0d07a3"/><polyline points="289.1,312.5 290,313.2" stroke="#0e089e"/><polyline points="290,313.2 290.9,313.8" stroke="#0f089a"/><polyline points="290.9,313.8 291.8,314.4" stroke="#0f0896"/><polyline points="291.8,314.4 292.7,314.9" stroke="#100893"/><polyline points="292.7,314.9 293.6,315.5" stroke="#100990"/><polyline points="293.6,315.5 294.5,316" stroke="#10098d"/><polyline points="294.5,316 295.4,316.4" stroke="#11098b"/><polyline points="295.4,316.4 296.3,316.9" stroke="#110989"/><polyline points="296.3,316.9 297.2,317.3" stroke="#110987"/><polyline points="297.2,317.3 298.1,317.8" stroke="#120a85"/><polyline points="298.1,317.8 299,318.2" stroke="#120a84"/><polyline points="299,318.2 299.9,318.6" stroke="#120a82"/><polyline points="299.9,318.6 300.8,319" stroke="#120a81"/><polyline points="300.8,319 301.7,319.3" stroke="#130a80"/><polyline points="301.7,319.3 302.6,319.7" stroke="#130a7f"/><polyline points="302.6,319.7 303.5,320.1" stroke="#130a7e"/><polyline points="303.5,320.1 304.4,320.4" stroke="#130a7d"/><polyline points="304.4,320.4 305.3,320.8" stroke="#130a7c"/><polyline points="305.3,320.8 306.2,321.1" stroke="#130a7b"/><polyline points="306.2,321.1 307.1,321.5 308,321.8" stroke="#130b7a"/><polyline points="308,321.8 308.9,322.1" stroke="#130b79"/><polyline points="308.9,322.1 309.8,322.4" stroke="#140b79"/><polyline points="309.8,322.4 310.7,322.7 311.6,323.1 312.5,323.4 313.4,323.6" stroke="#140b78"/><polyline points="313.4,323.6 314.3,323.9 315.3,324.2 316.2,324.5" stroke="#140b77"/><polyline points="316.2,324.5 317.1,324.7 318,324.9" stroke="#140b78"/><polyline points="318,324.9 318.9,325.1" stroke="#140b79"/><polyline points="318.9,325.1 319.8,325.3" stroke="#130b79"/><polyline points="319.8,325.3 320.7,325.5" stroke="#130b7a"/><polyline points="320.7,325.5 321.6,325.6" stroke="#130a7c"/><polyline points="321.6,325.6 322.5,325.6" stroke="#130a7e"/><polyline points="322.5,325.6 323.4,325.6" stroke="#120a80"/><polyline points="323.4,325.6 324.3,325.4" stroke="#120a84"/><polyline points="324.3,325.4 325.2,325" stroke="#110989"/><polyline points="325.2,325 326.1,324.2" stroke="#100990"/><polyline points="326.1,324.2 327,323" stroke="#0e089b"/><polyline points="327,323 327.9,320.9" stroke="#0c06ac"/><polyline points="327.9,320.9 328.8,317.5" stroke="#0804c6"/><polyline points="328.8,317.5 329.7,313" stroke="#0201ed"/><polyline points="329.7,313 330.6,309.4" stroke="#001dff"/><polyline points="330.6,309.4 331.5,310.6" stroke="#003fff"/><polyline points="331.5,310.6 332.4,315.6" stroke="#0037ff"/><polyline points="332.4,315.6 333.3,320.4" stroke="#000dff"/><polyline points="333.3,320.4 334.2,323.9" stroke="#0402dd"/><polyline points="334.2,323.9 335.1,326.3" stroke="#0a05ba"/><polyline points="335.1,326.3 336,327.9" stroke="#0d07a4"/><polyline points="336,327.9 336.9,329.1" stroke="#0f0895"/><polyline points="336.9,329.1 337.8,330" stroke="#11098b"/><polyline points="337.8,330 338.7,330.8" stroke="#120a84"/><polyline points="338.7,330.8 339.6,331.4" stroke="#130a7f"/><polyline points="339.6,331.4 340.5,331.9" stroke="#130a7b"/><polyline points="340.5,331.9 341.4,332.4" stroke="#140b79"/><polyline points="341.4,332.4 342.3,332.8" stroke="#140b76"/><polyline points="342.3,332.8 343.2,333.2" stroke="#140b75"/><polyline points="343.2,333.2 344.1,333.6" stroke="#140b73"/><polyline points="344.1,333.6 345.1,334" stroke="#150b72"/><polyline points="345.1,334 346,334.4" stroke="#150b71"/><polyline points="346,334.4 346.9,334.7 347.8,335" stroke="#150b70"/><polyline points="347.8,335 348.7,335.4" stroke="#150b6f"/><polyline points="348.7,335.4 349.6,335.7 350.5,336 351.4,336.3" stroke="#150c6e"/><polyline points="351.4,336.3 352.3,336.6 353.2,336.9 354.1,337.2" stroke="#150c6d"/><polyline points="354.1,337.2 355,337.5 355.9,337.8 356.8,338.1" stroke="#150c6c"/><polyline points="356.8,338.1 357.7,338.4 358.6,338.7 359.5,339" stroke="#160c6c"/><polyline points="359.5,339 360.4,339.3 361.3,339.6 362.2,339.8 363.1,340.1 364,340.4 364.9,340.6" stroke="#160c6b"/><polyline points="364.9,340.6 365.8,340.9" stroke="#160c6c"/><polyline points="365.8,340.9 366.7,341.1 367.6,341.4" stroke="#150c6c"/><polyline points="367.6,341.4 368.5,341.5" stroke="#150c6d"/><polyline points="368.5,341.5 369.4,341.7" stroke="#150c6e"/><polyline points="369.4,341.7 370.3,341.8" stroke="#150b70"/><polyline points="370.3,341.8 371.2,341.7" stroke="#150b72"/></g><g stroke="#000" stroke-width="1.6" fill="none"><line x1="87.2" y1="269.6" x2="87.2" y2="138.4"/><polyline points="87.2,269.6 358.1,353.4 528.9,220.4" fill="none"/><line x1="87.2" y1="269.6" x2="80.6" y2="267.6"/><line x1="87.2" y1="243.4" x2="80.6" y2="241.3"/><line x1="87.2" y1="217.1" x2="80.6" y2="215.1"/><line x1="87.2" y1="190.9" x2="80.6" y2="188.8"/><line x1="87.2" y1="164.6" x2="80.6" y2="162.6"/><line x1="87.2" y1="138.4" x2="80.6" y2="136.4"/><line x1="117.3" y1="278.9" x2="112" y2="283"/><line x1="177.5" y1="297.5" x2="172.2" y2="301.6"/><line x1="237.7" y1="316.2" x2="232.4" y2="320.2"/><line x1="297.9" y1="334.8" x2="292.6" y2="338.9"/><line x1="358.1" y1="353.4" x2="352.8" y2="357.5"/><line x1="371.2" y1="343.2" x2="377.9" y2="345.2"/><line x1="397.5" y1="322.7" x2="404.1" y2="324.8"/><line x1="423.8" y1="302.2" x2="430.4" y2="304.3"/><line x1="450.1" y1="281.8" x2="456.7" y2="283.8"/><line x1="476.3" y1="261.3" x2="483" y2="263.4"/><line x1="502.6" y1="240.9" x2="509.2" y2="242.9"/><line x1="528.9" y1="220.4" x2="535.5" y2="222.5"/></g><g font-family='"Liberation Sans", sans-serif'><text transform="translate(30.73,141.39) scale(1.035,1)" font-size="19.40" fill="#1a1a1a">2500</text><text transform="translate(30.43,167.99) scale(1.035,1)" font-size="19.40" fill="#1a1a1a">2000</text><text transform="translate(30.23,193.99) scale(1.035,1)" font-size="19.40" fill="#1a1a1a">1500</text><text transform="translate(30.23,220.39) scale(1.035,1)" font-size="19.40" fill="#1a1a1a">1000</text><text transform="translate(40.87,246.49) scale(1.035,1)" font-size="19.40" fill="#1a1a1a">500</text><text transform="translate(57.26,273.19) scale(1.035,1)" font-size="19.40" fill="#1a1a1a">0</text><text transform="translate(80.73,299.88) scale(1.008,1)" font-size="19.40" fill="#1a1a1a">1.42</text><text transform="translate(131.98,318.58) scale(1.042,1)" font-size="19.40" fill="#1a1a1a">1.422</text><text transform="translate(193.36,336.88) scale(0.988,1)" font-size="19.40" fill="#1a1a1a">1.424</text><text transform="translate(253.82,354.28) scale(1.020,1)" font-size="19.40" fill="#1a1a1a">1.426</text><text transform="translate(313.39,373.78) scale(1.037,1)" font-size="19.40" fill="#1a1a1a">1.428</text><text transform="translate(382.09,360.18) scale(1.035,1)" font-size="19.40" fill="#1a1a1a">10</text><text transform="translate(407.50,339.48) scale(1.035,1)" font-size="19.40" fill="#1a1a1a">20</text><text transform="translate(433.80,318.78) scale(1.035,1)" font-size="19.40" fill="#1a1a1a">30</text><text transform="translate(459.90,299.88) scale(1.035,1)" font-size="19.40" fill="#1a1a1a">40</text><text transform="translate(486.20,278.78) scale(1.035,1)" font-size="19.40" fill="#1a1a1a">50</text><text transform="translate(511.80,258.88) scale(1.035,1)" font-size="19.40" fill="#1a1a1a">60</text><text transform="translate(537.90,237.58) scale(1.035,1)" font-size="19.40" fill="#1a1a1a">70</text><text transform="translate(128.89,360.36) scale(1.014,1)" font-size="19.80" fill="#1a1a1a">Energy (eV)</text><text transform="translate(483.61,315.25) scale(0.991,1)" font-size="19.80" fill="#1a1a1a">T (K)</text></g><g font-family='"Liberation Sans", sans-serif'><text transform="translate(16.88,252.06) rotate(-90) scale(1.030,1)" font-size="19.00" fill="#1a1a1a">Intensity (a.u.)</text></g><polygon points="148.1,218.8 167.3,243.9 157,244.9 179.1,254.4 175.7,230.6 172.1,240.3 152.9,215.2" fill="#f21a1a"/><polygon points="251,219.1 259.7,233 249.3,233 270.4,244.6 269.3,220.6 264.7,229.9 256,215.9" fill="#f21a1a"/><polygon points="270.2,147.5 310.2,190.8 300,192.7 322.9,200.1 317.3,176.7 314.6,186.7 274.6,143.5" fill="#f21a1a"/><polygon points="369.4,78.9 351.6,97 349.2,87 342.9,110.2 366,103.4 355.9,101.2 373.6,83.1" fill="#f21a1a"/><polygon points="386.4,239.2 390.9,258.2 381.1,254.9 397.4,272.6 404,249.5 396.7,256.8 392.2,237.8" fill="#f21a1a"/><polygon points="462.4,229.3 445,245.1 443.2,235 435.6,257.8 459,252.3 449.1,249.6 466.4,233.7" fill="#f21a1a"/><g font-family='"Liberation Sans", sans-serif'><rect x="372.4" y="48.5" width="53" height="39.9" fill="#e0e0e0"/><text transform="translate(385.25,75.60) scale(0.901,1)" font-size="27.54" font-weight="bold" fill="#0505e8" stroke-width="0.35" stroke="#0505e8">X</text><text transform="translate(403.52,81.70) scale(0.936,1)" font-size="20.58" font-weight="bold" fill="#0505e8" stroke-width="0.35" stroke="#0505e8">A</text><rect x="227.3" y="103.1" width="52.9" height="39.9" fill="#e0e0e0"/><text transform="translate(233.77,132.44) scale(0.980,1)" font-size="26.34" font-weight="bold" fill="#000" stroke-width="0.35" stroke="#000">CM</text><rect x="122.8" y="175" width="53" height="39.5" fill="#e0e0e0"/><text transform="translate(135.55,201.40) scale(0.910,1)" font-size="27.25" font-weight="bold" fill="#0505e8" stroke-width="0.35" stroke="#0505e8">X</text><rect x="153.4" y="185.0" width="6.8" height="2.6" fill="#0505e8"/><text transform="translate(154.54,207.40) scale(0.939,1)" font-size="19.71" font-weight="bold" fill="#0505e8" stroke-width="0.35" stroke="#0505e8">A</text><rect x="208.2" y="175" width="53.5" height="39.8" fill="#e0e0e0"/><text transform="translate(224.16,203.40) scale(0.869,1)" font-size="27.83" font-weight="bold" fill="#0b8c48" stroke-width="0.35" stroke="#0b8c48">X</text><rect x="241.6" y="186.6" width="7.6" height="2.8" fill="#0b8c48"/><text transform="translate(242.62,207.60) scale(0.897,1)" font-size="16.81" font-weight="bold" fill="#0b8c48" stroke-width="0.35" stroke="#0b8c48">B</text><rect x="372.4" y="196" width="52.8" height="39.5" fill="#e0e0e0"/><text transform="translate(377.09,222.60) scale(0.984,1)" font-size="26.29" font-weight="bold" fill="#0505e8" stroke-width="0.35" stroke="#0505e8">2X</text><text transform="translate(409.55,228.20) scale(0.936,1)" font-size="19.13" font-weight="bold" fill="#0505e8" stroke-width="0.35" stroke="#0505e8">A</text><rect x="445.8" y="190.2" width="53" height="39.1" fill="#e0e0e0"/><text transform="translate(461.47,216.30) scale(0.883,1)" font-size="26.52" font-weight="bold" fill="#0b8c48" stroke-width="0.35" stroke="#0b8c48">X</text><text transform="translate(479.40,222.40) scale(0.901,1)" font-size="17.10" font-weight="bold" fill="#0b8c48" stroke-width="0.35" stroke="#0b8c48">B</text></g><g font-family='"Liberation Sans", sans-serif'><text transform="translate(20.06,28.06) scale(0.923,1)" font-size="33.82" font-weight="bold" fill="#1a1a1a">a</text><text transform="translate(19.46,386.67) scale(1.055,1)" font-size="32.65" font-weight="bold" fill="#1a1a1a">b</text><text transform="translate(19.93,771.65) scale(0.991,1)" font-size="34.55" font-weight="bold" fill="#1a1a1a">c</text><text transform="translate(19.91,1081.87) scale(1.059,1)" font-size="32.93" font-weight="bold" fill="#1a1a1a">d</text></g><g font-family='"Liberation Sans", sans-serif' font-size="19.5" fill="#1a1a1a"><rect x="77" y="398.5" width="436" height="327.5" fill="none" stroke="#000" stroke-width="1"/><line x1="77.6" y1="726" x2="77.6" y2="722" stroke="#000" stroke-width="0.8"/><line x1="77.6" y1="398.5" x2="77.6" y2="402.5" stroke="#000" stroke-width="0.8"/><line x1="92.1" y1="726" x2="92.1" y2="724" stroke="#000" stroke-width="0.8"/><line x1="92.1" y1="398.5" x2="92.1" y2="400.5" stroke="#000" stroke-width="0.8"/><line x1="106.6" y1="726" x2="106.6" y2="724" stroke="#000" stroke-width="0.8"/><line x1="106.6" y1="398.5" x2="106.6" y2="400.5" stroke="#000" stroke-width="0.8"/><line x1="121.2" y1="726" x2="121.2" y2="724" stroke="#000" stroke-width="0.8"/><line x1="121.2" y1="398.5" x2="121.2" y2="400.5" stroke="#000" stroke-width="0.8"/><line x1="135.7" y1="726" x2="135.7" y2="724" stroke="#000" stroke-width="0.8"/><line x1="135.7" y1="398.5" x2="135.7" y2="400.5" stroke="#000" stroke-width="0.8"/><line x1="150.2" y1="726" x2="150.2" y2="722" stroke="#000" stroke-width="0.8"/><line x1="150.2" y1="398.5" x2="150.2" y2="402.5" stroke="#000" stroke-width="0.8"/><line x1="164.7" y1="726" x2="164.7" y2="724" stroke="#000" stroke-width="0.8"/><line x1="164.7" y1="398.5" x2="164.7" y2="400.5" stroke="#000" stroke-width="0.8"/><line x1="179.2" y1="726" x2="179.2" y2="724" stroke="#000" stroke-width="0.8"/><line x1="179.2" y1="398.5" x2="179.2" y2="400.5" stroke="#000" stroke-width="0.8"/><line x1="193.7" y1="726" x2="193.7" y2="724" stroke="#000" stroke-width="0.8"/><line x1="193.7" y1="398.5" x2="193.7" y2="400.5" stroke="#000" stroke-width="0.8"/><line x1="208.2" y1="726" x2="208.2" y2="724" stroke="#000" stroke-width="0.8"/><line x1="208.2" y1="398.5" x2="208.2" y2="400.5" stroke="#000" stroke-width="0.8"/><line x1="222.7" y1="726" x2="222.7" y2="722" stroke="#000" stroke-width="0.8"/><line x1="222.7" y1="398.5" x2="222.7" y2="402.5" stroke="#000" stroke-width="0.8"/><line x1="237.3" y1="726" x2="237.3" y2="724" stroke="#000" stroke-width="0.8"/><line x1="237.3" y1="398.5" x2="237.3" y2="400.5" stroke="#000" stroke-width="0.8"/><line x1="251.8" y1="726" x2="251.8" y2="724" stroke="#000" stroke-width="0.8"/><line x1="251.8" y1="398.5" x2="251.8" y2="400.5" stroke="#000" stroke-width="0.8"/><line x1="266.3" y1="726" x2="266.3" y2="724" stroke="#000" stroke-width="0.8"/><line x1="266.3" y1="398.5" x2="266.3" y2="400.5" stroke="#000" stroke-width="0.8"/><line x1="280.8" y1="726" x2="280.8" y2="724" stroke="#000" stroke-width="0.8"/><line x1="280.8" y1="398.5" x2="280.8" y2="400.5" stroke="#000" stroke-width="0.8"/><line x1="295.3" y1="726" x2="295.3" y2="722" stroke="#000" stroke-width="0.8"/><line x1="295.3" y1="398.5" x2="295.3" y2="402.5" stroke="#000" stroke-width="0.8"/><line x1="309.8" y1="726" x2="309.8" y2="724" stroke="#000" stroke-width="0.8"/><line x1="309.8" y1="398.5" x2="309.8" y2="400.5" stroke="#000" stroke-width="0.8"/><line x1="324.3" y1="726" x2="324.3" y2="724" stroke="#000" stroke-width="0.8"/><line x1="324.3" y1="398.5" x2="324.3" y2="400.5" stroke="#000" stroke-width="0.8"/><line x1="338.8" y1="726" x2="338.8" y2="724" stroke="#000" stroke-width="0.8"/><line x1="338.8" y1="398.5" x2="338.8" y2="400.5" stroke="#000" stroke-width="0.8"/><line x1="353.3" y1="726" x2="353.3" y2="724" stroke="#000" stroke-width="0.8"/><line x1="353.3" y1="398.5" x2="353.3" y2="400.5" stroke="#000" stroke-width="0.8"/><line x1="367.9" y1="726" x2="367.9" y2="722" stroke="#000" stroke-width="0.8"/><line x1="367.9" y1="398.5" x2="367.9" y2="402.5" stroke="#000" stroke-width="0.8"/><line x1="382.4" y1="726" x2="382.4" y2="724" stroke="#000" stroke-width="0.8"/><line x1="382.4" y1="398.5" x2="382.4" y2="400.5" stroke="#000" stroke-width="0.8"/><line x1="396.9" y1="726" x2="396.9" y2="724" stroke="#000" stroke-width="0.8"/><line x1="396.9" y1="398.5" x2="396.9" y2="400.5" stroke="#000" stroke-width="0.8"/><line x1="411.4" y1="726" x2="411.4" y2="724" stroke="#000" stroke-width="0.8"/><line x1="411.4" y1="398.5" x2="411.4" y2="400.5" stroke="#000" stroke-width="0.8"/><line x1="425.9" y1="726" x2="425.9" y2="724" stroke="#000" stroke-width="0.8"/><line x1="425.9" y1="398.5" x2="425.9" y2="400.5" stroke="#000" stroke-width="0.8"/><line x1="440.4" y1="726" x2="440.4" y2="722" stroke="#000" stroke-width="0.8"/><line x1="440.4" y1="398.5" x2="440.4" y2="402.5" stroke="#000" stroke-width="0.8"/><line x1="454.9" y1="726" x2="454.9" y2="724" stroke="#000" stroke-width="0.8"/><line x1="454.9" y1="398.5" x2="454.9" y2="400.5" stroke="#000" stroke-width="0.8"/><line x1="469.4" y1="726" x2="469.4" y2="724" stroke="#000" stroke-width="0.8"/><line x1="469.4" y1="398.5" x2="469.4" y2="400.5" stroke="#000" stroke-width="0.8"/><line x1="484" y1="726" x2="484" y2="724" stroke="#000" stroke-width="0.8"/><line x1="484" y1="398.5" x2="484" y2="400.5" stroke="#000" stroke-width="0.8"/><line x1="498.5" y1="726" x2="498.5" y2="724" stroke="#000" stroke-width="0.8"/><line x1="498.5" y1="398.5" x2="498.5" y2="400.5" stroke="#000" stroke-width="0.8"/><line x1="513" y1="726" x2="513" y2="722" stroke="#000" stroke-width="0.8"/><line x1="513" y1="398.5" x2="513" y2="402.5" stroke="#000" stroke-width="0.8"/><text transform="translate(62.48,748.99) scale(1.030,1)" font-size="19.40" fill="#1a1a1a">−6</text><text transform="translate(134.89,748.99) scale(1.030,1)" font-size="19.40" fill="#1a1a1a">−4</text><text transform="translate(207.65,749.09) scale(1.030,1)" font-size="19.40" fill="#1a1a1a">−2</text><text transform="translate(290.25,748.99) scale(1.030,1)" font-size="19.40" fill="#1a1a1a">0</text><text transform="translate(362.81,749.09) scale(1.030,1)" font-size="19.40" fill="#1a1a1a">2</text><text transform="translate(435.42,748.99) scale(1.030,1)" font-size="19.40" fill="#1a1a1a">4</text><text transform="translate(507.89,748.99) scale(1.030,1)" font-size="19.40" fill="#1a1a1a">6</text><line x1="77" y1="725.5" x2="79" y2="725.5" stroke="#000" stroke-width="0.8"/><line x1="513" y1="725.5" x2="511" y2="725.5" stroke="#000" stroke-width="0.8"/><line x1="77" y1="708.3" x2="81" y2="708.3" stroke="#000" stroke-width="0.8"/><line x1="513" y1="708.3" x2="509" y2="708.3" stroke="#000" stroke-width="0.8"/><line x1="77" y1="691.1" x2="79" y2="691.1" stroke="#000" stroke-width="0.8"/><line x1="513" y1="691.1" x2="511" y2="691.1" stroke="#000" stroke-width="0.8"/><line x1="77" y1="673.9" x2="81" y2="673.9" stroke="#000" stroke-width="0.8"/><line x1="513" y1="673.9" x2="509" y2="673.9" stroke="#000" stroke-width="0.8"/><line x1="77" y1="656.6" x2="79" y2="656.6" stroke="#000" stroke-width="0.8"/><line x1="513" y1="656.6" x2="511" y2="656.6" stroke="#000" stroke-width="0.8"/><line x1="77" y1="639.4" x2="81" y2="639.4" stroke="#000" stroke-width="0.8"/><line x1="513" y1="639.4" x2="509" y2="639.4" stroke="#000" stroke-width="0.8"/><line x1="77" y1="622.2" x2="79" y2="622.2" stroke="#000" stroke-width="0.8"/><line x1="513" y1="622.2" x2="511" y2="622.2" stroke="#000" stroke-width="0.8"/><line x1="77" y1="605" x2="81" y2="605" stroke="#000" stroke-width="0.8"/><line x1="513" y1="605" x2="509" y2="605" stroke="#000" stroke-width="0.8"/><line x1="77" y1="587.8" x2="79" y2="587.8" stroke="#000" stroke-width="0.8"/><line x1="513" y1="587.8" x2="511" y2="587.8" stroke="#000" stroke-width="0.8"/><line x1="77" y1="570.5" x2="81" y2="570.5" stroke="#000" stroke-width="0.8"/><line x1="513" y1="570.5" x2="509" y2="570.5" stroke="#000" stroke-width="0.8"/><line x1="77" y1="553.3" x2="79" y2="553.3" stroke="#000" stroke-width="0.8"/><line x1="513" y1="553.3" x2="511" y2="553.3" stroke="#000" stroke-width="0.8"/><line x1="77" y1="536.1" x2="81" y2="536.1" stroke="#000" stroke-width="0.8"/><line x1="513" y1="536.1" x2="509" y2="536.1" stroke="#000" stroke-width="0.8"/><line x1="77" y1="518.9" x2="79" y2="518.9" stroke="#000" stroke-width="0.8"/><line x1="513" y1="518.9" x2="511" y2="518.9" stroke="#000" stroke-width="0.8"/><line x1="77" y1="501.7" x2="81" y2="501.7" stroke="#000" stroke-width="0.8"/><line x1="513" y1="501.7" x2="509" y2="501.7" stroke="#000" stroke-width="0.8"/><line x1="77" y1="484.4" x2="79" y2="484.4" stroke="#000" stroke-width="0.8"/><line x1="513" y1="484.4" x2="511" y2="484.4" stroke="#000" stroke-width="0.8"/><line x1="77" y1="467.2" x2="81" y2="467.2" stroke="#000" stroke-width="0.8"/><line x1="513" y1="467.2" x2="509" y2="467.2" stroke="#000" stroke-width="0.8"/><line x1="77" y1="450" x2="79" y2="450" stroke="#000" stroke-width="0.8"/><line x1="513" y1="450" x2="511" y2="450" stroke="#000" stroke-width="0.8"/><line x1="77" y1="432.8" x2="81" y2="432.8" stroke="#000" stroke-width="0.8"/><line x1="513" y1="432.8" x2="509" y2="432.8" stroke="#000" stroke-width="0.8"/><line x1="77" y1="415.6" x2="79" y2="415.6" stroke="#000" stroke-width="0.8"/><line x1="513" y1="415.6" x2="511" y2="415.6" stroke="#000" stroke-width="0.8"/><text transform="translate(60.11,714.99) scale(0.990,1)" font-size="19.40" fill="#1a1a1a">0</text><text transform="translate(44.26,680.55) scale(0.990,1)" font-size="19.40" fill="#1a1a1a">0.1</text><text transform="translate(44.26,646.11) scale(0.990,1)" font-size="19.40" fill="#1a1a1a">0.2</text><text transform="translate(44.17,611.67) scale(0.990,1)" font-size="19.40" fill="#1a1a1a">0.3</text><text transform="translate(43.88,577.23) scale(0.990,1)" font-size="19.40" fill="#1a1a1a">0.4</text><text transform="translate(44.07,542.79) scale(0.990,1)" font-size="19.40" fill="#1a1a1a">0.5</text><text transform="translate(44.17,508.35) scale(0.990,1)" font-size="19.40" fill="#1a1a1a">0.6</text><text transform="translate(44.26,473.91) scale(0.990,1)" font-size="19.40" fill="#1a1a1a">0.7</text><text transform="translate(44.07,439.47) scale(0.990,1)" font-size="19.40" fill="#1a1a1a">0.8</text></g><g font-family='"Liberation Sans", sans-serif'><text transform="translate(231.62,769.73) scale(1.000,1)" font-size="21.00" fill="#1a1a1a">Detuning (meV)</text></g><g font-family='"Liberation Sans", sans-serif'><text transform="translate(25.34,670.59) rotate(-90) scale(1.020,1)" font-size="20.60" fill="#1a1a1a">Integrated intensity (a.u.)</text></g><line x1="295.3" y1="398.5" x2="295.3" y2="726" stroke="#000" stroke-width="2" stroke-dasharray="5.5,4.3"/><rect x="126.8" y="702.9" width="9.5" height="9.5" fill="#2b8cff" stroke="#1030d0" stroke-width="1"/><rect x="136.2" y="702.4" width="9.5" height="9.5" fill="#2b8cff" stroke="#1030d0" stroke-width="1"/><rect x="148.2" y="698" width="9.5" height="9.5" fill="#2b8cff" stroke="#1030d0" stroke-width="1"/><rect x="157.6" y="696.9" width="9.5" height="9.5" fill="#2b8cff" stroke="#1030d0" stroke-width="1"/><rect x="168.8" y="693.8" width="9.5" height="9.5" fill="#2b8cff" stroke="#1030d0" stroke-width="1"/><rect x="175.8" y="689.8" width="9.5" height="9.5" fill="#2b8cff" stroke="#1030d0" stroke-width="1"/><rect x="179.3" y="688.5" width="9.5" height="9.5" fill="#2b8cff" stroke="#1030d0" stroke-width="1"/><rect x="182.2" y="686.2" width="9.5" height="9.5" fill="#2b8cff" stroke="#1030d0" stroke-width="1"/><polygon points="212.6,668.2 206.3,679.5 218.8,679.5" fill="#2b8cff" stroke="#1030d0" stroke-width="1"/><polygon points="240.3,657.5 234.1,668.8 246.6,668.8" fill="#2b8cff" stroke="#1030d0" stroke-width="1"/><polygon points="265.5,606.5 259.2,617.8 271.8,617.8" fill="#2b8cff" stroke="#1030d0" stroke-width="1"/><polygon points="285.2,518.5 278.9,529.8 291.4,529.8" fill="#2b8cff" stroke="#1030d0" stroke-width="1"/><polygon points="305.7,458.3 299.4,469.6 311.9,469.6" fill="#2b8cff" stroke="#1030d0" stroke-width="1"/><polygon points="319.3,608.1 313.1,619.4 325.6,619.4" fill="#2b8cff" stroke="#1030d0" stroke-width="1"/><polygon points="329,626.6 322.8,637.9 335.2,637.9" fill="#2b8cff" stroke="#1030d0" stroke-width="1"/><polygon points="341.3,655.9 335.1,667.2 347.6,667.2" fill="#2b8cff" stroke="#1030d0" stroke-width="1"/><polygon points="351.8,665.7 345.6,677 358.1,677" fill="#2b8cff" stroke="#1030d0" stroke-width="1"/><polygon points="363.3,666.3 357.1,677.6 369.6,677.6" fill="#2b8cff" stroke="#1030d0" stroke-width="1"/><polygon points="370.4,669.9 364.1,681.2 376.6,681.2" fill="#2b8cff" stroke="#1030d0" stroke-width="1"/><polygon points="375.1,674.6 368.9,685.9 381.4,685.9" fill="#2b8cff" stroke="#1030d0" stroke-width="1"/><polygon points="377.5,675.8 371.2,687.1 383.8,687.1" fill="#2b8cff" stroke="#1030d0" stroke-width="1"/><circle cx="372.8" cy="708.1" r="5.6" fill="#2b8cff" stroke="#1030d0" stroke-width="1"/><circle cx="383.4" cy="707.6" r="5.6" fill="#2b8cff" stroke="#1030d0" stroke-width="1"/><circle cx="395.8" cy="705.7" r="5.6" fill="#2b8cff" stroke="#1030d0" stroke-width="1"/><circle cx="406.7" cy="704.5" r="5.6" fill="#2b8cff" stroke="#1030d0" stroke-width="1"/><circle cx="417.1" cy="702.6" r="5.6" fill="#2b8cff" stroke="#1030d0" stroke-width="1"/><circle cx="427.3" cy="702.6" r="5.6" fill="#2b8cff" stroke="#1030d0" stroke-width="1"/><circle cx="430.8" cy="701.7" r="5.6" fill="#2b8cff" stroke="#1030d0" stroke-width="1"/><rect x="235.1" y="699.2" width="9.5" height="9.5" fill="#3aa63a" stroke="#1f7a1f" stroke-width="1"/><rect x="246.8" y="695.2" width="9.5" height="9.5" fill="#3aa63a" stroke="#1f7a1f" stroke-width="1"/><rect x="256.8" y="687" width="9.5" height="9.5" fill="#3aa63a" stroke="#1f7a1f" stroke-width="1"/><rect x="269.1" y="652.5" width="9.5" height="9.5" fill="#3aa63a" stroke="#1f7a1f" stroke-width="1"/><rect x="279.8" y="579.4" width="9.5" height="9.5" fill="#3aa63a" stroke="#1f7a1f" stroke-width="1"/><rect x="290.4" y="440.9" width="9.5" height="9.5" fill="#3aa63a" stroke="#1f7a1f" stroke-width="1"/><rect x="296.8" y="546.5" width="9.5" height="9.5" fill="#3aa63a" stroke="#1f7a1f" stroke-width="1"/><rect x="299.4" y="549.2" width="9.5" height="9.5" fill="#3aa63a" stroke="#1f7a1f" stroke-width="1"/><rect x="302.1" y="552.8" width="9.5" height="9.5" fill="#3aa63a" stroke="#1f7a1f" stroke-width="1"/><polygon points="308.3,602.5 302.1,613.8 314.6,613.8" fill="#3aa63a" stroke="#1f7a1f" stroke-width="1"/><polygon points="337.4,688.5 331.1,699.8 343.6,699.8" fill="#3aa63a" stroke="#1f7a1f" stroke-width="1"/><polygon points="365,697.1 358.8,708.4 371.2,708.4" fill="#3aa63a" stroke="#1f7a1f" stroke-width="1"/><polygon points="385.1,697.1 378.9,708.4 391.4,708.4" fill="#3aa63a" stroke="#1f7a1f" stroke-width="1"/><polygon points="407.6,697.8 401.4,709.1 413.9,709.1" fill="#3aa63a" stroke="#1f7a1f" stroke-width="1"/><polygon points="419.5,697.8 413.2,709.1 425.8,709.1" fill="#3aa63a" stroke="#1f7a1f" stroke-width="1"/><polygon points="430.8,697.1 424.6,708.4 437.1,708.4" fill="#3aa63a" stroke="#1f7a1f" stroke-width="1"/><polygon points="443.2,697.1 436.9,708.4 449.4,708.4" fill="#3aa63a" stroke="#1f7a1f" stroke-width="1"/><polygon points="454.5,697.1 448.2,708.4 460.8,708.4" fill="#3aa63a" stroke="#1f7a1f" stroke-width="1"/><polygon points="466.4,698.3 460.1,709.6 472.6,709.6" fill="#3aa63a" stroke="#1f7a1f" stroke-width="1"/><polygon points="473.5,698.8 467.2,710.1 479.8,710.1" fill="#3aa63a" stroke="#1f7a1f" stroke-width="1"/><polygon points="479.4,698.8 473.1,710.1 485.6,710.1" fill="#3aa63a" stroke="#1f7a1f" stroke-width="1"/><polyline points="77.6,699 78,699 78.3,699 78.7,699 79.1,699 79.4,699 79.8,699 80.2,699 80.5,699 80.9,699 81.2,699 81.6,699 82,698.9 82.3,698.9 82.7,698.9 83.1,698.9 83.4,698.9 83.8,698.9 84.2,698.9 84.5,698.9 84.9,698.9 85.2,698.9 85.6,698.9 86,698.9 86.3,698.8 86.7,698.8 87.1,698.8 87.4,698.8 87.8,698.8 88.1,698.8 88.5,698.8 88.9,698.8 89.2,698.8 89.6,698.8 90,698.8 90.3,698.7 90.7,698.7 91,698.7 91.4,698.7 91.8,698.7 92.1,698.7 92.5,698.7 92.9,698.7 93.2,698.7 93.6,698.7 93.9,698.6 94.3,698.6 94.7,698.6 95,698.6 95.4,698.6 95.8,698.6 96.1,698.6 96.5,698.6 96.8,698.6 97.2,698.6 97.6,698.5 97.9,698.5 98.3,698.5 98.7,698.5 99,698.5 99.4,698.5 99.8,698.5 100.1,698.5 100.5,698.5 100.8,698.5 101.2,698.4 101.6,698.4 101.9,698.4 102.3,698.4 102.7,698.4 103,698.4 103.4,698.4 103.7,698.4 104.1,698.4 104.5,698.3 104.8,698.3 105.2,698.3 105.6,698.3 105.9,698.3 106.3,698.3 106.6,698.3 107,698.3 107.4,698.2 107.7,698.2 108.1,698.2 108.5,698.2 108.8,698.2 109.2,698.2 109.5,698.2 109.9,698.2 110.3,698.1 110.6,698.1 111,698.1 111.4,698.1 111.7,698.1 112.1,698.1 112.4,698.1 112.8,698.1 113.2,698 113.5,698 113.9,698 114.3,698 114.6,698 115,698 115.4,698 115.7,697.9 116.1,697.9 116.4,697.9 116.8,697.9 117.2,697.9 117.5,697.9 117.9,697.9 118.3,697.9 118.6,697.8 119,697.8 119.3,697.8 119.7,697.8 120.1,697.8 120.4,697.8 120.8,697.7 121.2,697.7 121.5,697.7 121.9,697.7 122.2,697.7 122.6,697.7 123,697.7 123.3,697.6 123.7,697.6 124.1,697.6 124.4,697.6 124.8,697.6 125.1,697.6 125.5,697.5 125.9,697.5 126.2,697.5 126.6,697.5 127,697.5 127.3,697.5 127.7,697.4 128,697.4 128.4,697.4 128.8,697.4 129.1,697.4 129.5,697.4 129.9,697.3 130.2,697.3 130.6,697.3 131,697.3 131.3,697.3 131.7,697.3 132,697.2 132.4,697.2 132.8,697.2 133.1,697.2 133.5,697.2 133.9,697.1 134.2,697.1 134.6,697.1 134.9,697.1 135.3,697.1 135.7,697 136,697 136.4,697 136.8,697 137.1,697 137.5,696.9 137.8,696.9 138.2,696.9 138.6,696.9 138.9,696.9 139.3,696.8 139.7,696.8 140,696.8 140.4,696.8 140.7,696.8 141.1,696.7 141.5,696.7 141.8,696.7 142.2,696.7 142.6,696.6 142.9,696.6 143.3,696.6 143.6,696.6 144,696.6 144.4,696.5 144.7,696.5 145.1,696.5 145.5,696.5 145.8,696.4 146.2,696.4 146.6,696.4 146.9,696.4 147.3,696.3 147.6,696.3 148,696.3 148.4,696.3 148.7,696.2 149.1,696.2 149.5,696.2 149.8,696.2 150.2,696.1 150.5,696.1 150.9,696.1 151.3,696.1 151.6,696 152,696 152.4,696 152.7,696 153.1,695.9 153.4,695.9 153.8,695.9 154.2,695.9 154.5,695.8 154.9,695.8 155.3,695.8 155.6,695.7 156,695.7 156.3,695.7 156.7,695.7 157.1,695.6 157.4,695.6 157.8,695.6 158.2,695.5 158.5,695.5 158.9,695.5 159.2,695.4 159.6,695.4 160,695.4 160.3,695.3 160.7,695.3 161.1,695.3 161.4,695.2 161.8,695.2 162.2,695.2 162.5,695.1 162.9,695.1 163.2,695.1 163.6,695 164,695 164.3,695 164.7,694.9 165.1,694.9 165.4,694.9 165.8,694.8 166.1,694.8 166.5,694.8 166.9,694.7 167.2,694.7 167.6,694.7 168,694.6 168.3,694.6 168.7,694.5 169,694.5 169.4,694.5 169.8,694.4 170.1,694.4 170.5,694.3 170.9,694.3 171.2,694.3 171.6,694.2 171.9,694.2 172.3,694.1 172.7,694.1 173,694.1 173.4,694 173.8,694 174.1,693.9 174.5,693.9 174.9,693.8 175.2,693.8 175.6,693.8 175.9,693.7 176.3,693.7 176.7,693.6 177,693.6 177.4,693.5 177.8,693.5 178.1,693.4 178.5,693.4 178.8,693.3 179.2,693.3 179.6,693.2 179.9,693.2 180.3,693.1 180.7,693.1 181,693 181.4,693 181.7,692.9 182.1,692.9 182.5,692.8 182.8,692.8 183.2,692.7 183.6,692.7 183.9,692.6 184.3,692.5 184.6,692.5 185,692.4 185.4,692.4 185.7,692.3 186.1,692.3 186.5,692.2 186.8,692.1 187.2,692.1 187.5,692 187.9,692 188.3,691.9 188.6,691.8 189,691.8 189.4,691.7 189.7,691.6 190.1,691.6 190.5,691.5 190.8,691.4 191.2,691.4 191.5,691.3 191.9,691.2 192.3,691.2 192.6,691.1 193,691 193.4,691 193.7,690.9 194.1,690.8 194.4,690.8 194.8,690.7 195.2,690.6 195.5,690.5 195.9,690.5 196.3,690.4 196.6,690.3 197,690.2 197.3,690.1 197.7,690.1 198.1,690 198.4,689.9 198.8,689.8 199.2,689.7 199.5,689.6 199.9,689.6 200.2,689.5 200.6,689.4 201,689.3 201.3,689.2 201.7,689.1 202.1,689 202.4,688.9 202.8,688.8 203.1,688.7 203.5,688.7 203.9,688.6 204.2,688.5 204.6,688.4 205,688.3 205.3,688.2 205.7,688.1 206.1,688 206.4,687.9 206.8,687.7 207.1,687.6 207.5,687.5 207.9,687.4 208.2,687.3 208.6,687.2 209,687.1 209.3,687 209.7,686.9 210,686.7 210.4,686.6 210.8,686.5 211.1,686.4 211.5,686.3 211.9,686.1 212.2,686 212.6,685.9 212.9,685.8 213.3,685.6 213.7,685.5 214,685.4 214.4,685.2 214.8,685.1 215.1,684.9 215.5,684.8 215.8,684.7 216.2,684.5 216.6,684.4 216.9,684.2 217.3,684.1 217.7,683.9 218,683.8 218.4,683.6 218.7,683.5 219.1,683.3 219.5,683.1 219.8,683 220.2,682.8 220.6,682.6 220.9,682.5 221.3,682.3 221.7,682.1 222,682 222.4,681.8 222.7,681.6 223.1,681.4 223.5,681.2 223.8,681 224.2,680.8 224.6,680.7 224.9,680.5 225.3,680.3 225.6,680.1 226,679.8 226.4,679.6 226.7,679.4 227.1,679.2 227.5,679 227.8,678.8 228.2,678.6 228.5,678.3 228.9,678.1 229.3,677.9 229.6,677.6 230,677.4 230.4,677.2 230.7,676.9 231.1,676.7 231.4,676.4 231.8,676.1 232.2,675.9 232.5,675.6 232.9,675.3 233.3,675.1 233.6,674.8 234,674.5 234.3,674.2 234.7,673.9 235.1,673.6 235.4,673.3 235.8,673 236.2,672.7 236.5,672.4 236.9,672.1 237.3,671.8 237.6,671.4 238,671.1 238.3,670.8 238.7,670.4 239.1,670.1 239.4,669.7 239.8,669.3 240.2,669 240.5,668.6 240.9,668.2 241.2,667.8 241.6,667.4 242,667 242.3,666.6 242.7,666.2 243.1,665.8 243.4,665.4 243.8,664.9 244.1,664.5 244.5,664 244.9,663.6 245.2,663.1 245.6,662.6 246,662.2 246.3,661.7 246.7,661.2 247,660.7 247.4,660.1 247.8,659.6 248.1,659.1 248.5,658.5 248.9,658 249.2,657.4 249.6,656.8 250,656.2 250.3,655.6 250.7,655 251,654.4 251.4,653.8 251.8,653.1 252.1,652.5 252.5,651.8 252.9,651.1 253.2,650.4 253.6,649.7 253.9,649 254.3,648.3 254.7,647.5 255,646.8 255.4,646 255.8,645.2 256.1,644.4 256.5,643.6 256.8,642.7 257.2,641.9 257.6,641 257.9,640.1 258.3,639.2 258.7,638.3 259,637.3 259.4,636.3 259.7,635.4 260.1,634.4 260.5,633.3 260.8,632.3 261.2,631.2 261.6,630.1 261.9,629 262.3,627.9 262.6,626.7 263,625.6 263.4,624.4 263.7,623.1 264.1,621.9 264.5,620.6 264.8,619.3 265.2,618 265.6,616.6 265.9,615.2 266.3,613.8 266.6,612.4 267,610.9 267.4,609.4 267.7,607.9 268.1,606.3 268.5,604.7 268.8,603.1 269.2,601.4 269.5,599.7 269.9,598 270.3,596.3 270.6,594.5 271,592.7 271.4,590.8 271.7,588.9 272.1,587 272.4,585 272.8,583 273.2,581 273.5,578.9 273.9,576.8 274.3,574.6 274.6,572.4 275,570.2 275.3,568 275.7,565.7 276.1,563.3 276.4,561 276.8,558.6 277.2,556.1 277.5,553.7 277.9,551.2 278.2,548.6 278.6,546.1 279,543.5 279.3,540.8 279.7,538.2 280.1,535.5 280.4,532.8 280.8,530.1 281.2,527.4 281.5,524.6 281.9,521.8 282.2,519.1 282.6,516.3 283,513.5 283.3,510.7 283.7,507.9 284.1,505.1 284.4,502.4 284.8,499.6 285.1,496.9 285.5,494.2 285.9,491.5 286.2,488.8 286.6,486.2 287,483.7 287.3,481.2 287.7,478.7 288,476.3 288.4,474 288.8,471.7 289.1,469.6 289.5,467.5 289.9,465.5 290.2,463.6 290.6,461.8 290.9,460.2 291.3,458.6 291.7,457.1 292,455.8 292.4,454.6 292.8,453.5 293.1,452.6 293.5,451.8 293.8,451.2 294.2,450.7 294.6,450.3 294.9,450.1 295.3,450 295.7,450.1 296,450.3 296.4,450.7 296.8,451.2 297.1,451.8 297.5,452.6 297.8,453.5 298.2,454.6 298.6,455.8 298.9,457.1 299.3,458.6 299.7,460.2 300,461.8 300.4,463.6 300.7,465.5 301.1,467.5 301.5,469.6 301.8,471.7 302.2,474 302.6,476.3 302.9,478.7 303.3,481.2 303.6,483.7 304,486.2 304.4,488.8 304.7,491.5 305.1,494.2 305.5,496.9 305.8,499.6 306.2,502.4 306.5,505.1 306.9,507.9 307.3,510.7 307.6,513.5 308,516.3 308.4,519.1 308.7,521.8 309.1,524.6 309.4,527.4 309.8,530.1 310.2,532.8 310.5,535.5 310.9,538.2 311.3,540.8 311.6,543.5 312,546.1 312.4,548.6 312.7,551.2 313.1,553.7 313.4,556.1 313.8,558.6 314.2,561 314.5,563.3 314.9,565.7 315.3,568 315.6,570.2 316,572.4 316.3,574.6 316.7,576.8 317.1,578.9 317.4,581 317.8,583 318.2,585 318.5,587 318.9,588.9 319.2,590.8 319.6,592.7 320,594.5 320.3,596.3 320.7,598 321.1,599.7 321.4,601.4 321.8,603.1 322.1,604.7 322.5,606.3 322.9,607.9 323.2,609.4 323.6,610.9 324,612.4 324.3,613.8 324.7,615.2 325,616.6 325.4,618 325.8,619.3 326.1,620.6 326.5,621.9 326.9,623.1 327.2,624.4 327.6,625.6 328,626.7 328.3,627.9 328.7,629 329,630.1 329.4,631.2 329.8,632.3 330.1,633.3 330.5,634.4 330.9,635.4 331.2,636.3 331.6,637.3 331.9,638.3 332.3,639.2 332.7,640.1 333,641 333.4,641.9 333.8,642.7 334.1,643.6 334.5,644.4 334.8,645.2 335.2,646 335.6,646.8 335.9,647.5 336.3,648.3 336.7,649 337,649.7 337.4,650.4 337.7,651.1 338.1,651.8 338.5,652.5 338.8,653.1 339.2,653.8 339.6,654.4 339.9,655 340.3,655.6 340.7,656.2 341,656.8 341.4,657.4 341.7,658 342.1,658.5 342.5,659.1 342.8,659.6 343.2,660.1 343.6,660.7 343.9,661.2 344.3,661.7 344.6,662.2 345,662.6 345.4,663.1 345.7,663.6 346.1,664 346.5,664.5 346.8,664.9 347.2,665.4 347.5,665.8 347.9,666.2 348.3,666.6 348.6,667 349,667.4 349.4,667.8 349.7,668.2 350.1,668.6 350.4,669 350.8,669.3 351.2,669.7 351.5,670.1 351.9,670.4 352.3,670.8 352.6,671.1 353,671.4 353.3,671.8 353.7,672.1 354.1,672.4 354.4,672.7 354.8,673 355.2,673.3 355.5,673.6 355.9,673.9 356.3,674.2 356.6,674.5 357,674.8 357.3,675.1 357.7,675.3 358.1,675.6 358.4,675.9 358.8,676.1 359.2,676.4 359.5,676.7 359.9,676.9 360.2,677.2 360.6,677.4 361,677.6 361.3,677.9 361.7,678.1 362.1,678.3 362.4,678.6 362.8,678.8 363.1,679 363.5,679.2 363.9,679.4 364.2,679.6 364.6,679.8 365,680.1 365.3,680.3 365.7,680.5 366,680.7 366.4,680.8 366.8,681 367.1,681.2 367.5,681.4 367.9,681.6 368.2,681.8 368.6,682 368.9,682.1 369.3,682.3 369.7,682.5 370,682.6 370.4,682.8 370.8,683 371.1,683.1 371.5,683.3 371.9,683.5 372.2,683.6 372.6,683.8 372.9,683.9 373.3,684.1 373.7,684.2 374,684.4 374.4,684.5 374.8,684.7 375.1,684.8 375.5,684.9 375.8,685.1 376.2,685.2 376.6,685.4 376.9,685.5 377.3,685.6 377.7,685.8 378,685.9 378.4,686 378.7,686.1 379.1,686.3 379.5,686.4 379.8,686.5 380.2,686.6 380.6,686.7 380.9,686.9 381.3,687 381.6,687.1 382,687.2 382.4,687.3 382.7,687.4 383.1,687.5 383.5,687.6 383.8,687.7 384.2,687.9 384.5,688 384.9,688.1 385.3,688.2 385.6,688.3 386,688.4 386.4,688.5 386.7,688.6 387.1,688.7 387.5,688.7 387.8,688.8 388.2,688.9 388.5,689 388.9,689.1 389.3,689.2 389.6,689.3 390,689.4 390.4,689.5 390.7,689.6 391.1,689.6 391.4,689.7 391.8,689.8 392.2,689.9 392.5,690 392.9,690.1 393.3,690.1 393.6,690.2 394,690.3 394.3,690.4 394.7,690.5 395.1,690.5 395.4,690.6 395.8,690.7 396.2,690.8 396.5,690.8 396.9,690.9 397.2,691 397.6,691 398,691.1 398.3,691.2 398.7,691.2 399.1,691.3 399.4,691.4 399.8,691.4 400.1,691.5 400.5,691.6 400.9,691.6 401.2,691.7 401.6,691.8 402,691.8 402.3,691.9 402.7,692 403.1,692 403.4,692.1 403.8,692.1 404.1,692.2 404.5,692.3 404.9,692.3 405.2,692.4 405.6,692.4 406,692.5 406.3,692.5 406.7,692.6 407,692.7 407.4,692.7 407.8,692.8 408.1,692.8 408.5,692.9 408.9,692.9 409.2,693 409.6,693 409.9,693.1 410.3,693.1 410.7,693.2 411,693.2 411.4,693.3 411.8,693.3 412.1,693.4 412.5,693.4 412.8,693.5 413.2,693.5 413.6,693.6 413.9,693.6 414.3,693.7 414.7,693.7 415,693.8 415.4,693.8 415.7,693.8 416.1,693.9 416.5,693.9 416.8,694 417.2,694 417.6,694.1 417.9,694.1 418.3,694.1 418.7,694.2 419,694.2 419.4,694.3 419.7,694.3 420.1,694.3 420.5,694.4 420.8,694.4 421.2,694.5 421.6,694.5 421.9,694.5 422.3,694.6 422.6,694.6 423,694.7 423.4,694.7 423.7,694.7 424.1,694.8 424.5,694.8 424.8,694.8 425.2,694.9 425.5,694.9 425.9,694.9 426.3,695 426.6,695 427,695 427.4,695.1 427.7,695.1 428.1,695.1 428.4,695.2 428.8,695.2 429.2,695.2 429.5,695.3 429.9,695.3 430.3,695.3 430.6,695.4 431,695.4 431.4,695.4 431.7,695.5 432.1,695.5 432.4,695.5 432.8,695.6 433.2,695.6 433.5,695.6 433.9,695.7 434.3,695.7 434.6,695.7 435,695.7 435.3,695.8 435.7,695.8 436.1,695.8 436.4,695.9 436.8,695.9 437.2,695.9 437.5,695.9 437.9,696 438.2,696 438.6,696 439,696 439.3,696.1 439.7,696.1 440.1,696.1 440.4,696.1 440.8,696.2 441.1,696.2 441.5,696.2 441.9,696.2 442.2,696.3 442.6,696.3 443,696.3 443.3,696.3 443.7,696.4 444,696.4 444.4,696.4 444.8,696.4 445.1,696.5 445.5,696.5 445.9,696.5 446.2,696.5 446.6,696.6 447,696.6 447.3,696.6 447.7,696.6 448,696.6 448.4,696.7 448.8,696.7 449.1,696.7 449.5,696.7 449.9,696.8 450.2,696.8 450.6,696.8 450.9,696.8 451.3,696.8 451.7,696.9 452,696.9 452.4,696.9 452.8,696.9 453.1,696.9 453.5,697 453.8,697 454.2,697 454.6,697 454.9,697 455.3,697.1 455.7,697.1 456,697.1 456.4,697.1 456.7,697.1 457.1,697.2 457.5,697.2 457.8,697.2 458.2,697.2 458.6,697.2 458.9,697.3 459.3,697.3 459.6,697.3 460,697.3 460.4,697.3 460.7,697.3 461.1,697.4 461.5,697.4 461.8,697.4 462.2,697.4 462.6,697.4 462.9,697.4 463.3,697.5 463.6,697.5 464,697.5 464.4,697.5 464.7,697.5 465.1,697.5 465.5,697.6 465.8,697.6 466.2,697.6 466.5,697.6 466.9,697.6 467.3,697.6 467.6,697.7 468,697.7 468.4,697.7 468.7,697.7 469.1,697.7 469.4,697.7 469.8,697.7 470.2,697.8 470.5,697.8 470.9,697.8 471.3,697.8 471.6,697.8 472,697.8 472.3,697.9 472.7,697.9 473.1,697.9 473.4,697.9 473.8,697.9 474.2,697.9 474.5,697.9 474.9,697.9 475.2,698 475.6,698 476,698 476.3,698 476.7,698 477.1,698 477.4,698 477.8,698.1 478.2,698.1 478.5,698.1 478.9,698.1 479.2,698.1 479.6,698.1 480,698.1 480.3,698.1 480.7,698.2 481.1,698.2 481.4,698.2 481.8,698.2 482.1,698.2 482.5,698.2 482.9,698.2 483.2,698.2 483.6,698.3 484,698.3 484.3,698.3 484.7,698.3 485,698.3 485.4,698.3 485.8,698.3 486.1,698.3 486.5,698.4 486.9,698.4 487.2,698.4 487.6,698.4 487.9,698.4 488.3,698.4 488.7,698.4 489,698.4 489.4,698.4 489.8,698.5 490.1,698.5 490.5,698.5 490.8,698.5 491.2,698.5 491.6,698.5 491.9,698.5 492.3,698.5 492.7,698.5 493,698.5 493.4,698.6 493.8,698.6 494.1,698.6 494.5,698.6 494.8,698.6 495.2,698.6 495.6,698.6 495.9,698.6 496.3,698.6 496.7,698.6 497,698.7 497.4,698.7 497.7,698.7 498.1,698.7 498.5,698.7 498.8,698.7 499.2,698.7 499.6,698.7 499.9,698.7 500.3,698.7 500.6,698.8 501,698.8 501.4,698.8 501.7,698.8 502.1,698.8 502.5,698.8 502.8,698.8 503.2,698.8 503.5,698.8 503.9,698.8 504.3,698.8 504.6,698.9 505,698.9 505.4,698.9 505.7,698.9 506.1,698.9 506.4,698.9 506.8,698.9 507.2,698.9 507.5,698.9 507.9,698.9 508.3,698.9 508.6,698.9 509,699 509.4,699 509.7,699 510.1,699 510.4,699 510.8,699 511.2,699 511.5,699 511.9,699 512.3,699 512.6,699 513,699" fill="none" stroke="#2020d8" stroke-width="1.2"/><polyline points="77.6,707.6 78,707.6 78.3,707.6 78.7,707.6 79.1,707.6 79.4,707.6 79.8,707.6 80.2,707.6 80.5,707.6 80.9,707.6 81.2,707.6 81.6,707.6 82,707.6 82.3,707.6 82.7,707.6 83.1,707.6 83.4,707.6 83.8,707.6 84.2,707.6 84.5,707.6 84.9,707.6 85.2,707.6 85.6,707.6 86,707.6 86.3,707.6 86.7,707.6 87.1,707.6 87.4,707.6 87.8,707.6 88.1,707.5 88.5,707.5 88.9,707.5 89.2,707.5 89.6,707.5 90,707.5 90.3,707.5 90.7,707.5 91,707.5 91.4,707.5 91.8,707.5 92.1,707.5 92.5,707.5 92.9,707.5 93.2,707.5 93.6,707.5 93.9,707.5 94.3,707.5 94.7,707.5 95,707.5 95.4,707.5 95.8,707.5 96.1,707.5 96.5,707.5 96.8,707.5 97.2,707.5 97.6,707.5 97.9,707.5 98.3,707.5 98.7,707.5 99,707.5 99.4,707.5 99.8,707.5 100.1,707.5 100.5,707.5 100.8,707.4 101.2,707.4 101.6,707.4 101.9,707.4 102.3,707.4 102.7,707.4 103,707.4 103.4,707.4 103.7,707.4 104.1,707.4 104.5,707.4 104.8,707.4 105.2,707.4 105.6,707.4 105.9,707.4 106.3,707.4 106.6,707.4 107,707.4 107.4,707.4 107.7,707.4 108.1,707.4 108.5,707.4 108.8,707.4 109.2,707.4 109.5,707.4 109.9,707.4 110.3,707.4 110.6,707.4 111,707.4 111.4,707.3 111.7,707.3 112.1,707.3 112.4,707.3 112.8,707.3 113.2,707.3 113.5,707.3 113.9,707.3 114.3,707.3 114.6,707.3 115,707.3 115.4,707.3 115.7,707.3 116.1,707.3 116.4,707.3 116.8,707.3 117.2,707.3 117.5,707.3 117.9,707.3 118.3,707.3 118.6,707.3 119,707.3 119.3,707.3 119.7,707.3 120.1,707.3 120.4,707.2 120.8,707.2 121.2,707.2 121.5,707.2 121.9,707.2 122.2,707.2 122.6,707.2 123,707.2 123.3,707.2 123.7,707.2 124.1,707.2 124.4,707.2 124.8,707.2 125.1,707.2 125.5,707.2 125.9,707.2 126.2,707.2 126.6,707.2 127,707.2 127.3,707.2 127.7,707.2 128,707.1 128.4,707.1 128.8,707.1 129.1,707.1 129.5,707.1 129.9,707.1 130.2,707.1 130.6,707.1 131,707.1 131.3,707.1 131.7,707.1 132,707.1 132.4,707.1 132.8,707.1 133.1,707.1 133.5,707.1 133.9,707.1 134.2,707.1 134.6,707.1 134.9,707 135.3,707 135.7,707 136,707 136.4,707 136.8,707 137.1,707 137.5,707 137.8,707 138.2,707 138.6,707 138.9,707 139.3,707 139.7,707 140,707 140.4,707 140.7,707 141.1,706.9 141.5,706.9 141.8,706.9 142.2,706.9 142.6,706.9 142.9,706.9 143.3,706.9 143.6,706.9 144,706.9 144.4,706.9 144.7,706.9 145.1,706.9 145.5,706.9 145.8,706.9 146.2,706.9 146.6,706.8 146.9,706.8 147.3,706.8 147.6,706.8 148,706.8 148.4,706.8 148.7,706.8 149.1,706.8 149.5,706.8 149.8,706.8 150.2,706.8 150.5,706.8 150.9,706.8 151.3,706.8 151.6,706.7 152,706.7 152.4,706.7 152.7,706.7 153.1,706.7 153.4,706.7 153.8,706.7 154.2,706.7 154.5,706.7 154.9,706.7 155.3,706.7 155.6,706.7 156,706.6 156.3,706.6 156.7,706.6 157.1,706.6 157.4,706.6 157.8,706.6 158.2,706.6 158.5,706.6 158.9,706.6 159.2,706.6 159.6,706.6 160,706.5 160.3,706.5 160.7,706.5 161.1,706.5 161.4,706.5 161.8,706.5 162.2,706.5 162.5,706.5 162.9,706.5 163.2,706.5 163.6,706.4 164,706.4 164.3,706.4 164.7,706.4 165.1,706.4 165.4,706.4 165.8,706.4 166.1,706.4 166.5,706.4 166.9,706.4 167.2,706.3 167.6,706.3 168,706.3 168.3,706.3 168.7,706.3 169,706.3 169.4,706.3 169.8,706.3 170.1,706.3 170.5,706.2 170.9,706.2 171.2,706.2 171.6,706.2 171.9,706.2 172.3,706.2 172.7,706.2 173,706.2 173.4,706.1 173.8,706.1 174.1,706.1 174.5,706.1 174.9,706.1 175.2,706.1 175.6,706.1 175.9,706.1 176.3,706 176.7,706 177,706 177.4,706 177.8,706 178.1,706 178.5,706 178.8,705.9 179.2,705.9 179.6,705.9 179.9,705.9 180.3,705.9 180.7,705.9 181,705.8 181.4,705.8 181.7,705.8 182.1,705.8 182.5,705.8 182.8,705.8 183.2,705.8 183.6,705.7 183.9,705.7 184.3,705.7 184.6,705.7 185,705.7 185.4,705.7 185.7,705.6 186.1,705.6 186.5,705.6 186.8,705.6 187.2,705.6 187.5,705.5 187.9,705.5 188.3,705.5 188.6,705.5 189,705.5 189.4,705.5 189.7,705.4 190.1,705.4 190.5,705.4 190.8,705.4 191.2,705.4 191.5,705.3 191.9,705.3 192.3,705.3 192.6,705.3 193,705.2 193.4,705.2 193.7,705.2 194.1,705.2 194.4,705.2 194.8,705.1 195.2,705.1 195.5,705.1 195.9,705.1 196.3,705 196.6,705 197,705 197.3,705 197.7,705 198.1,704.9 198.4,704.9 198.8,704.9 199.2,704.9 199.5,704.8 199.9,704.8 200.2,704.8 200.6,704.7 201,704.7 201.3,704.7 201.7,704.7 202.1,704.6 202.4,704.6 202.8,704.6 203.1,704.5 203.5,704.5 203.9,704.5 204.2,704.5 204.6,704.4 205,704.4 205.3,704.4 205.7,704.3 206.1,704.3 206.4,704.3 206.8,704.2 207.1,704.2 207.5,704.2 207.9,704.1 208.2,704.1 208.6,704.1 209,704 209.3,704 209.7,704 210,703.9 210.4,703.9 210.8,703.9 211.1,703.8 211.5,703.8 211.9,703.7 212.2,703.7 212.6,703.7 212.9,703.6 213.3,703.6 213.7,703.5 214,703.5 214.4,703.5 214.8,703.4 215.1,703.4 215.5,703.3 215.8,703.3 216.2,703.2 216.6,703.2 216.9,703.1 217.3,703.1 217.7,703 218,703 218.4,703 218.7,702.9 219.1,702.9 219.5,702.8 219.8,702.7 220.2,702.7 220.6,702.6 220.9,702.6 221.3,702.5 221.7,702.5 222,702.4 222.4,702.4 222.7,702.3 223.1,702.2 223.5,702.2 223.8,702.1 224.2,702.1 224.6,702 224.9,701.9 225.3,701.9 225.6,701.8 226,701.7 226.4,701.7 226.7,701.6 227.1,701.5 227.5,701.5 227.8,701.4 228.2,701.3 228.5,701.2 228.9,701.2 229.3,701.1 229.6,701 230,700.9 230.4,700.9 230.7,700.8 231.1,700.7 231.4,700.6 231.8,700.5 232.2,700.4 232.5,700.3 232.9,700.3 233.3,700.2 233.6,700.1 234,700 234.3,699.9 234.7,699.8 235.1,699.7 235.4,699.6 235.8,699.5 236.2,699.4 236.5,699.3 236.9,699.2 237.3,699.1 237.6,698.9 238,698.8 238.3,698.7 238.7,698.6 239.1,698.5 239.4,698.3 239.8,698.2 240.2,698.1 240.5,698 240.9,697.8 241.2,697.7 241.6,697.6 242,697.4 242.3,697.3 242.7,697.1 243.1,697 243.4,696.8 243.8,696.7 244.1,696.5 244.5,696.4 244.9,696.2 245.2,696 245.6,695.9 246,695.7 246.3,695.5 246.7,695.3 247,695.1 247.4,694.9 247.8,694.7 248.1,694.6 248.5,694.3 248.9,694.1 249.2,693.9 249.6,693.7 250,693.5 250.3,693.3 250.7,693 251,692.8 251.4,692.6 251.8,692.3 252.1,692.1 252.5,691.8 252.9,691.5 253.2,691.3 253.6,691 253.9,690.7 254.3,690.4 254.7,690.1 255,689.8 255.4,689.5 255.8,689.2 256.1,688.8 256.5,688.5 256.8,688.2 257.2,687.8 257.6,687.4 257.9,687.1 258.3,686.7 258.7,686.3 259,685.9 259.4,685.5 259.7,685.1 260.1,684.6 260.5,684.2 260.8,683.7 261.2,683.2 261.6,682.7 261.9,682.2 262.3,681.7 262.6,681.2 263,680.7 263.4,680.1 263.7,679.5 264.1,678.9 264.5,678.3 264.8,677.7 265.2,677 265.6,676.3 265.9,675.7 266.3,674.9 266.6,674.2 267,673.4 267.4,672.7 267.7,671.8 268.1,671 268.5,670.1 268.8,669.3 269.2,668.3 269.5,667.4 269.9,666.4 270.3,665.4 270.6,664.3 271,663.2 271.4,662.1 271.7,660.9 272.1,659.7 272.4,658.5 272.8,657.2 273.2,655.8 273.5,654.5 273.9,653 274.3,651.5 274.6,650 275,648.4 275.3,646.7 275.7,645 276.1,643.2 276.4,641.3 276.8,639.4 277.2,637.3 277.5,635.3 277.9,633.1 278.2,630.8 278.6,628.5 279,626.1 279.3,623.5 279.7,620.9 280.1,618.2 280.4,615.3 280.8,612.4 281.2,609.4 281.5,606.2 281.9,602.9 282.2,599.5 282.6,596 283,592.3 283.3,588.5 283.7,584.6 284.1,580.5 284.4,576.3 284.8,572 285.1,567.6 285.5,563 285.9,558.3 286.2,553.5 286.6,548.5 287,543.5 287.3,538.3 287.7,533.1 288,527.9 288.4,522.5 288.8,517.2 289.1,511.8 289.5,506.5 289.9,501.2 290.2,496 290.6,491 290.9,486.1 291.3,481.3 291.7,476.8 292,472.6 292.4,468.7 292.8,465.2 293.1,462 293.5,459.2 293.8,456.9 294.2,455.1 294.6,453.8 294.9,453 295.3,452.8 295.7,453 296,453.8 296.4,455.1 296.8,456.9 297.1,459.2 297.5,462 297.8,465.2 298.2,468.7 298.6,472.6 298.9,476.8 299.3,481.3 299.7,486.1 300,491 300.4,496 300.7,501.2 301.1,506.5 301.5,511.8 301.8,517.2 302.2,522.5 302.6,527.9 302.9,533.1 303.3,538.3 303.6,543.5 304,548.5 304.4,553.5 304.7,558.3 305.1,563 305.5,567.6 305.8,572 306.2,576.3 306.5,580.5 306.9,584.6 307.3,588.5 307.6,592.3 308,596 308.4,599.5 308.7,602.9 309.1,606.2 309.4,609.4 309.8,612.4 310.2,615.3 310.5,618.2 310.9,620.9 311.3,623.5 311.6,626.1 312,628.5 312.4,630.8 312.7,633.1 313.1,635.3 313.4,637.3 313.8,639.4 314.2,641.3 314.5,643.2 314.9,645 315.3,646.7 315.6,648.4 316,650 316.3,651.5 316.7,653 317.1,654.5 317.4,655.8 317.8,657.2 318.2,658.5 318.5,659.7 318.9,660.9 319.2,662.1 319.6,663.2 320,664.3 320.3,665.4 320.7,666.4 321.1,667.4 321.4,668.3 321.8,669.3 322.1,670.1 322.5,671 322.9,671.8 323.2,672.7 323.6,673.4 324,674.2 324.3,674.9 324.7,675.7 325,676.3 325.4,677 325.8,677.7 326.1,678.3 326.5,678.9 326.9,679.5 327.2,680.1 327.6,680.7 328,681.2 328.3,681.7 328.7,682.2 329,682.7 329.4,683.2 329.8,683.7 330.1,684.2 330.5,684.6 330.9,685.1 331.2,685.5 331.6,685.9 331.9,686.3 332.3,686.7 332.7,687.1 333,687.4 333.4,687.8 333.8,688.2 334.1,688.5 334.5,688.8 334.8,689.2 335.2,689.5 335.6,689.8 335.9,690.1 336.3,690.4 336.7,690.7 337,691 337.4,691.3 337.7,691.5 338.1,691.8 338.5,692.1 338.8,692.3 339.2,692.6 339.6,692.8 339.9,693 340.3,693.3 340.7,693.5 341,693.7 341.4,693.9 341.7,694.1 342.1,694.3 342.5,694.6 342.8,694.7 343.2,694.9 343.6,695.1 343.9,695.3 344.3,695.5 344.6,695.7 345,695.9 345.4,696 345.7,696.2 346.1,696.4 346.5,696.5 346.8,696.7 347.2,696.8 347.5,697 347.9,697.1 348.3,697.3 348.6,697.4 349,697.6 349.4,697.7 349.7,697.8 350.1,698 350.4,698.1 350.8,698.2 351.2,698.3 351.5,698.5 351.9,698.6 352.3,698.7 352.6,698.8 353,698.9 353.3,699.1 353.7,699.2 354.1,699.3 354.4,699.4 354.8,699.5 355.2,699.6 355.5,699.7 355.9,699.8 356.3,699.9 356.6,700 357,700.1 357.3,700.2 357.7,700.3 358.1,700.3 358.4,700.4 358.8,700.5 359.2,700.6 359.5,700.7 359.9,700.8 360.2,700.9 360.6,700.9 361,701 361.3,701.1 361.7,701.2 362.1,701.2 362.4,701.3 362.8,701.4 363.1,701.5 363.5,701.5 363.9,701.6 364.2,701.7 364.6,701.7 365,701.8 365.3,701.9 365.7,701.9 366,702 366.4,702.1 366.8,702.1 367.1,702.2 367.5,702.2 367.9,702.3 368.2,702.4 368.6,702.4 368.9,702.5 369.3,702.5 369.7,702.6 370,702.6 370.4,702.7 370.8,702.7 371.1,702.8 371.5,702.9 371.9,702.9 372.2,703 372.6,703 372.9,703 373.3,703.1 373.7,703.1 374,703.2 374.4,703.2 374.8,703.3 375.1,703.3 375.5,703.4 375.8,703.4 376.2,703.5 376.6,703.5 376.9,703.5 377.3,703.6 377.7,703.6 378,703.7 378.4,703.7 378.7,703.7 379.1,703.8 379.5,703.8 379.8,703.9 380.2,703.9 380.6,703.9 380.9,704 381.3,704 381.6,704 382,704.1 382.4,704.1 382.7,704.1 383.1,704.2 383.5,704.2 383.8,704.2 384.2,704.3 384.5,704.3 384.9,704.3 385.3,704.4 385.6,704.4 386,704.4 386.4,704.5 386.7,704.5 387.1,704.5 387.5,704.5 387.8,704.6 388.2,704.6 388.5,704.6 388.9,704.7 389.3,704.7 389.6,704.7 390,704.7 390.4,704.8 390.7,704.8 391.1,704.8 391.4,704.9 391.8,704.9 392.2,704.9 392.5,704.9 392.9,705 393.3,705 393.6,705 394,705 394.3,705 394.7,705.1 395.1,705.1 395.4,705.1 395.8,705.1 396.2,705.2 396.5,705.2 396.9,705.2 397.2,705.2 397.6,705.2 398,705.3 398.3,705.3 398.7,705.3 399.1,705.3 399.4,705.4 399.8,705.4 400.1,705.4 400.5,705.4 400.9,705.4 401.2,705.5 401.6,705.5 402,705.5 402.3,705.5 402.7,705.5 403.1,705.5 403.4,705.6 403.8,705.6 404.1,705.6 404.5,705.6 404.9,705.6 405.2,705.7 405.6,705.7 406,705.7 406.3,705.7 406.7,705.7 407,705.7 407.4,705.8 407.8,705.8 408.1,705.8 408.5,705.8 408.9,705.8 409.2,705.8 409.6,705.8 409.9,705.9 410.3,705.9 410.7,705.9 411,705.9 411.4,705.9 411.8,705.9 412.1,706 412.5,706 412.8,706 413.2,706 413.6,706 413.9,706 414.3,706 414.7,706.1 415,706.1 415.4,706.1 415.7,706.1 416.1,706.1 416.5,706.1 416.8,706.1 417.2,706.1 417.6,706.2 417.9,706.2 418.3,706.2 418.7,706.2 419,706.2 419.4,706.2 419.7,706.2 420.1,706.2 420.5,706.3 420.8,706.3 421.2,706.3 421.6,706.3 421.9,706.3 422.3,706.3 422.6,706.3 423,706.3 423.4,706.3 423.7,706.4 424.1,706.4 424.5,706.4 424.8,706.4 425.2,706.4 425.5,706.4 425.9,706.4 426.3,706.4 426.6,706.4 427,706.4 427.4,706.5 427.7,706.5 428.1,706.5 428.4,706.5 428.8,706.5 429.2,706.5 429.5,706.5 429.9,706.5 430.3,706.5 430.6,706.5 431,706.6 431.4,706.6 431.7,706.6 432.1,706.6 432.4,706.6 432.8,706.6 433.2,706.6 433.5,706.6 433.9,706.6 434.3,706.6 434.6,706.6 435,706.7 435.3,706.7 435.7,706.7 436.1,706.7 436.4,706.7 436.8,706.7 437.2,706.7 437.5,706.7 437.9,706.7 438.2,706.7 438.6,706.7 439,706.7 439.3,706.8 439.7,706.8 440.1,706.8 440.4,706.8 440.8,706.8 441.1,706.8 441.5,706.8 441.9,706.8 442.2,706.8 442.6,706.8 443,706.8 443.3,706.8 443.7,706.8 444,706.8 444.4,706.9 444.8,706.9 445.1,706.9 445.5,706.9 445.9,706.9 446.2,706.9 446.6,706.9 447,706.9 447.3,706.9 447.7,706.9 448,706.9 448.4,706.9 448.8,706.9 449.1,706.9 449.5,706.9 449.9,707 450.2,707 450.6,707 450.9,707 451.3,707 451.7,707 452,707 452.4,707 452.8,707 453.1,707 453.5,707 453.8,707 454.2,707 454.6,707 454.9,707 455.3,707 455.7,707 456,707.1 456.4,707.1 456.7,707.1 457.1,707.1 457.5,707.1 457.8,707.1 458.2,707.1 458.6,707.1 458.9,707.1 459.3,707.1 459.6,707.1 460,707.1 460.4,707.1 460.7,707.1 461.1,707.1 461.5,707.1 461.8,707.1 462.2,707.1 462.6,707.1 462.9,707.2 463.3,707.2 463.6,707.2 464,707.2 464.4,707.2 464.7,707.2 465.1,707.2 465.5,707.2 465.8,707.2 466.2,707.2 466.5,707.2 466.9,707.2 467.3,707.2 467.6,707.2 468,707.2 468.4,707.2 468.7,707.2 469.1,707.2 469.4,707.2 469.8,707.2 470.2,707.2 470.5,707.3 470.9,707.3 471.3,707.3 471.6,707.3 472,707.3 472.3,707.3 472.7,707.3 473.1,707.3 473.4,707.3 473.8,707.3 474.2,707.3 474.5,707.3 474.9,707.3 475.2,707.3 475.6,707.3 476,707.3 476.3,707.3 476.7,707.3 477.1,707.3 477.4,707.3 477.8,707.3 478.2,707.3 478.5,707.3 478.9,707.3 479.2,707.3 479.6,707.4 480,707.4 480.3,707.4 480.7,707.4 481.1,707.4 481.4,707.4 481.8,707.4 482.1,707.4 482.5,707.4 482.9,707.4 483.2,707.4 483.6,707.4 484,707.4 484.3,707.4 484.7,707.4 485,707.4 485.4,707.4 485.8,707.4 486.1,707.4 486.5,707.4 486.9,707.4 487.2,707.4 487.6,707.4 487.9,707.4 488.3,707.4 488.7,707.4 489,707.4 489.4,707.4 489.8,707.4 490.1,707.5 490.5,707.5 490.8,707.5 491.2,707.5 491.6,707.5 491.9,707.5 492.3,707.5 492.7,707.5 493,707.5 493.4,707.5 493.8,707.5 494.1,707.5 494.5,707.5 494.8,707.5 495.2,707.5 495.6,707.5 495.9,707.5 496.3,707.5 496.7,707.5 497,707.5 497.4,707.5 497.7,707.5 498.1,707.5 498.5,707.5 498.8,707.5 499.2,707.5 499.6,707.5 499.9,707.5 500.3,707.5 500.6,707.5 501,707.5 501.4,707.5 501.7,707.5 502.1,707.5 502.5,707.5 502.8,707.6 503.2,707.6 503.5,707.6 503.9,707.6 504.3,707.6 504.6,707.6 505,707.6 505.4,707.6 505.7,707.6 506.1,707.6 506.4,707.6 506.8,707.6 507.2,707.6 507.5,707.6 507.9,707.6 508.3,707.6 508.6,707.6 509,707.6 509.4,707.6 509.7,707.6 510.1,707.6 510.4,707.6 510.8,707.6 511.2,707.6 511.5,707.6 511.9,707.6 512.3,707.6 512.6,707.6 513,707.6" fill="none" stroke="#58b858" stroke-width="1.2"/><rect x="531" y="398.5" width="134.3" height="226.7" fill="#fff" stroke="#000" stroke-width="1.2"/><rect x="561.2" y="413.9" width="9.5" height="9.5" fill="#2b8cff" stroke="#1030d0" stroke-width="1"/><polygon points="566,443.8 559.8,455.1 572.2,455.1" fill="#2b8cff" stroke="#1030d0" stroke-width="1"/><circle cx="566" cy="481" r="5.6" fill="#2b8cff" stroke="#1030d0" stroke-width="1"/><rect x="561.2" y="508.9" width="9.5" height="9.5" fill="#3aa63a" stroke="#1f7a1f" stroke-width="1"/><polygon points="566,539.1 559.8,550.4 572.2,550.4" fill="#3aa63a" stroke="#1f7a1f" stroke-width="1"/><line x1="541.4" y1="568.8" x2="590" y2="568.8" stroke="#2020d8" stroke-width="1.2"/><line x1="541.4" y1="598.6" x2="590" y2="598.6" stroke="#58b858" stroke-width="1.2"/><g font-family='"Liberation Sans", sans-serif'><text transform="translate(595.76,415.00) scale(1.000,1)" font-size="17.50" fill="#1a1a1a">X</text><text transform="translate(608.13,424.00) scale(1.000,1)" font-size="13.30" fill="#1a1a1a">A</text><rect x="608.2" y="401.80" width="7.1" height="1.2" fill="#1a1a1a"/><text transform="translate(595.76,450.60) scale(1.000,1)" font-size="17.50" fill="#1a1a1a">X</text><text transform="translate(608.13,459.60) scale(1.000,1)" font-size="13.30" fill="#1a1a1a">A</text><text transform="translate(595.33,480.90) scale(1.000,1)" font-size="17.50" fill="#1a1a1a">2X</text><text transform="translate(618.23,489.90) scale(1.000,1)" font-size="13.30" fill="#1a1a1a">A</text><text transform="translate(595.76,510.70) scale(1.000,1)" font-size="17.50" fill="#1a1a1a">X</text><text transform="translate(607.64,519.70) scale(1.000,1)" font-size="13.30" fill="#1a1a1a">B</text><rect x="608.2" y="497.50" width="7.1" height="1.2" fill="#1a1a1a"/><text transform="translate(595.76,545.80) scale(1.000,1)" font-size="17.50" fill="#1a1a1a">X</text><text transform="translate(607.64,554.80) scale(1.000,1)" font-size="13.30" fill="#1a1a1a">B</text><text transform="translate(595.89,575.90) scale(1.033,1)" font-size="17.50" fill="#1a1a1a">QD</text><text transform="translate(622.50,584.90) scale(1.000,1)" font-size="13.30" fill="#1a1a1a">a</text><text transform="translate(629.72,575.90) scale(1.000,1)" font-size="17.50" fill="#1a1a1a">,</text><text transform="translate(640.85,575.90) scale(0.969,1)" font-size="17.50" fill="#1a1a1a">fit</text><text transform="translate(595.89,606.40) scale(1.033,1)" font-size="17.50" fill="#1a1a1a">QD</text><text transform="translate(622.24,615.40) scale(1.000,1)" font-size="13.30" fill="#1a1a1a">b</text><text transform="translate(629.72,606.40) scale(1.000,1)" font-size="17.50" fill="#1a1a1a">,</text><text transform="translate(640.85,606.40) scale(0.969,1)" font-size="17.50" fill="#1a1a1a">fit</text></g><g font-family='"Liberation Sans", sans-serif' font-size="19.5" fill="#1a1a1a"><rect x="77" y="786.3" width="436" height="234.7" fill="none" stroke="#000" stroke-width="1"/><line x1="77.6" y1="1021" x2="77.6" y2="1017" stroke="#000" stroke-width="0.8"/><line x1="77.6" y1="786.3" x2="77.6" y2="790.3" stroke="#000" stroke-width="0.8"/><line x1="92.1" y1="1021" x2="92.1" y2="1019" stroke="#000" stroke-width="0.8"/><line x1="92.1" y1="786.3" x2="92.1" y2="788.3" stroke="#000" stroke-width="0.8"/><line x1="106.6" y1="1021" x2="106.6" y2="1019" stroke="#000" stroke-width="0.8"/><line x1="106.6" y1="786.3" x2="106.6" y2="788.3" stroke="#000" stroke-width="0.8"/><line x1="121.2" y1="1021" x2="121.2" y2="1019" stroke="#000" stroke-width="0.8"/><line x1="121.2" y1="786.3" x2="121.2" y2="788.3" stroke="#000" stroke-width="0.8"/><line x1="135.7" y1="1021" x2="135.7" y2="1019" stroke="#000" stroke-width="0.8"/><line x1="135.7" y1="786.3" x2="135.7" y2="788.3" stroke="#000" stroke-width="0.8"/><line x1="150.2" y1="1021" x2="150.2" y2="1017" stroke="#000" stroke-width="0.8"/><line x1="150.2" y1="786.3" x2="150.2" y2="790.3" stroke="#000" stroke-width="0.8"/><line x1="164.7" y1="1021" x2="164.7" y2="1019" stroke="#000" stroke-width="0.8"/><line x1="164.7" y1="786.3" x2="164.7" y2="788.3" stroke="#000" stroke-width="0.8"/><line x1="179.2" y1="1021" x2="179.2" y2="1019" stroke="#000" stroke-width="0.8"/><line x1="179.2" y1="786.3" x2="179.2" y2="788.3" stroke="#000" stroke-width="0.8"/><line x1="193.7" y1="1021" x2="193.7" y2="1019" stroke="#000" stroke-width="0.8"/><line x1="193.7" y1="786.3" x2="193.7" y2="788.3" stroke="#000" stroke-width="0.8"/><line x1="208.2" y1="1021" x2="208.2" y2="1019" stroke="#000" stroke-width="0.8"/><line x1="208.2" y1="786.3" x2="208.2" y2="788.3" stroke="#000" stroke-width="0.8"/><line x1="222.7" y1="1021" x2="222.7" y2="1017" stroke="#000" stroke-width="0.8"/><line x1="222.7" y1="786.3" x2="222.7" y2="790.3" stroke="#000" stroke-width="0.8"/><line x1="237.3" y1="1021" x2="237.3" y2="1019" stroke="#000" stroke-width="0.8"/><line x1="237.3" y1="786.3" x2="237.3" y2="788.3" stroke="#000" stroke-width="0.8"/><line x1="251.8" y1="1021" x2="251.8" y2="1019" stroke="#000" stroke-width="0.8"/><line x1="251.8" y1="786.3" x2="251.8" y2="788.3" stroke="#000" stroke-width="0.8"/><line x1="266.3" y1="1021" x2="266.3" y2="1019" stroke="#000" stroke-width="0.8"/><line x1="266.3" y1="786.3" x2="266.3" y2="788.3" stroke="#000" stroke-width="0.8"/><line x1="280.8" y1="1021" x2="280.8" y2="1019" stroke="#000" stroke-width="0.8"/><line x1="280.8" y1="786.3" x2="280.8" y2="788.3" stroke="#000" stroke-width="0.8"/><line x1="295.3" y1="1021" x2="295.3" y2="1017" stroke="#000" stroke-width="0.8"/><line x1="295.3" y1="786.3" x2="295.3" y2="790.3" stroke="#000" stroke-width="0.8"/><line x1="309.8" y1="1021" x2="309.8" y2="1019" stroke="#000" stroke-width="0.8"/><line x1="309.8" y1="786.3" x2="309.8" y2="788.3" stroke="#000" stroke-width="0.8"/><line x1="324.3" y1="1021" x2="324.3" y2="1019" stroke="#000" stroke-width="0.8"/><line x1="324.3" y1="786.3" x2="324.3" y2="788.3" stroke="#000" stroke-width="0.8"/><line x1="338.8" y1="1021" x2="338.8" y2="1019" stroke="#000" stroke-width="0.8"/><line x1="338.8" y1="786.3" x2="338.8" y2="788.3" stroke="#000" stroke-width="0.8"/><line x1="353.3" y1="1021" x2="353.3" y2="1019" stroke="#000" stroke-width="0.8"/><line x1="353.3" y1="786.3" x2="353.3" y2="788.3" stroke="#000" stroke-width="0.8"/><line x1="367.9" y1="1021" x2="367.9" y2="1017" stroke="#000" stroke-width="0.8"/><line x1="367.9" y1="786.3" x2="367.9" y2="790.3" stroke="#000" stroke-width="0.8"/><line x1="382.4" y1="1021" x2="382.4" y2="1019" stroke="#000" stroke-width="0.8"/><line x1="382.4" y1="786.3" x2="382.4" y2="788.3" stroke="#000" stroke-width="0.8"/><line x1="396.9" y1="1021" x2="396.9" y2="1019" stroke="#000" stroke-width="0.8"/><line x1="396.9" y1="786.3" x2="396.9" y2="788.3" stroke="#000" stroke-width="0.8"/><line x1="411.4" y1="1021" x2="411.4" y2="1019" stroke="#000" stroke-width="0.8"/><line x1="411.4" y1="786.3" x2="411.4" y2="788.3" stroke="#000" stroke-width="0.8"/><line x1="425.9" y1="1021" x2="425.9" y2="1019" stroke="#000" stroke-width="0.8"/><line x1="425.9" y1="786.3" x2="425.9" y2="788.3" stroke="#000" stroke-width="0.8"/><line x1="440.4" y1="1021" x2="440.4" y2="1017" stroke="#000" stroke-width="0.8"/><line x1="440.4" y1="786.3" x2="440.4" y2="790.3" stroke="#000" stroke-width="0.8"/><line x1="454.9" y1="1021" x2="454.9" y2="1019" stroke="#000" stroke-width="0.8"/><line x1="454.9" y1="786.3" x2="454.9" y2="788.3" stroke="#000" stroke-width="0.8"/><line x1="469.4" y1="1021" x2="469.4" y2="1019" stroke="#000" stroke-width="0.8"/><line x1="469.4" y1="786.3" x2="469.4" y2="788.3" stroke="#000" stroke-width="0.8"/><line x1="484" y1="1021" x2="484" y2="1019" stroke="#000" stroke-width="0.8"/><line x1="484" y1="786.3" x2="484" y2="788.3" stroke="#000" stroke-width="0.8"/><line x1="498.5" y1="1021" x2="498.5" y2="1019" stroke="#000" stroke-width="0.8"/><line x1="498.5" y1="786.3" x2="498.5" y2="788.3" stroke="#000" stroke-width="0.8"/><line x1="513" y1="1021" x2="513" y2="1017" stroke="#000" stroke-width="0.8"/><line x1="513" y1="786.3" x2="513" y2="790.3" stroke="#000" stroke-width="0.8"/><text transform="translate(62.48,1044.29) scale(1.030,1)" font-size="19.40" fill="#1a1a1a">−6</text><text transform="translate(134.89,1044.29) scale(1.030,1)" font-size="19.40" fill="#1a1a1a">−4</text><text transform="translate(207.65,1044.39) scale(1.030,1)" font-size="19.40" fill="#1a1a1a">−2</text><text transform="translate(290.25,1044.29) scale(1.030,1)" font-size="19.40" fill="#1a1a1a">0</text><text transform="translate(362.81,1044.39) scale(1.030,1)" font-size="19.40" fill="#1a1a1a">2</text><text transform="translate(435.42,1044.29) scale(1.030,1)" font-size="19.40" fill="#1a1a1a">4</text><text transform="translate(507.89,1044.29) scale(1.030,1)" font-size="19.40" fill="#1a1a1a">6</text><line x1="77" y1="1022.1" x2="79" y2="1022.1" stroke="#000" stroke-width="0.8"/><line x1="513" y1="1022.1" x2="511" y2="1022.1" stroke="#000" stroke-width="0.8"/><line x1="77" y1="1012.3" x2="79" y2="1012.3" stroke="#000" stroke-width="0.8"/><line x1="513" y1="1012.3" x2="511" y2="1012.3" stroke="#000" stroke-width="0.8"/><line x1="77" y1="1002.5" x2="81" y2="1002.5" stroke="#000" stroke-width="0.8"/><line x1="513" y1="1002.5" x2="509" y2="1002.5" stroke="#000" stroke-width="0.8"/><line x1="77" y1="992.7" x2="79" y2="992.7" stroke="#000" stroke-width="0.8"/><line x1="513" y1="992.7" x2="511" y2="992.7" stroke="#000" stroke-width="0.8"/><line x1="77" y1="982.9" x2="79" y2="982.9" stroke="#000" stroke-width="0.8"/><line x1="513" y1="982.9" x2="511" y2="982.9" stroke="#000" stroke-width="0.8"/><line x1="77" y1="973.1" x2="79" y2="973.1" stroke="#000" stroke-width="0.8"/><line x1="513" y1="973.1" x2="511" y2="973.1" stroke="#000" stroke-width="0.8"/><line x1="77" y1="963.3" x2="79" y2="963.3" stroke="#000" stroke-width="0.8"/><line x1="513" y1="963.3" x2="511" y2="963.3" stroke="#000" stroke-width="0.8"/><line x1="77" y1="953.5" x2="81" y2="953.5" stroke="#000" stroke-width="0.8"/><line x1="513" y1="953.5" x2="509" y2="953.5" stroke="#000" stroke-width="0.8"/><line x1="77" y1="943.8" x2="79" y2="943.8" stroke="#000" stroke-width="0.8"/><line x1="513" y1="943.8" x2="511" y2="943.8" stroke="#000" stroke-width="0.8"/><line x1="77" y1="934" x2="79" y2="934" stroke="#000" stroke-width="0.8"/><line x1="513" y1="934" x2="511" y2="934" stroke="#000" stroke-width="0.8"/><line x1="77" y1="924.2" x2="79" y2="924.2" stroke="#000" stroke-width="0.8"/><line x1="513" y1="924.2" x2="511" y2="924.2" stroke="#000" stroke-width="0.8"/><line x1="77" y1="914.4" x2="79" y2="914.4" stroke="#000" stroke-width="0.8"/><line x1="513" y1="914.4" x2="511" y2="914.4" stroke="#000" stroke-width="0.8"/><line x1="77" y1="904.6" x2="81" y2="904.6" stroke="#000" stroke-width="0.8"/><line x1="513" y1="904.6" x2="509" y2="904.6" stroke="#000" stroke-width="0.8"/><line x1="77" y1="894.8" x2="79" y2="894.8" stroke="#000" stroke-width="0.8"/><line x1="513" y1="894.8" x2="511" y2="894.8" stroke="#000" stroke-width="0.8"/><line x1="77" y1="885" x2="79" y2="885" stroke="#000" stroke-width="0.8"/><line x1="513" y1="885" x2="511" y2="885" stroke="#000" stroke-width="0.8"/><line x1="77" y1="875.2" x2="79" y2="875.2" stroke="#000" stroke-width="0.8"/><line x1="513" y1="875.2" x2="511" y2="875.2" stroke="#000" stroke-width="0.8"/><line x1="77" y1="865.4" x2="79" y2="865.4" stroke="#000" stroke-width="0.8"/><line x1="513" y1="865.4" x2="511" y2="865.4" stroke="#000" stroke-width="0.8"/><line x1="77" y1="855.6" x2="81" y2="855.6" stroke="#000" stroke-width="0.8"/><line x1="513" y1="855.6" x2="509" y2="855.6" stroke="#000" stroke-width="0.8"/><line x1="77" y1="845.9" x2="79" y2="845.9" stroke="#000" stroke-width="0.8"/><line x1="513" y1="845.9" x2="511" y2="845.9" stroke="#000" stroke-width="0.8"/><line x1="77" y1="836.1" x2="79" y2="836.1" stroke="#000" stroke-width="0.8"/><line x1="513" y1="836.1" x2="511" y2="836.1" stroke="#000" stroke-width="0.8"/><line x1="77" y1="826.3" x2="79" y2="826.3" stroke="#000" stroke-width="0.8"/><line x1="513" y1="826.3" x2="511" y2="826.3" stroke="#000" stroke-width="0.8"/><line x1="77" y1="816.5" x2="79" y2="816.5" stroke="#000" stroke-width="0.8"/><line x1="513" y1="816.5" x2="511" y2="816.5" stroke="#000" stroke-width="0.8"/><line x1="77" y1="806.7" x2="81" y2="806.7" stroke="#000" stroke-width="0.8"/><line x1="513" y1="806.7" x2="509" y2="806.7" stroke="#000" stroke-width="0.8"/><line x1="77" y1="796.9" x2="79" y2="796.9" stroke="#000" stroke-width="0.8"/><line x1="513" y1="796.9" x2="511" y2="796.9" stroke="#000" stroke-width="0.8"/><line x1="77" y1="787.1" x2="79" y2="787.1" stroke="#000" stroke-width="0.8"/><line x1="513" y1="787.1" x2="511" y2="787.1" stroke="#000" stroke-width="0.8"/><text transform="translate(61.70,813.39) scale(1.000,1)" font-size="19.40" fill="#1a1a1a">1</text><text transform="translate(45.31,862.34) scale(1.000,1)" font-size="19.40" fill="#1a1a1a">0.5</text><text transform="translate(54.41,911.29) scale(1.000,1)" font-size="19.40" fill="#1a1a1a">0</text><text transform="translate(33.96,960.24) scale(1.000,1)" font-size="19.40" fill="#1a1a1a">−0.5</text><text transform="translate(50.35,1009.19) scale(1.000,1)" font-size="19.40" fill="#1a1a1a">−1</text></g><g font-family='"Liberation Sans", sans-serif'><text transform="translate(231.62,1066.22) scale(1.000,1)" font-size="21.00" fill="#1a1a1a">Detuning (meV)</text></g><g font-family='"Liberation Sans", sans-serif'><text transform="translate(24.64,929.46) rotate(-90) scale(0.980,1)" font-size="21.20" fill="#1a1a1a">DOLP</text></g><line x1="295.3" y1="786.3" x2="295.3" y2="1021" stroke="#000" stroke-width="2" stroke-dasharray="5.5,4.3"/><line x1="77" y1="904.6" x2="513" y2="904.6" stroke="#000" stroke-width="2" stroke-dasharray="5.5,4.3"/><rect x="127.1" y="880.5" width="9.5" height="9.5" fill="#2b8cff" stroke="#1030d0" stroke-width="1"/><rect x="136.8" y="864.9" width="9.5" height="9.5" fill="#2b8cff" stroke="#1030d0" stroke-width="1"/><rect x="148.2" y="837.9" width="9.5" height="9.5" fill="#2b8cff" stroke="#1030d0" stroke-width="1"/><rect x="157.9" y="843.6" width="9.5" height="9.5" fill="#2b8cff" stroke="#1030d0" stroke-width="1"/><rect x="168.4" y="837.9" width="9.5" height="9.5" fill="#2b8cff" stroke="#1030d0" stroke-width="1"/><rect x="176.6" y="835.5" width="9.5" height="9.5" fill="#2b8cff" stroke="#1030d0" stroke-width="1"/><rect x="179.8" y="832.2" width="9.5" height="9.5" fill="#2b8cff" stroke="#1030d0" stroke-width="1"/><rect x="183.1" y="830.6" width="9.5" height="9.5" fill="#2b8cff" stroke="#1030d0" stroke-width="1"/><rect x="235.2" y="814.4" width="9.5" height="9.5" fill="#3aa63a" stroke="#1f7a1f" stroke-width="1"/><rect x="246.7" y="817" width="9.5" height="9.5" fill="#3aa63a" stroke="#1f7a1f" stroke-width="1"/><rect x="257.1" y="814.4" width="9.5" height="9.5" fill="#3aa63a" stroke="#1f7a1f" stroke-width="1"/><rect x="269.4" y="808.9" width="9.5" height="9.5" fill="#3aa63a" stroke="#1f7a1f" stroke-width="1"/><rect x="279.6" y="818" width="9.5" height="9.5" fill="#3aa63a" stroke="#1f7a1f" stroke-width="1"/><rect x="288.9" y="807.9" width="9.5" height="9.5" fill="#3aa63a" stroke="#1f7a1f" stroke-width="1"/><rect x="290.9" y="807" width="9.5" height="9.5" fill="#3aa63a" stroke="#1f7a1f" stroke-width="1"/><rect x="297.1" y="811.1" width="9.5" height="9.5" fill="#3aa63a" stroke="#1f7a1f" stroke-width="1"/><rect x="300.1" y="806" width="9.5" height="9.5" fill="#3aa63a" stroke="#1f7a1f" stroke-width="1"/><rect x="304.2" y="807" width="9.5" height="9.5" fill="#3aa63a" stroke="#1f7a1f" stroke-width="1"/><polygon points="213.2,817.8 206.9,829.1 219.4,829.1" fill="#2b8cff" stroke="#1030d0" stroke-width="1"/><polygon points="240,819.4 233.8,830.7 246.2,830.7" fill="#2b8cff" stroke="#1030d0" stroke-width="1"/><polygon points="265.4,811.3 259.1,822.6 271.6,822.6" fill="#2b8cff" stroke="#1030d0" stroke-width="1"/><polygon points="285.7,805.8 279.4,817.1 291.9,817.1" fill="#2b8cff" stroke="#1030d0" stroke-width="1"/><polygon points="305.9,802.5 299.6,813.8 312.1,813.8" fill="#2b8cff" stroke="#1030d0" stroke-width="1"/><polygon points="319.4,809.8 313.1,821.1 325.6,821.1" fill="#2b8cff" stroke="#1030d0" stroke-width="1"/><polygon points="329.8,813.9 323.6,825.2 336.1,825.2" fill="#2b8cff" stroke="#1030d0" stroke-width="1"/><polygon points="342.2,823.2 335.9,834.5 348.4,834.5" fill="#2b8cff" stroke="#1030d0" stroke-width="1"/><polygon points="351.6,838.8 345.4,850.1 357.9,850.1" fill="#2b8cff" stroke="#1030d0" stroke-width="1"/><polygon points="363,845 356.8,856.3 369.2,856.3" fill="#2b8cff" stroke="#1030d0" stroke-width="1"/><polygon points="369.2,855.4 362.9,866.7 375.4,866.7" fill="#2b8cff" stroke="#1030d0" stroke-width="1"/><polygon points="373.4,858.5 367.1,869.8 379.6,869.8" fill="#2b8cff" stroke="#1030d0" stroke-width="1"/><polygon points="376.5,865.8 370.2,877.1 382.8,877.1" fill="#2b8cff" stroke="#1030d0" stroke-width="1"/><circle cx="373.3" cy="935.6" r="5.6" fill="#2b8cff" stroke="#1030d0" stroke-width="1"/><circle cx="383.8" cy="925.6" r="5.6" fill="#2b8cff" stroke="#1030d0" stroke-width="1"/><circle cx="396.2" cy="927.1" r="5.6" fill="#2b8cff" stroke="#1030d0" stroke-width="1"/><circle cx="406.2" cy="947.8" r="5.6" fill="#2b8cff" stroke="#1030d0" stroke-width="1"/><circle cx="417.8" cy="946.7" r="5.6" fill="#2b8cff" stroke="#1030d0" stroke-width="1"/><circle cx="424.4" cy="958.2" r="5.6" fill="#2b8cff" stroke="#1030d0" stroke-width="1"/><circle cx="429.6" cy="938.2" r="5.6" fill="#2b8cff" stroke="#1030d0" stroke-width="1"/><circle cx="430.4" cy="947.1" r="5.6" fill="#2b8cff" stroke="#1030d0" stroke-width="1"/><polygon points="337.7,830.5 331.4,841.8 343.9,841.8" fill="#3aa63a" stroke="#1f7a1f" stroke-width="1"/><polygon points="365,886.9 358.8,898.2 371.2,898.2" fill="#3aa63a" stroke="#1f7a1f" stroke-width="1"/><polygon points="385.7,895.3 379.4,906.6 391.9,906.6" fill="#3aa63a" stroke="#1f7a1f" stroke-width="1"/><polygon points="407.7,899.6 401.4,910.9 413.9,910.9" fill="#3aa63a" stroke="#1f7a1f" stroke-width="1"/><polygon points="420,946 413.8,957.3 426.2,957.3" fill="#3aa63a" stroke="#1f7a1f" stroke-width="1"/><polygon points="431.1,961.6 424.9,972.9 437.4,972.9" fill="#3aa63a" stroke="#1f7a1f" stroke-width="1"/><polygon points="443.3,973.8 437.1,985.1 449.6,985.1" fill="#3aa63a" stroke="#1f7a1f" stroke-width="1"/><polygon points="454.4,984.2 448.1,995.5 460.6,995.5" fill="#3aa63a" stroke="#1f7a1f" stroke-width="1"/><polygon points="467.1,970.9 460.9,982.2 473.4,982.2" fill="#3aa63a" stroke="#1f7a1f" stroke-width="1"/><polygon points="478.9,986 472.6,997.3 485.1,997.3" fill="#3aa63a" stroke="#1f7a1f" stroke-width="1"/><polygon points="472.7,994.9 466.4,1006.2 478.9,1006.2" fill="#3aa63a" stroke="#1f7a1f" stroke-width="1"/><polygon points="478.9,994.9 472.6,1006.2 485.1,1006.2" fill="#3aa63a" stroke="#1f7a1f" stroke-width="1"/><polyline points="77,874.6 78.7,884.4 80.4,873.7 82.1,880.6 83.8,870.7 85.5,884.4 87.2,870.7 88.9,883.3 90.6,869.6 92.3,878.5 94,868.1 95.7,877.3 97.4,879.6 99.1,868.1 100.8,873.1 102.5,864 104.2,859.9 105.9,876.2 107.6,875.4 109.3,863.1 111,872 112.7,865.8 114.4,869.8 116.1,862.9 117.8,875.5 119.5,864.4 121.2,869.2 122.9,862.8 124.6,869 126.3,863.1 128,867.5 129.7,859.5 131.4,868.1 133.1,860.1 134.8,859.1 136.5,860.1 138.2,856.8 139.9,866.3 141.6,855.3 143.3,865.8 145,854.5 146.7,862.1 148.4,856.5 150.1,860.4 151.8,853.3 153.5,862.8 155.2,854.6 156.9,858.5 158.6,854 160.3,850 162,860.4 163.7,852.7 165.4,861.4 167.1,849.7 168.8,860.2 170.5,847.6 172.2,854.8 173.9,852.8 175.6,854.1 177.3,844.9 179,851 180.7,846.4 182.4,843 184.1,850.1 185.8,839.5 187.5,846.3 189.2,842.6 190.9,846.8 192.6,842 194.3,844.1 196,844.8 197.7,843.1 199.4,838.1 201.1,836.2 202.8,842.1 204.5,835.1 206.2,841.6 207.9,835.2 209.6,838.9 211.3,834.6 213,832.4 214.7,840.3 216.4,832.4 218.1,835.6 219.8,832.8 221.5,834.8 223.2,830.8 224.9,834.4 226.6,830.4 228.3,831.6 230,829.4 231.7,831.6 233.4,827.5 235.1,831.8 236.8,830.7 238.5,826.4 240.2,828.3 241.9,825.1 243.6,826.7 245.3,824.6 247,826.1 248.7,825.2 250.4,823 252.1,823.8 253.8,822.1 255.5,823.7 257.2,821.6 258.9,821.9 260.6,820.2 262.3,821.1 264,820.1 265.7,818.9 267.4,819.3 269.1,817.9 270.8,817.2 272.5,816.9 274.2,817.6 275.9,816.3 277.6,816.3 279.3,816.8 281,816 282.7,816.4 284.4,815.1 286.1,815.7 287.8,814.8 289.5,815.4 291.2,814.4 292.9,814.5 294.6,813.5 296.3,813.7 298,813.4 299.7,813.9 301.4,813.7 303.1,814.2 304.8,814.3 306.5,813.9 308.2,814.2 309.9,814.3 311.6,814.7 313.3,815.9 315,816.7 316.7,817.3 318.4,818.4 320.1,819.7 321.8,819.8 323.5,821.1 325.2,821.7 326.9,823 328.6,823.4 330.3,824 332,825.6 333.7,826 335.4,827.2 337.1,827.7 338.8,829.3 340.5,830.6 342.2,832.4 343.9,833.7 345.6,835.7 347.3,836.9 349,839.1 350.7,840.1 352.4,841.7 354.1,843.8 355.8,845.1 357.5,846.9 359.2,848.2 360.9,849.8 362.6,851.8 364.3,853.5 366,856.4 367.7,858.3 369.4,861.1 371.1,863 372.8,865.9 374.5,867.6 376.2,868.7 377.9,874.2 379.6,872.9 381.3,879.8 383,882.3 384.7,888.5 386.4,889.2 388.1,893 389.8,893.1 391.5,896.3 393.2,895 394.9,901.2 396.6,898.4 398.3,904.5 400,901.7 401.7,907.9 403.4,906.4 405.1,910.8 406.8,911.2 408.5,916.2 410.2,916.2 411.9,922.7 413.6,921.4 415.3,923.4 417,928.6 418.7,927.8 420.4,932.5 422.1,935.9 423.8,934.9 425.5,940.5 427.2,938.8 428.9,944.1 430.6,943.2 432.3,949.2 434,948.7 435.7,954 437.4,952.7 439.1,957 440.8,954.7 442.5,956.2 444.2,962.7 445.9,958.3 447.6,961.7 449.3,959.8 451,962.6 452.7,959.8 454.4,964.3 456.1,960.5 457.8,960.5 459.5,965.8 461.2,962.5 462.9,963.3 464.6,966.4 466.3,964.4 468,967.7 469.7,965.4 471.4,964.9 473.1,969.2 474.8,969.9 476.5,966 478.2,968.7 479.9,968.7 481.6,965.5 483.3,969 485,965.5 486.7,970.6 488.4,965.9 490.1,970.5 491.8,970 493.5,965.5 495.2,966.1 496.9,971 498.6,967.7 500.3,967.5 502,971 503.7,970.4 505.4,967.7 507.1,971 508.8,965.9 510.5,971.8 512.2,968.5" fill="none" stroke="#111" stroke-width="1.1" stroke-linejoin="round"/><rect x="531.5" y="786.3" width="142" height="213.7" fill="#fff" stroke="#000" stroke-width="1.2"/><rect x="561.2" y="802.4" width="9.5" height="9.5" fill="#2b8cff" stroke="#1030d0" stroke-width="1"/><polygon points="566,832.6 559.8,843.9 572.2,843.9" fill="#2b8cff" stroke="#1030d0" stroke-width="1"/><circle cx="566" cy="869.6" r="5.6" fill="#2b8cff" stroke="#1030d0" stroke-width="1"/><rect x="561.2" y="897.6" width="9.5" height="9.5" fill="#3aa63a" stroke="#1f7a1f" stroke-width="1"/><polygon points="566,927.9 559.8,939.2 572.2,939.2" fill="#3aa63a" stroke="#1f7a1f" stroke-width="1"/><line x1="541.8" y1="968.3" x2="590.7" y2="968.3" stroke="#111" stroke-width="1"/><g font-family='"Liberation Sans", sans-serif'><text transform="translate(595.76,803.70) scale(1.000,1)" font-size="17.50" fill="#1a1a1a">X</text><text transform="translate(608.13,812.70) scale(1.000,1)" font-size="13.30" fill="#1a1a1a">A</text><rect x="608.2" y="790.50" width="7.1" height="1.2" fill="#1a1a1a"/><text transform="translate(595.76,839.30) scale(1.000,1)" font-size="17.50" fill="#1a1a1a">X</text><text transform="translate(608.13,848.30) scale(1.000,1)" font-size="13.30" fill="#1a1a1a">A</text><text transform="translate(595.33,869.60) scale(1.000,1)" font-size="17.50" fill="#1a1a1a">2X</text><text transform="translate(618.23,878.60) scale(1.000,1)" font-size="13.30" fill="#1a1a1a">A</text><text transform="translate(595.76,899.40) scale(1.000,1)" font-size="17.50" fill="#1a1a1a">X</text><text transform="translate(607.64,908.40) scale(1.000,1)" font-size="13.30" fill="#1a1a1a">B</text><rect x="608.2" y="886.20" width="7.1" height="1.2" fill="#1a1a1a"/><text transform="translate(595.76,934.50) scale(1.000,1)" font-size="17.50" fill="#1a1a1a">X</text><text transform="translate(607.64,943.50) scale(1.000,1)" font-size="13.30" fill="#1a1a1a">B</text><text transform="translate(596.33,964.60) scale(1.023,1)" font-size="17.50" fill="#1a1a1a">full</text><text transform="translate(596.06,986.30) scale(1.033,1)" font-size="17.50" fill="#1a1a1a">spectrum</text></g><g font-family='"Liberation Sans", sans-serif' font-size="18.5"><line x1="77" y1="1187.6" x2="77" y2="1183.1" stroke="#222" stroke-width="1.6"/><line x1="77" y1="1092.2" x2="77" y2="1096.7" stroke="#222" stroke-width="1.6"/><text transform="translate(63.94,1211.83) scale(1.150,1)" font-size="18.30" fill="#333333">-4</text><line x1="139.3" y1="1187.6" x2="139.3" y2="1183.1" stroke="#222" stroke-width="1.6"/><line x1="139.3" y1="1092.2" x2="139.3" y2="1096.7" stroke="#222" stroke-width="1.6"/><text transform="translate(126.45,1212.01) scale(1.150,1)" font-size="18.30" fill="#333333">-3</text><line x1="201.7" y1="1187.6" x2="201.7" y2="1183.1" stroke="#222" stroke-width="1.6"/><line x1="201.7" y1="1092.2" x2="201.7" y2="1096.7" stroke="#222" stroke-width="1.6"/><text transform="translate(188.87,1212.01) scale(1.150,1)" font-size="18.30" fill="#333333">-2</text><line x1="264" y1="1187.6" x2="264" y2="1183.1" stroke="#222" stroke-width="1.6"/><line x1="264" y1="1092.2" x2="264" y2="1096.7" stroke="#222" stroke-width="1.6"/><text transform="translate(251.23,1211.83) scale(1.150,1)" font-size="18.30" fill="#333333">-1</text><line x1="326.4" y1="1187.6" x2="326.4" y2="1183.1" stroke="#222" stroke-width="1.6"/><line x1="326.4" y1="1092.2" x2="326.4" y2="1096.7" stroke="#222" stroke-width="1.6"/><text transform="translate(320.16,1212.01) scale(1.150,1)" font-size="18.30" fill="#333333">0</text><line x1="388.8" y1="1187.6" x2="388.8" y2="1183.1" stroke="#222" stroke-width="1.6"/><line x1="388.8" y1="1092.2" x2="388.8" y2="1096.7" stroke="#222" stroke-width="1.6"/><text transform="translate(382.26,1211.83) scale(1.150,1)" font-size="18.30" fill="#333333">1</text><line x1="451.1" y1="1187.6" x2="451.1" y2="1183.1" stroke="#222" stroke-width="1.6"/><line x1="451.1" y1="1092.2" x2="451.1" y2="1096.7" stroke="#222" stroke-width="1.6"/><text transform="translate(444.88,1212.01) scale(1.150,1)" font-size="18.30" fill="#333333">2</text><line x1="513.5" y1="1187.6" x2="513.5" y2="1183.1" stroke="#222" stroke-width="1.6"/><line x1="513.5" y1="1092.2" x2="513.5" y2="1096.7" stroke="#222" stroke-width="1.6"/><text transform="translate(507.29,1212.01) scale(1.150,1)" font-size="18.30" fill="#333333">3</text><line x1="77" y1="1152" x2="81.5" y2="1152" stroke="#222" stroke-width="1.6"/><line x1="513.5" y1="1152" x2="509" y2="1152" stroke="#222" stroke-width="1.6"/><text transform="translate(41.17,1159.71) scale(1.139,1)" font-size="18.30" fill="#333333">0.5</text><line x1="77" y1="1111.5" x2="81.5" y2="1111.5" stroke="#222" stroke-width="1.6"/><line x1="513.5" y1="1111.5" x2="509" y2="1111.5" stroke="#222" stroke-width="1.6"/><text transform="translate(51.43,1115.71) scale(1.100,1)" font-size="18.30" fill="#333333">1</text></g><g font-family='"Liberation Sans", sans-serif'><text transform="translate(235.44,1238.30) scale(1.120,1)" font-size="18.50" fill="#333333">Detuning (meV)</text></g><g font-family='"Liberation Sans", sans-serif'><text transform="translate(28.94,1164.35) rotate(-90) scale(0.975,1)" font-size="21.20" fill="#333333">DOLP</text></g><polyline points="117,1160.4 119.1,1160.2 121.7,1159.8 124.8,1159.5 128.3,1159.1 132,1158.7 136,1158.2 140.1,1157.7 144.3,1157.2 148.5,1156.7 152.5,1156.2 156.4,1155.7 160,1155.2 163.5,1154.7 166.9,1154.2 170.3,1153.7 173.8,1153.2 177.2,1152.6 180.5,1152.1 183.9,1151.5 187.2,1151 190.5,1150.4 193.7,1149.9 196.9,1149.3 200,1148.7 203.1,1148.1 206.2,1147.5 209.2,1146.9 212.2,1146.3 215.2,1145.7 218.1,1145 221,1144.4 223.8,1143.8 226.6,1143.1 229.2,1142.5 231.9,1141.8 234.4,1141.2 236.8,1140.6 239.1,1140 241.3,1139.4 243.4,1138.8 245.4,1138.2 247.4,1137.6 249.4,1137 251.4,1136.4 253.4,1135.7 255.5,1135 257.7,1134.3 260,1133.5 262.4,1132.6 265,1131.7 267.7,1130.6 270.4,1129.5 273.1,1128.4 275.9,1127.3 278.7,1126.2 281.4,1125.1 284,1124.1 286.5,1123.1 288.8,1122.2 291,1121.5 293,1120.9 294.8,1120.3 296.6,1119.8 298.2,1119.4 299.7,1119 301.2,1118.7 302.6,1118.4 304,1118.1 305.5,1117.9 306.9,1117.6 308.4,1117.4 310,1117.2 311.6,1117 313.3,1116.8 315,1116.6 316.7,1116.5 318.5,1116.4 320.2,1116.3 321.9,1116.2 323.6,1116.2 325.3,1116.1 326.9,1116.1 328.5,1116 330,1116 331.5,1116 333.1,1116 334.7,1116 336.2,1116 337.8,1116 339.2,1116.1 340.7,1116.1 342,1116.2 343.2,1116.2 344.3,1116.2 345.2,1116.3 346,1116.3" fill="none" stroke="#0c8a3c" stroke-width="2.6" stroke-dasharray="6,4.5"/><polyline points="228.9,1146.6 230.2,1146.2 231.8,1145.6 233.7,1145 235.9,1144.3 238.2,1143.5 240.7,1142.7 243.2,1141.8 245.9,1141 248.5,1140.1 251.1,1139.2 253.6,1138.3 256,1137.5 258.4,1136.7 260.8,1135.8 263.3,1135 265.8,1134.1 268.4,1133.2 270.9,1132.3 273.4,1131.4 275.8,1130.5 278.2,1129.7 280.4,1128.8 282.5,1128 284.4,1127.2 286.1,1126.4 287.7,1125.6 289.1,1124.8 290.4,1124 291.6,1123.3 292.7,1122.5 293.8,1121.8 294.9,1121.1 296.1,1120.4 297.3,1119.8 298.6,1119.3 300,1118.8 301.5,1118.4 303.1,1118 304.7,1117.7 306.3,1117.5 308,1117.3 309.7,1117.1 311.4,1116.9 313.2,1116.8 314.9,1116.7 316.6,1116.6 318.3,1116.6 320,1116.5 321.7,1116.4 323.4,1116.4 325.1,1116.3 326.8,1116.3 328.6,1116.3 330.3,1116.3 332,1116.4 333.7,1116.5 335.3,1116.6 336.9,1116.7 338.5,1117 340,1117.2 341.4,1117.5 342.8,1117.9 344,1118.3 345.2,1118.7 346.4,1119.2 347.5,1119.7 348.7,1120.2 349.9,1120.8 351.2,1121.3 352.5,1121.9 354,1122.5 355.6,1123.1 357.3,1123.7 359.2,1124.4 361.1,1125 363.1,1125.7 365.2,1126.5 367.3,1127.2 369.5,1127.9 371.6,1128.7 373.8,1129.4 375.9,1130.1 378,1130.8 380,1131.5 382,1132.2 384,1132.9 386,1133.5 388.1,1134.2 390.1,1134.9 392.1,1135.6 394.1,1136.3 396,1136.9 397.9,1137.5 399.7,1138 401.4,1138.5 403,1139 404.5,1139.4 405.9,1139.7 407.1,1140 408.3,1140.3 409.4,1140.5 410.5,1140.6 411.6,1140.8 412.7,1141 413.9,1141.2 415.1,1141.3 416.4,1141.6 417.8,1141.8 419.3,1142.1 420.9,1142.4 422.5,1142.6 424.1,1142.9 425.8,1143.2 427.5,1143.6 429.3,1143.9 431,1144.2 432.9,1144.5 434.7,1144.8 436.6,1145.1 438.5,1145.4 440.5,1145.7 442.7,1146 445.1,1146.4 447.5,1146.7 450,1147.1 452.4,1147.4 454.8,1147.8 457,1148.1 459.1,1148.4 460.9,1148.6 462.5,1148.8 463.7,1149" fill="none" stroke="#0a0ad0" stroke-width="2.6" stroke-dasharray="6,4.5"/><rect x="229.3" y="1133.7" width="11.5" height="11.5" fill="#3aa63a" stroke="#1c7a2a" stroke-width="1"/><rect x="247.6" y="1121.5" width="11.5" height="11.5" fill="#3aa63a" stroke="#1c7a2a" stroke-width="1"/><rect x="263.6" y="1117.7" width="11.5" height="11.5" fill="#3aa63a" stroke="#1c7a2a" stroke-width="1"/><rect x="285.4" y="1111.5" width="11.5" height="11.5" fill="#3aa63a" stroke="#1c7a2a" stroke-width="1"/><rect x="302.1" y="1111.5" width="11.5" height="11.5" fill="#3aa63a" stroke="#1c7a2a" stroke-width="1"/><rect x="315.4" y="1110.3" width="11.5" height="11.5" fill="#3aa63a" stroke="#1c7a2a" stroke-width="1"/><rect x="332.1" y="1111.5" width="11.5" height="11.5" fill="#3aa63a" stroke="#1c7a2a" stroke-width="1"/><rect x="282.8" y="1110.8" width="11.5" height="11.5" fill="#3aa63a" stroke="#1c7a2a" stroke-width="1"/><polygon points="232.9,1117.8 225.7,1130.9 240.2,1130.9" fill="#1f85ff" stroke="#0a0ad0" stroke-width="1"/><polygon points="276.2,1112.7 268.9,1125.8 283.4,1125.8" fill="#1f85ff" stroke="#0a0ad0" stroke-width="1"/><polygon points="299.6,1109.6 292.4,1122.7 306.9,1122.7" fill="#1f85ff" stroke="#0a0ad0" stroke-width="1"/><polygon points="346.7,1108.9 339.4,1122 353.9,1122" fill="#1f85ff" stroke="#0a0ad0" stroke-width="1"/><polygon points="368.3,1112.1 361.1,1125.2 375.6,1125.2" fill="#1f85ff" stroke="#0a0ad0" stroke-width="1"/><polygon points="385.8,1115.9 378.6,1129 393.1,1129" fill="#1f85ff" stroke="#0a0ad0" stroke-width="1"/><polygon points="408,1123.4 400.8,1136.5 415.2,1136.5" fill="#1f85ff" stroke="#0a0ad0" stroke-width="1"/><polygon points="423.7,1133.1 416.4,1146.2 430.9,1146.2" fill="#1f85ff" stroke="#0a0ad0" stroke-width="1"/><polygon points="438.5,1142.6 431.2,1155.7 445.8,1155.7" fill="#1f85ff" stroke="#0a0ad0" stroke-width="1"/><polygon points="456.9,1148.5 449.6,1161.6 464.1,1161.6" fill="#1f85ff" stroke="#0a0ad0" stroke-width="1"/><polygon points="464.6,1153 457.4,1166.1 471.9,1166.1" fill="#1f85ff" stroke="#0a0ad0" stroke-width="1"/><polygon points="468.7,1158.3 461.4,1171.4 475.9,1171.4" fill="#1f85ff" stroke="#0a0ad0" stroke-width="1"/><rect x="77" y="1092.2" width="436.5" height="95.4" fill="none" stroke="#1a1a1a" stroke-width="2"/><rect x="531.5" y="1100" width="142.3" height="77.1" fill="#fff" stroke="#1a1a1a" stroke-width="1.6"/><line x1="537.2" y1="1122" x2="562.5" y2="1122" stroke="#0c8a3c" stroke-width="2.6" stroke-dasharray="6,4.5"/><line x1="537.2" y1="1148.9" x2="562.5" y2="1148.9" stroke="#0a0ad0" stroke-width="2.6" stroke-dasharray="6,4.5"/><rect x="621.3" y="1116.5" width="11" height="11" fill="#3aa63a" stroke="#1c7a2a" stroke-width="1"/><polygon points="626.8,1144.3 619.8,1156.9 633.8,1156.9" fill="#1f85ff" stroke="#0a0ad0" stroke-width="1"/><text transform="translate(566.45,1128.00) scale(0.976,1)" font-size="18.00" fill="#333333">TLS</text><text transform="translate(597.51,1137.40) scale(1.017,1)" font-size="15.80" fill="#333333">B</text><text transform="translate(566.45,1156.10) scale(0.976,1)" font-size="18.00" fill="#333333">TLS</text><text transform="translate(598.93,1162.10) scale(0.863,1)" font-size="15.80" fill="#333333">A</text><text transform="translate(639.66,1128.00) scale(0.986,1)" font-size="18.00" fill="#333333">X</text><text transform="translate(651.65,1137.40) scale(0.911,1)" font-size="15.80" fill="#333333">B</text><rect x="655.4" y="1112.9" width="8.5" height="1.3" fill="#333333"/><text transform="translate(639.66,1156.10) scale(0.986,1)" font-size="18.00" fill="#333333">X</text><text transform="translate(651.93,1165.50) scale(0.901,1)" font-size="15.80" fill="#333333">A</text></svg></body></html>
